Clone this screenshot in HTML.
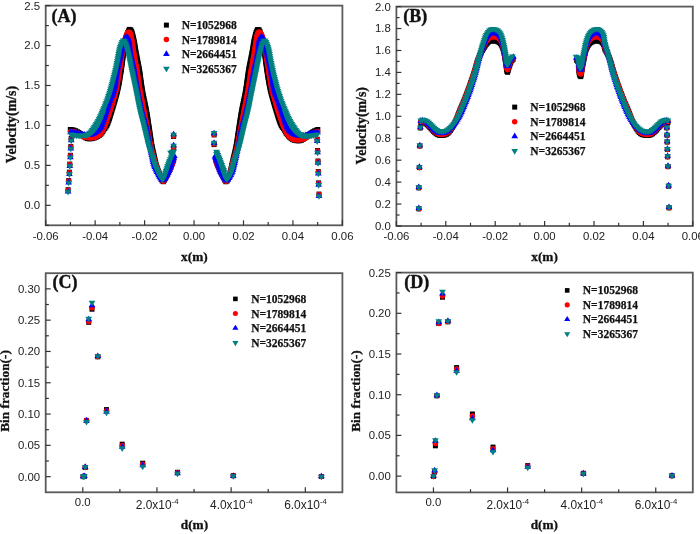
<!DOCTYPE html>
<html><head><meta charset="utf-8"><style>
html,body{margin:0;padding:0;background:#fff;}
body{width:700px;height:534px;overflow:hidden;}
svg{display:block;}
svg{will-change:transform;}
.tk{font-family:"Liberation Sans",sans-serif;font-size:11.4px;fill:#222;}
.lg{font-family:"Liberation Serif",serif;font-size:11.5px;font-weight:bold;fill:#111;stroke:#111;stroke-width:0.25px;}
.pt{font-family:"Liberation Serif",serif;font-size:18px;font-weight:bold;fill:#111;stroke:#111;stroke-width:0.4px;}
.al{font-family:"Liberation Serif",serif;font-size:13.3px;font-weight:bold;fill:#111;stroke:#111;stroke-width:0.3px;}
</style></head><body>
<svg width="700" height="534" viewBox="0 0 700 534">
<rect x="45.7" y="5.6" width="296.7" height="219.7" fill="none" stroke="#5a5a5a" stroke-width="1.8"/>
<line x1="45.7" y1="205.33" x2="50.7" y2="205.33" stroke="#333" stroke-width="1.2"/>
<line x1="45.7" y1="165.38" x2="50.7" y2="165.38" stroke="#333" stroke-width="1.2"/>
<line x1="45.7" y1="125.44" x2="50.7" y2="125.44" stroke="#333" stroke-width="1.2"/>
<line x1="45.7" y1="85.49" x2="50.7" y2="85.49" stroke="#333" stroke-width="1.2"/>
<line x1="45.7" y1="45.55" x2="50.7" y2="45.55" stroke="#333" stroke-width="1.2"/>
<line x1="45.7" y1="5.6" x2="50.7" y2="5.6" stroke="#333" stroke-width="1.2"/>
<line x1="45.7" y1="225.3" x2="48.9" y2="225.3" stroke="#333" stroke-width="1.2"/>
<line x1="45.7" y1="185.35" x2="48.9" y2="185.35" stroke="#333" stroke-width="1.2"/>
<line x1="45.7" y1="145.41" x2="48.9" y2="145.41" stroke="#333" stroke-width="1.2"/>
<line x1="45.7" y1="105.46" x2="48.9" y2="105.46" stroke="#333" stroke-width="1.2"/>
<line x1="45.7" y1="65.52" x2="48.9" y2="65.52" stroke="#333" stroke-width="1.2"/>
<line x1="45.7" y1="25.57" x2="48.9" y2="25.57" stroke="#333" stroke-width="1.2"/>
<text x="40.1" y="209.23" text-anchor="end" class="tk">0.0</text>
<text x="40.1" y="169.28" text-anchor="end" class="tk">0.5</text>
<text x="40.1" y="129.34" text-anchor="end" class="tk">1.0</text>
<text x="40.1" y="89.39" text-anchor="end" class="tk">1.5</text>
<text x="40.1" y="49.45" text-anchor="end" class="tk">2.0</text>
<text x="40.1" y="9.5" text-anchor="end" class="tk">2.5</text>
<line x1="45.7" y1="225.3" x2="45.7" y2="220.3" stroke="#333" stroke-width="1.2"/>
<line x1="95.15" y1="225.3" x2="95.15" y2="220.3" stroke="#333" stroke-width="1.2"/>
<line x1="144.6" y1="225.3" x2="144.6" y2="220.3" stroke="#333" stroke-width="1.2"/>
<line x1="194.05" y1="225.3" x2="194.05" y2="220.3" stroke="#333" stroke-width="1.2"/>
<line x1="243.5" y1="225.3" x2="243.5" y2="220.3" stroke="#333" stroke-width="1.2"/>
<line x1="292.95" y1="225.3" x2="292.95" y2="220.3" stroke="#333" stroke-width="1.2"/>
<line x1="342.4" y1="225.3" x2="342.4" y2="220.3" stroke="#333" stroke-width="1.2"/>
<line x1="70.42" y1="225.3" x2="70.42" y2="222.1" stroke="#333" stroke-width="1.2"/>
<line x1="119.88" y1="225.3" x2="119.88" y2="222.1" stroke="#333" stroke-width="1.2"/>
<line x1="169.32" y1="225.3" x2="169.32" y2="222.1" stroke="#333" stroke-width="1.2"/>
<line x1="218.77" y1="225.3" x2="218.77" y2="222.1" stroke="#333" stroke-width="1.2"/>
<line x1="268.22" y1="225.3" x2="268.22" y2="222.1" stroke="#333" stroke-width="1.2"/>
<line x1="317.68" y1="225.3" x2="317.68" y2="222.1" stroke="#333" stroke-width="1.2"/>
<text x="45.7" y="239.6" text-anchor="middle" class="tk">-0.06</text>
<text x="95.15" y="239.6" text-anchor="middle" class="tk">-0.04</text>
<text x="144.6" y="239.6" text-anchor="middle" class="tk">-0.02</text>
<text x="194.05" y="239.6" text-anchor="middle" class="tk">0.00</text>
<text x="243.5" y="239.6" text-anchor="middle" class="tk">0.02</text>
<text x="292.95" y="239.6" text-anchor="middle" class="tk">0.04</text>
<text x="342.4" y="239.6" text-anchor="middle" class="tk">0.06</text>
<rect x="396.4" y="6.6" width="296.4" height="219.4" fill="none" stroke="#5a5a5a" stroke-width="1.8"/>
<line x1="396.4" y1="226" x2="401.4" y2="226" stroke="#333" stroke-width="1.2"/>
<line x1="396.4" y1="204.06" x2="401.4" y2="204.06" stroke="#333" stroke-width="1.2"/>
<line x1="396.4" y1="182.12" x2="401.4" y2="182.12" stroke="#333" stroke-width="1.2"/>
<line x1="396.4" y1="160.18" x2="401.4" y2="160.18" stroke="#333" stroke-width="1.2"/>
<line x1="396.4" y1="138.24" x2="401.4" y2="138.24" stroke="#333" stroke-width="1.2"/>
<line x1="396.4" y1="116.3" x2="401.4" y2="116.3" stroke="#333" stroke-width="1.2"/>
<line x1="396.4" y1="94.36" x2="401.4" y2="94.36" stroke="#333" stroke-width="1.2"/>
<line x1="396.4" y1="72.42" x2="401.4" y2="72.42" stroke="#333" stroke-width="1.2"/>
<line x1="396.4" y1="50.48" x2="401.4" y2="50.48" stroke="#333" stroke-width="1.2"/>
<line x1="396.4" y1="28.54" x2="401.4" y2="28.54" stroke="#333" stroke-width="1.2"/>
<line x1="396.4" y1="6.6" x2="401.4" y2="6.6" stroke="#333" stroke-width="1.2"/>
<line x1="396.4" y1="215.03" x2="399.6" y2="215.03" stroke="#333" stroke-width="1.2"/>
<line x1="396.4" y1="193.09" x2="399.6" y2="193.09" stroke="#333" stroke-width="1.2"/>
<line x1="396.4" y1="171.15" x2="399.6" y2="171.15" stroke="#333" stroke-width="1.2"/>
<line x1="396.4" y1="149.21" x2="399.6" y2="149.21" stroke="#333" stroke-width="1.2"/>
<line x1="396.4" y1="127.27" x2="399.6" y2="127.27" stroke="#333" stroke-width="1.2"/>
<line x1="396.4" y1="105.33" x2="399.6" y2="105.33" stroke="#333" stroke-width="1.2"/>
<line x1="396.4" y1="83.39" x2="399.6" y2="83.39" stroke="#333" stroke-width="1.2"/>
<line x1="396.4" y1="61.45" x2="399.6" y2="61.45" stroke="#333" stroke-width="1.2"/>
<line x1="396.4" y1="39.51" x2="399.6" y2="39.51" stroke="#333" stroke-width="1.2"/>
<line x1="396.4" y1="17.57" x2="399.6" y2="17.57" stroke="#333" stroke-width="1.2"/>
<text x="390.8" y="229.9" text-anchor="end" class="tk">0.0</text>
<text x="390.8" y="207.96" text-anchor="end" class="tk">0.2</text>
<text x="390.8" y="186.02" text-anchor="end" class="tk">0.4</text>
<text x="390.8" y="164.08" text-anchor="end" class="tk">0.6</text>
<text x="390.8" y="142.14" text-anchor="end" class="tk">0.8</text>
<text x="390.8" y="120.2" text-anchor="end" class="tk">1.0</text>
<text x="390.8" y="98.26" text-anchor="end" class="tk">1.2</text>
<text x="390.8" y="76.32" text-anchor="end" class="tk">1.4</text>
<text x="390.8" y="54.38" text-anchor="end" class="tk">1.6</text>
<text x="390.8" y="32.44" text-anchor="end" class="tk">1.8</text>
<text x="390.8" y="10.5" text-anchor="end" class="tk">2.0</text>
<line x1="396.4" y1="226" x2="396.4" y2="221" stroke="#333" stroke-width="1.2"/>
<line x1="445.8" y1="226" x2="445.8" y2="221" stroke="#333" stroke-width="1.2"/>
<line x1="495.2" y1="226" x2="495.2" y2="221" stroke="#333" stroke-width="1.2"/>
<line x1="544.6" y1="226" x2="544.6" y2="221" stroke="#333" stroke-width="1.2"/>
<line x1="594" y1="226" x2="594" y2="221" stroke="#333" stroke-width="1.2"/>
<line x1="643.4" y1="226" x2="643.4" y2="221" stroke="#333" stroke-width="1.2"/>
<line x1="692.8" y1="226" x2="692.8" y2="221" stroke="#333" stroke-width="1.2"/>
<line x1="421.1" y1="226" x2="421.1" y2="222.8" stroke="#333" stroke-width="1.2"/>
<line x1="470.5" y1="226" x2="470.5" y2="222.8" stroke="#333" stroke-width="1.2"/>
<line x1="519.9" y1="226" x2="519.9" y2="222.8" stroke="#333" stroke-width="1.2"/>
<line x1="569.3" y1="226" x2="569.3" y2="222.8" stroke="#333" stroke-width="1.2"/>
<line x1="618.7" y1="226" x2="618.7" y2="222.8" stroke="#333" stroke-width="1.2"/>
<line x1="668.1" y1="226" x2="668.1" y2="222.8" stroke="#333" stroke-width="1.2"/>
<text x="396.4" y="240.3" text-anchor="middle" class="tk">-0.06</text>
<text x="445.8" y="240.3" text-anchor="middle" class="tk">-0.04</text>
<text x="495.2" y="240.3" text-anchor="middle" class="tk">-0.02</text>
<text x="544.6" y="240.3" text-anchor="middle" class="tk">0.00</text>
<text x="594" y="240.3" text-anchor="middle" class="tk">0.02</text>
<text x="643.4" y="240.3" text-anchor="middle" class="tk">0.04</text>
<text x="692.8" y="240.3" text-anchor="middle" class="tk">0.06</text>
<rect x="45.7" y="273.2" width="296.7" height="219.1" fill="none" stroke="#5a5a5a" stroke-width="1.8"/>
<line x1="45.7" y1="476.65" x2="50.7" y2="476.65" stroke="#333" stroke-width="1.2"/>
<line x1="45.7" y1="445.35" x2="50.7" y2="445.35" stroke="#333" stroke-width="1.2"/>
<line x1="45.7" y1="414.05" x2="50.7" y2="414.05" stroke="#333" stroke-width="1.2"/>
<line x1="45.7" y1="382.75" x2="50.7" y2="382.75" stroke="#333" stroke-width="1.2"/>
<line x1="45.7" y1="351.45" x2="50.7" y2="351.45" stroke="#333" stroke-width="1.2"/>
<line x1="45.7" y1="320.15" x2="50.7" y2="320.15" stroke="#333" stroke-width="1.2"/>
<line x1="45.7" y1="288.85" x2="50.7" y2="288.85" stroke="#333" stroke-width="1.2"/>
<line x1="45.7" y1="461" x2="48.9" y2="461" stroke="#333" stroke-width="1.2"/>
<line x1="45.7" y1="429.7" x2="48.9" y2="429.7" stroke="#333" stroke-width="1.2"/>
<line x1="45.7" y1="398.4" x2="48.9" y2="398.4" stroke="#333" stroke-width="1.2"/>
<line x1="45.7" y1="367.1" x2="48.9" y2="367.1" stroke="#333" stroke-width="1.2"/>
<line x1="45.7" y1="335.8" x2="48.9" y2="335.8" stroke="#333" stroke-width="1.2"/>
<line x1="45.7" y1="304.5" x2="48.9" y2="304.5" stroke="#333" stroke-width="1.2"/>
<text x="40.1" y="480.55" text-anchor="end" class="tk">0.00</text>
<text x="40.1" y="449.25" text-anchor="end" class="tk">0.05</text>
<text x="40.1" y="417.95" text-anchor="end" class="tk">0.10</text>
<text x="40.1" y="386.65" text-anchor="end" class="tk">0.15</text>
<text x="40.1" y="355.35" text-anchor="end" class="tk">0.20</text>
<text x="40.1" y="324.05" text-anchor="end" class="tk">0.25</text>
<text x="40.1" y="292.75" text-anchor="end" class="tk">0.30</text>
<line x1="82.79" y1="492.3" x2="82.79" y2="487.3" stroke="#333" stroke-width="1.2"/>
<line x1="156.96" y1="492.3" x2="156.96" y2="487.3" stroke="#333" stroke-width="1.2"/>
<line x1="231.14" y1="492.3" x2="231.14" y2="487.3" stroke="#333" stroke-width="1.2"/>
<line x1="305.31" y1="492.3" x2="305.31" y2="487.3" stroke="#333" stroke-width="1.2"/>
<line x1="119.88" y1="492.3" x2="119.88" y2="489.1" stroke="#333" stroke-width="1.2"/>
<line x1="194.05" y1="492.3" x2="194.05" y2="489.1" stroke="#333" stroke-width="1.2"/>
<line x1="268.22" y1="492.3" x2="268.22" y2="489.1" stroke="#333" stroke-width="1.2"/>
<text x="82.79" y="506.3" text-anchor="middle" class="tk">0.0</text>
<text x="157.16" y="508.8" text-anchor="middle" class="tk" style="font-size:11.9px">2.0x10<tspan dy="-5.2" font-size="7.8">-4</tspan></text>
<text x="231.34" y="508.8" text-anchor="middle" class="tk" style="font-size:11.9px">4.0x10<tspan dy="-5.2" font-size="7.8">-4</tspan></text>
<text x="305.51" y="508.8" text-anchor="middle" class="tk" style="font-size:11.9px">6.0x10<tspan dy="-5.2" font-size="7.8">-4</tspan></text>
<rect x="396.4" y="272.6" width="296.4" height="219.8" fill="none" stroke="#5a5a5a" stroke-width="1.8"/>
<line x1="396.4" y1="476.12" x2="401.4" y2="476.12" stroke="#333" stroke-width="1.2"/>
<line x1="396.4" y1="435.41" x2="401.4" y2="435.41" stroke="#333" stroke-width="1.2"/>
<line x1="396.4" y1="394.71" x2="401.4" y2="394.71" stroke="#333" stroke-width="1.2"/>
<line x1="396.4" y1="354.01" x2="401.4" y2="354.01" stroke="#333" stroke-width="1.2"/>
<line x1="396.4" y1="313.3" x2="401.4" y2="313.3" stroke="#333" stroke-width="1.2"/>
<line x1="396.4" y1="272.6" x2="401.4" y2="272.6" stroke="#333" stroke-width="1.2"/>
<line x1="396.4" y1="455.77" x2="399.6" y2="455.77" stroke="#333" stroke-width="1.2"/>
<line x1="396.4" y1="415.06" x2="399.6" y2="415.06" stroke="#333" stroke-width="1.2"/>
<line x1="396.4" y1="374.36" x2="399.6" y2="374.36" stroke="#333" stroke-width="1.2"/>
<line x1="396.4" y1="333.66" x2="399.6" y2="333.66" stroke="#333" stroke-width="1.2"/>
<line x1="396.4" y1="292.95" x2="399.6" y2="292.95" stroke="#333" stroke-width="1.2"/>
<text x="390.8" y="480.02" text-anchor="end" class="tk">0.00</text>
<text x="390.8" y="439.31" text-anchor="end" class="tk">0.05</text>
<text x="390.8" y="398.61" text-anchor="end" class="tk">0.10</text>
<text x="390.8" y="357.91" text-anchor="end" class="tk">0.15</text>
<text x="390.8" y="317.2" text-anchor="end" class="tk">0.20</text>
<text x="390.8" y="276.5" text-anchor="end" class="tk">0.25</text>
<line x1="433.45" y1="492.4" x2="433.45" y2="487.4" stroke="#333" stroke-width="1.2"/>
<line x1="507.55" y1="492.4" x2="507.55" y2="487.4" stroke="#333" stroke-width="1.2"/>
<line x1="581.65" y1="492.4" x2="581.65" y2="487.4" stroke="#333" stroke-width="1.2"/>
<line x1="655.75" y1="492.4" x2="655.75" y2="487.4" stroke="#333" stroke-width="1.2"/>
<line x1="470.5" y1="492.4" x2="470.5" y2="489.2" stroke="#333" stroke-width="1.2"/>
<line x1="544.6" y1="492.4" x2="544.6" y2="489.2" stroke="#333" stroke-width="1.2"/>
<line x1="618.7" y1="492.4" x2="618.7" y2="489.2" stroke="#333" stroke-width="1.2"/>
<text x="433.45" y="506.4" text-anchor="middle" class="tk">0.0</text>
<text x="507.75" y="508.9" text-anchor="middle" class="tk" style="font-size:11.9px">2.0x10<tspan dy="-5.2" font-size="7.8">-4</tspan></text>
<text x="581.85" y="508.9" text-anchor="middle" class="tk" style="font-size:11.9px">4.0x10<tspan dy="-5.2" font-size="7.8">-4</tspan></text>
<text x="655.95" y="508.9" text-anchor="middle" class="tk" style="font-size:11.9px">6.0x10<tspan dy="-5.2" font-size="7.8">-4</tspan></text>
<rect x="65.6" y="187.2" width="5" height="5" fill="#000"/>
<rect x="66.2" y="178.1" width="5" height="5" fill="#000"/>
<rect x="66.9" y="169.7" width="5" height="5" fill="#000"/>
<rect x="67.3" y="161.6" width="5" height="5" fill="#000"/>
<rect x="67.9" y="152.8" width="5" height="5" fill="#000"/>
<rect x="68.3" y="144.1" width="5" height="5" fill="#000"/>
<rect x="68.7" y="136" width="5" height="5" fill="#000"/>
<rect x="171.1" y="145.5" width="5" height="5" fill="#000"/>
<rect x="171.1" y="134" width="5" height="5" fill="#000"/>
<rect x="67.8" y="127" width="5" height="5" fill="#000"/>
<rect x="69.58" y="127.25" width="5" height="5" fill="#000"/>
<rect x="71.35" y="127.61" width="5" height="5" fill="#000"/>
<rect x="73.03" y="128.24" width="5" height="5" fill="#000"/>
<rect x="74.63" y="129.07" width="5" height="5" fill="#000"/>
<rect x="76.17" y="129.98" width="5" height="5" fill="#000"/>
<rect x="77.69" y="130.96" width="5" height="5" fill="#000"/>
<rect x="79.16" y="131.99" width="5" height="5" fill="#000"/>
<rect x="80.53" y="133.16" width="5" height="5" fill="#000"/>
<rect x="81.88" y="134.36" width="5" height="5" fill="#000"/>
<rect x="83.33" y="135.4" width="5" height="5" fill="#000"/>
<rect x="85" y="136.08" width="5" height="5" fill="#000"/>
<rect x="86.77" y="136.33" width="5" height="5" fill="#000"/>
<rect x="88.57" y="136.24" width="5" height="5" fill="#000"/>
<rect x="90.34" y="135.9" width="5" height="5" fill="#000"/>
<rect x="92.06" y="135.38" width="5" height="5" fill="#000"/>
<rect x="93.72" y="134.7" width="5" height="5" fill="#000"/>
<rect x="95.31" y="133.86" width="5" height="5" fill="#000"/>
<rect x="96.82" y="132.88" width="5" height="5" fill="#000"/>
<rect x="98.23" y="131.75" width="5" height="5" fill="#000"/>
<rect x="99.42" y="130.41" width="5" height="5" fill="#000"/>
<rect x="100.37" y="128.88" width="5" height="5" fill="#000"/>
<rect x="101.28" y="127.33" width="5" height="5" fill="#000"/>
<rect x="102.37" y="125.9" width="5" height="5" fill="#000"/>
<rect x="103.49" y="124.49" width="5" height="5" fill="#000"/>
<rect x="104.38" y="122.93" width="5" height="5" fill="#000"/>
<rect x="105.11" y="121.29" width="5" height="5" fill="#000"/>
<rect x="105.75" y="119.61" width="5" height="5" fill="#000"/>
<rect x="106.36" y="117.91" width="5" height="5" fill="#000"/>
<rect x="106.93" y="116.2" width="5" height="5" fill="#000"/>
<rect x="107.48" y="114.49" width="5" height="5" fill="#000"/>
<rect x="108.01" y="112.77" width="5" height="5" fill="#000"/>
<rect x="108.53" y="111.05" width="5" height="5" fill="#000"/>
<rect x="109.05" y="109.32" width="5" height="5" fill="#000"/>
<rect x="109.57" y="107.6" width="5" height="5" fill="#000"/>
<rect x="110.1" y="105.88" width="5" height="5" fill="#000"/>
<rect x="110.63" y="104.16" width="5" height="5" fill="#000"/>
<rect x="111.15" y="102.43" width="5" height="5" fill="#000"/>
<rect x="111.66" y="100.71" width="5" height="5" fill="#000"/>
<rect x="112.16" y="98.98" width="5" height="5" fill="#000"/>
<rect x="112.66" y="97.25" width="5" height="5" fill="#000"/>
<rect x="113.15" y="95.52" width="5" height="5" fill="#000"/>
<rect x="113.63" y="93.79" width="5" height="5" fill="#000"/>
<rect x="114.1" y="92.05" width="5" height="5" fill="#000"/>
<rect x="114.56" y="90.31" width="5" height="5" fill="#000"/>
<rect x="114.99" y="88.56" width="5" height="5" fill="#000"/>
<rect x="115.38" y="86.8" width="5" height="5" fill="#000"/>
<rect x="115.76" y="85.04" width="5" height="5" fill="#000"/>
<rect x="116.11" y="83.28" width="5" height="5" fill="#000"/>
<rect x="116.45" y="81.51" width="5" height="5" fill="#000"/>
<rect x="116.78" y="79.74" width="5" height="5" fill="#000"/>
<rect x="117.09" y="77.97" width="5" height="5" fill="#000"/>
<rect x="117.4" y="76.19" width="5" height="5" fill="#000"/>
<rect x="117.69" y="74.42" width="5" height="5" fill="#000"/>
<rect x="117.97" y="72.64" width="5" height="5" fill="#000"/>
<rect x="118.24" y="70.86" width="5" height="5" fill="#000"/>
<rect x="118.51" y="69.08" width="5" height="5" fill="#000"/>
<rect x="118.78" y="67.3" width="5" height="5" fill="#000"/>
<rect x="119.03" y="65.52" width="5" height="5" fill="#000"/>
<rect x="119.28" y="63.74" width="5" height="5" fill="#000"/>
<rect x="119.53" y="61.95" width="5" height="5" fill="#000"/>
<rect x="119.77" y="60.17" width="5" height="5" fill="#000"/>
<rect x="120.02" y="58.39" width="5" height="5" fill="#000"/>
<rect x="120.25" y="56.6" width="5" height="5" fill="#000"/>
<rect x="120.48" y="54.82" width="5" height="5" fill="#000"/>
<rect x="120.71" y="53.03" width="5" height="5" fill="#000"/>
<rect x="120.94" y="51.25" width="5" height="5" fill="#000"/>
<rect x="121.19" y="49.46" width="5" height="5" fill="#000"/>
<rect x="121.47" y="47.68" width="5" height="5" fill="#000"/>
<rect x="121.78" y="45.91" width="5" height="5" fill="#000"/>
<rect x="122.11" y="44.14" width="5" height="5" fill="#000"/>
<rect x="122.46" y="42.38" width="5" height="5" fill="#000"/>
<rect x="122.83" y="40.61" width="5" height="5" fill="#000"/>
<rect x="123.21" y="38.85" width="5" height="5" fill="#000"/>
<rect x="123.59" y="37.09" width="5" height="5" fill="#000"/>
<rect x="123.97" y="35.34" width="5" height="5" fill="#000"/>
<rect x="124.36" y="33.58" width="5" height="5" fill="#000"/>
<rect x="124.78" y="31.83" width="5" height="5" fill="#000"/>
<rect x="125.27" y="30.1" width="5" height="5" fill="#000"/>
<rect x="125.89" y="28.41" width="5" height="5" fill="#000"/>
<rect x="126.83" y="26.88" width="5" height="5" fill="#000"/>
<rect x="128.32" y="27.32" width="5" height="5" fill="#000"/>
<rect x="129.17" y="28.9" width="5" height="5" fill="#000"/>
<rect x="129.72" y="30.61" width="5" height="5" fill="#000"/>
<rect x="130.17" y="32.35" width="5" height="5" fill="#000"/>
<rect x="130.6" y="34.1" width="5" height="5" fill="#000"/>
<rect x="131.03" y="35.85" width="5" height="5" fill="#000"/>
<rect x="131.42" y="37.61" width="5" height="5" fill="#000"/>
<rect x="131.79" y="39.37" width="5" height="5" fill="#000"/>
<rect x="132.11" y="41.14" width="5" height="5" fill="#000"/>
<rect x="132.39" y="42.92" width="5" height="5" fill="#000"/>
<rect x="132.65" y="44.7" width="5" height="5" fill="#000"/>
<rect x="132.93" y="46.48" width="5" height="5" fill="#000"/>
<rect x="133.23" y="48.25" width="5" height="5" fill="#000"/>
<rect x="133.56" y="50.02" width="5" height="5" fill="#000"/>
<rect x="133.9" y="51.79" width="5" height="5" fill="#000"/>
<rect x="134.24" y="53.56" width="5" height="5" fill="#000"/>
<rect x="134.58" y="55.33" width="5" height="5" fill="#000"/>
<rect x="134.92" y="57.09" width="5" height="5" fill="#000"/>
<rect x="135.27" y="58.86" width="5" height="5" fill="#000"/>
<rect x="135.63" y="60.62" width="5" height="5" fill="#000"/>
<rect x="135.99" y="62.39" width="5" height="5" fill="#000"/>
<rect x="136.34" y="64.15" width="5" height="5" fill="#000"/>
<rect x="136.66" y="65.92" width="5" height="5" fill="#000"/>
<rect x="136.97" y="67.7" width="5" height="5" fill="#000"/>
<rect x="137.25" y="69.47" width="5" height="5" fill="#000"/>
<rect x="137.51" y="71.25" width="5" height="5" fill="#000"/>
<rect x="137.77" y="73.04" width="5" height="5" fill="#000"/>
<rect x="138.01" y="74.82" width="5" height="5" fill="#000"/>
<rect x="138.25" y="76.6" width="5" height="5" fill="#000"/>
<rect x="138.49" y="78.39" width="5" height="5" fill="#000"/>
<rect x="138.74" y="80.17" width="5" height="5" fill="#000"/>
<rect x="138.99" y="81.95" width="5" height="5" fill="#000"/>
<rect x="139.25" y="83.74" width="5" height="5" fill="#000"/>
<rect x="139.52" y="85.51" width="5" height="5" fill="#000"/>
<rect x="139.8" y="87.29" width="5" height="5" fill="#000"/>
<rect x="140.1" y="89.07" width="5" height="5" fill="#000"/>
<rect x="140.42" y="90.84" width="5" height="5" fill="#000"/>
<rect x="140.76" y="92.61" width="5" height="5" fill="#000"/>
<rect x="141.11" y="94.37" width="5" height="5" fill="#000"/>
<rect x="141.47" y="96.13" width="5" height="5" fill="#000"/>
<rect x="141.84" y="97.9" width="5" height="5" fill="#000"/>
<rect x="142.21" y="99.66" width="5" height="5" fill="#000"/>
<rect x="142.58" y="101.42" width="5" height="5" fill="#000"/>
<rect x="142.95" y="103.18" width="5" height="5" fill="#000"/>
<rect x="143.31" y="104.95" width="5" height="5" fill="#000"/>
<rect x="143.66" y="106.71" width="5" height="5" fill="#000"/>
<rect x="144" y="108.48" width="5" height="5" fill="#000"/>
<rect x="144.31" y="110.25" width="5" height="5" fill="#000"/>
<rect x="144.62" y="112.02" width="5" height="5" fill="#000"/>
<rect x="144.91" y="113.8" width="5" height="5" fill="#000"/>
<rect x="145.19" y="115.58" width="5" height="5" fill="#000"/>
<rect x="145.47" y="117.36" width="5" height="5" fill="#000"/>
<rect x="145.73" y="119.14" width="5" height="5" fill="#000"/>
<rect x="146" y="120.92" width="5" height="5" fill="#000"/>
<rect x="146.28" y="122.7" width="5" height="5" fill="#000"/>
<rect x="146.55" y="124.48" width="5" height="5" fill="#000"/>
<rect x="146.82" y="126.26" width="5" height="5" fill="#000"/>
<rect x="147.08" y="128.04" width="5" height="5" fill="#000"/>
<rect x="147.35" y="129.82" width="5" height="5" fill="#000"/>
<rect x="147.61" y="131.6" width="5" height="5" fill="#000"/>
<rect x="147.87" y="133.38" width="5" height="5" fill="#000"/>
<rect x="148.13" y="135.16" width="5" height="5" fill="#000"/>
<rect x="148.4" y="136.94" width="5" height="5" fill="#000"/>
<rect x="148.68" y="138.72" width="5" height="5" fill="#000"/>
<rect x="148.96" y="140.49" width="5" height="5" fill="#000"/>
<rect x="149.26" y="142.27" width="5" height="5" fill="#000"/>
<rect x="149.58" y="144.04" width="5" height="5" fill="#000"/>
<rect x="149.93" y="145.81" width="5" height="5" fill="#000"/>
<rect x="150.31" y="147.57" width="5" height="5" fill="#000"/>
<rect x="150.71" y="149.32" width="5" height="5" fill="#000"/>
<rect x="151.13" y="151.07" width="5" height="5" fill="#000"/>
<rect x="151.54" y="152.82" width="5" height="5" fill="#000"/>
<rect x="151.94" y="154.58" width="5" height="5" fill="#000"/>
<rect x="152.32" y="156.34" width="5" height="5" fill="#000"/>
<rect x="152.69" y="158.1" width="5" height="5" fill="#000"/>
<rect x="153.1" y="159.85" width="5" height="5" fill="#000"/>
<rect x="153.54" y="161.6" width="5" height="5" fill="#000"/>
<rect x="154.05" y="163.32" width="5" height="5" fill="#000"/>
<rect x="154.61" y="165.04" width="5" height="5" fill="#000"/>
<rect x="155.2" y="166.73" width="5" height="5" fill="#000"/>
<rect x="155.82" y="168.42" width="5" height="5" fill="#000"/>
<rect x="156.46" y="170.11" width="5" height="5" fill="#000"/>
<rect x="157.11" y="171.79" width="5" height="5" fill="#000"/>
<rect x="157.72" y="173.48" width="5" height="5" fill="#000"/>
<rect x="158.31" y="175.18" width="5" height="5" fill="#000"/>
<rect x="158.94" y="176.87" width="5" height="5" fill="#000"/>
<rect x="159.68" y="178.51" width="5" height="5" fill="#000"/>
<rect x="161.01" y="179.2" width="5" height="5" fill="#000"/>
<rect x="161.95" y="177.68" width="5" height="5" fill="#000"/>
<rect x="162.71" y="176.04" width="5" height="5" fill="#000"/>
<rect x="163.57" y="174.46" width="5" height="5" fill="#000"/>
<rect x="164.39" y="172.86" width="5" height="5" fill="#000"/>
<rect x="165.17" y="171.24" width="5" height="5" fill="#000"/>
<rect x="165.95" y="169.61" width="5" height="5" fill="#000"/>
<rect x="166.73" y="167.99" width="5" height="5" fill="#000"/>
<rect x="167.51" y="166.37" width="5" height="5" fill="#000"/>
<rect x="168.26" y="164.73" width="5" height="5" fill="#000"/>
<rect x="168.97" y="163.08" width="5" height="5" fill="#000"/>
<rect x="169.59" y="161.39" width="5" height="5" fill="#000"/>
<rect x="170.16" y="159.68" width="5" height="5" fill="#000"/>
<rect x="170.7" y="157.97" width="5" height="5" fill="#000"/>
<rect x="314.7" y="136.7" width="5" height="5" fill="#000"/>
<rect x="315.1" y="148" width="5" height="5" fill="#000"/>
<rect x="315.5" y="158.5" width="5" height="5" fill="#000"/>
<rect x="315.8" y="169.1" width="5" height="5" fill="#000"/>
<rect x="316.1" y="180.4" width="5" height="5" fill="#000"/>
<rect x="316.5" y="191.6" width="5" height="5" fill="#000"/>
<rect x="211.6" y="132.4" width="5" height="5" fill="#000"/>
<rect x="211.6" y="142.1" width="5" height="5" fill="#000"/>
<rect x="315.3" y="127" width="5" height="5" fill="#000"/>
<rect x="313.63" y="127.67" width="5" height="5" fill="#000"/>
<rect x="311.98" y="128.4" width="5" height="5" fill="#000"/>
<rect x="310.41" y="129.26" width="5" height="5" fill="#000"/>
<rect x="308.91" y="130.27" width="5" height="5" fill="#000"/>
<rect x="307.46" y="131.33" width="5" height="5" fill="#000"/>
<rect x="306.02" y="132.41" width="5" height="5" fill="#000"/>
<rect x="304.59" y="133.51" width="5" height="5" fill="#000"/>
<rect x="303.21" y="134.66" width="5" height="5" fill="#000"/>
<rect x="301.86" y="135.85" width="5" height="5" fill="#000"/>
<rect x="300.46" y="136.97" width="5" height="5" fill="#000"/>
<rect x="298.88" y="137.82" width="5" height="5" fill="#000"/>
<rect x="297.14" y="138.27" width="5" height="5" fill="#000"/>
<rect x="295.34" y="138.31" width="5" height="5" fill="#000"/>
<rect x="293.55" y="138.13" width="5" height="5" fill="#000"/>
<rect x="291.79" y="137.74" width="5" height="5" fill="#000"/>
<rect x="290.12" y="137.09" width="5" height="5" fill="#000"/>
<rect x="288.61" y="136.11" width="5" height="5" fill="#000"/>
<rect x="287.26" y="134.92" width="5" height="5" fill="#000"/>
<rect x="286.01" y="133.63" width="5" height="5" fill="#000"/>
<rect x="284.83" y="132.27" width="5" height="5" fill="#000"/>
<rect x="283.76" y="130.82" width="5" height="5" fill="#000"/>
<rect x="282.87" y="129.26" width="5" height="5" fill="#000"/>
<rect x="282.01" y="127.68" width="5" height="5" fill="#000"/>
<rect x="281.01" y="126.19" width="5" height="5" fill="#000"/>
<rect x="279.85" y="124.81" width="5" height="5" fill="#000"/>
<rect x="278.89" y="123.29" width="5" height="5" fill="#000"/>
<rect x="278.14" y="121.65" width="5" height="5" fill="#000"/>
<rect x="277.48" y="119.98" width="5" height="5" fill="#000"/>
<rect x="276.87" y="118.29" width="5" height="5" fill="#000"/>
<rect x="276.29" y="116.58" width="5" height="5" fill="#000"/>
<rect x="275.74" y="114.87" width="5" height="5" fill="#000"/>
<rect x="275.21" y="113.15" width="5" height="5" fill="#000"/>
<rect x="274.69" y="111.43" width="5" height="5" fill="#000"/>
<rect x="274.17" y="109.7" width="5" height="5" fill="#000"/>
<rect x="273.64" y="107.98" width="5" height="5" fill="#000"/>
<rect x="273.12" y="106.26" width="5" height="5" fill="#000"/>
<rect x="272.59" y="104.54" width="5" height="5" fill="#000"/>
<rect x="272.07" y="102.82" width="5" height="5" fill="#000"/>
<rect x="271.55" y="101.09" width="5" height="5" fill="#000"/>
<rect x="271.05" y="99.36" width="5" height="5" fill="#000"/>
<rect x="270.55" y="97.63" width="5" height="5" fill="#000"/>
<rect x="270.06" y="95.9" width="5" height="5" fill="#000"/>
<rect x="269.57" y="94.17" width="5" height="5" fill="#000"/>
<rect x="269.1" y="92.43" width="5" height="5" fill="#000"/>
<rect x="268.64" y="90.69" width="5" height="5" fill="#000"/>
<rect x="268.21" y="88.94" width="5" height="5" fill="#000"/>
<rect x="267.8" y="87.19" width="5" height="5" fill="#000"/>
<rect x="267.42" y="85.43" width="5" height="5" fill="#000"/>
<rect x="267.06" y="83.67" width="5" height="5" fill="#000"/>
<rect x="266.72" y="81.9" width="5" height="5" fill="#000"/>
<rect x="266.4" y="80.13" width="5" height="5" fill="#000"/>
<rect x="266.07" y="78.36" width="5" height="5" fill="#000"/>
<rect x="265.77" y="76.59" width="5" height="5" fill="#000"/>
<rect x="265.47" y="74.81" width="5" height="5" fill="#000"/>
<rect x="265.19" y="73.03" width="5" height="5" fill="#000"/>
<rect x="264.92" y="71.25" width="5" height="5" fill="#000"/>
<rect x="264.65" y="69.47" width="5" height="5" fill="#000"/>
<rect x="264.38" y="67.69" width="5" height="5" fill="#000"/>
<rect x="264.12" y="65.91" width="5" height="5" fill="#000"/>
<rect x="263.87" y="64.13" width="5" height="5" fill="#000"/>
<rect x="263.63" y="62.35" width="5" height="5" fill="#000"/>
<rect x="263.38" y="60.56" width="5" height="5" fill="#000"/>
<rect x="263.14" y="58.78" width="5" height="5" fill="#000"/>
<rect x="262.9" y="57" width="5" height="5" fill="#000"/>
<rect x="262.67" y="55.21" width="5" height="5" fill="#000"/>
<rect x="262.44" y="53.42" width="5" height="5" fill="#000"/>
<rect x="262.21" y="51.64" width="5" height="5" fill="#000"/>
<rect x="261.96" y="49.86" width="5" height="5" fill="#000"/>
<rect x="261.69" y="48.08" width="5" height="5" fill="#000"/>
<rect x="261.39" y="46.3" width="5" height="5" fill="#000"/>
<rect x="261.07" y="44.53" width="5" height="5" fill="#000"/>
<rect x="260.72" y="42.77" width="5" height="5" fill="#000"/>
<rect x="260.35" y="41" width="5" height="5" fill="#000"/>
<rect x="259.98" y="39.24" width="5" height="5" fill="#000"/>
<rect x="259.6" y="37.48" width="5" height="5" fill="#000"/>
<rect x="259.22" y="35.72" width="5" height="5" fill="#000"/>
<rect x="258.83" y="33.97" width="5" height="5" fill="#000"/>
<rect x="258.42" y="32.21" width="5" height="5" fill="#000"/>
<rect x="257.95" y="30.48" width="5" height="5" fill="#000"/>
<rect x="257.36" y="28.78" width="5" height="5" fill="#000"/>
<rect x="256.54" y="27.18" width="5" height="5" fill="#000"/>
<rect x="255.04" y="27.02" width="5" height="5" fill="#000"/>
<rect x="254.09" y="28.53" width="5" height="5" fill="#000"/>
<rect x="253.49" y="30.23" width="5" height="5" fill="#000"/>
<rect x="253.02" y="31.97" width="5" height="5" fill="#000"/>
<rect x="252.59" y="33.72" width="5" height="5" fill="#000"/>
<rect x="252.16" y="35.46" width="5" height="5" fill="#000"/>
<rect x="251.76" y="37.22" width="5" height="5" fill="#000"/>
<rect x="251.39" y="38.98" width="5" height="5" fill="#000"/>
<rect x="251.06" y="40.75" width="5" height="5" fill="#000"/>
<rect x="250.77" y="42.53" width="5" height="5" fill="#000"/>
<rect x="250.51" y="44.31" width="5" height="5" fill="#000"/>
<rect x="250.24" y="46.09" width="5" height="5" fill="#000"/>
<rect x="249.94" y="47.86" width="5" height="5" fill="#000"/>
<rect x="249.61" y="49.63" width="5" height="5" fill="#000"/>
<rect x="249.28" y="51.4" width="5" height="5" fill="#000"/>
<rect x="248.94" y="53.17" width="5" height="5" fill="#000"/>
<rect x="248.59" y="54.93" width="5" height="5" fill="#000"/>
<rect x="248.25" y="56.7" width="5" height="5" fill="#000"/>
<rect x="247.91" y="58.47" width="5" height="5" fill="#000"/>
<rect x="247.55" y="60.23" width="5" height="5" fill="#000"/>
<rect x="247.19" y="62" width="5" height="5" fill="#000"/>
<rect x="246.84" y="63.76" width="5" height="5" fill="#000"/>
<rect x="246.51" y="65.53" width="5" height="5" fill="#000"/>
<rect x="246.2" y="67.3" width="5" height="5" fill="#000"/>
<rect x="245.91" y="69.08" width="5" height="5" fill="#000"/>
<rect x="245.64" y="70.86" width="5" height="5" fill="#000"/>
<rect x="245.39" y="72.64" width="5" height="5" fill="#000"/>
<rect x="245.14" y="74.43" width="5" height="5" fill="#000"/>
<rect x="244.9" y="76.21" width="5" height="5" fill="#000"/>
<rect x="244.66" y="77.99" width="5" height="5" fill="#000"/>
<rect x="244.42" y="79.78" width="5" height="5" fill="#000"/>
<rect x="244.17" y="81.56" width="5" height="5" fill="#000"/>
<rect x="243.91" y="83.34" width="5" height="5" fill="#000"/>
<rect x="243.64" y="85.12" width="5" height="5" fill="#000"/>
<rect x="243.37" y="86.9" width="5" height="5" fill="#000"/>
<rect x="243.07" y="88.68" width="5" height="5" fill="#000"/>
<rect x="242.75" y="90.45" width="5" height="5" fill="#000"/>
<rect x="242.41" y="92.22" width="5" height="5" fill="#000"/>
<rect x="242.07" y="93.98" width="5" height="5" fill="#000"/>
<rect x="241.71" y="95.74" width="5" height="5" fill="#000"/>
<rect x="241.34" y="97.51" width="5" height="5" fill="#000"/>
<rect x="240.97" y="99.27" width="5" height="5" fill="#000"/>
<rect x="240.6" y="101.03" width="5" height="5" fill="#000"/>
<rect x="240.23" y="102.79" width="5" height="5" fill="#000"/>
<rect x="239.87" y="104.56" width="5" height="5" fill="#000"/>
<rect x="239.52" y="106.32" width="5" height="5" fill="#000"/>
<rect x="239.18" y="108.09" width="5" height="5" fill="#000"/>
<rect x="238.86" y="109.86" width="5" height="5" fill="#000"/>
<rect x="238.55" y="111.63" width="5" height="5" fill="#000"/>
<rect x="238.25" y="113.41" width="5" height="5" fill="#000"/>
<rect x="237.97" y="115.19" width="5" height="5" fill="#000"/>
<rect x="237.69" y="116.96" width="5" height="5" fill="#000"/>
<rect x="237.42" y="118.74" width="5" height="5" fill="#000"/>
<rect x="237.16" y="120.52" width="5" height="5" fill="#000"/>
<rect x="236.88" y="122.3" width="5" height="5" fill="#000"/>
<rect x="236.61" y="124.08" width="5" height="5" fill="#000"/>
<rect x="236.34" y="125.86" width="5" height="5" fill="#000"/>
<rect x="236.07" y="127.64" width="5" height="5" fill="#000"/>
<rect x="235.81" y="129.42" width="5" height="5" fill="#000"/>
<rect x="235.55" y="131.2" width="5" height="5" fill="#000"/>
<rect x="235.29" y="132.98" width="5" height="5" fill="#000"/>
<rect x="235.02" y="134.77" width="5" height="5" fill="#000"/>
<rect x="234.76" y="136.55" width="5" height="5" fill="#000"/>
<rect x="234.48" y="138.32" width="5" height="5" fill="#000"/>
<rect x="234.2" y="140.1" width="5" height="5" fill="#000"/>
<rect x="233.91" y="141.88" width="5" height="5" fill="#000"/>
<rect x="233.59" y="143.65" width="5" height="5" fill="#000"/>
<rect x="233.25" y="145.42" width="5" height="5" fill="#000"/>
<rect x="232.88" y="147.18" width="5" height="5" fill="#000"/>
<rect x="232.48" y="148.93" width="5" height="5" fill="#000"/>
<rect x="232.06" y="150.68" width="5" height="5" fill="#000"/>
<rect x="231.64" y="152.44" width="5" height="5" fill="#000"/>
<rect x="231.24" y="154.19" width="5" height="5" fill="#000"/>
<rect x="230.84" y="155.94" width="5" height="5" fill="#000"/>
<rect x="230.43" y="157.7" width="5" height="5" fill="#000"/>
<rect x="230.01" y="159.45" width="5" height="5" fill="#000"/>
<rect x="229.6" y="161.2" width="5" height="5" fill="#000"/>
<rect x="229.2" y="162.96" width="5" height="5" fill="#000"/>
<rect x="228.84" y="164.72" width="5" height="5" fill="#000"/>
<rect x="228.49" y="166.48" width="5" height="5" fill="#000"/>
<rect x="228.13" y="168.25" width="5" height="5" fill="#000"/>
<rect x="227.72" y="170" width="5" height="5" fill="#000"/>
<rect x="227.23" y="171.73" width="5" height="5" fill="#000"/>
<rect x="226.67" y="173.44" width="5" height="5" fill="#000"/>
<rect x="226.09" y="175.15" width="5" height="5" fill="#000"/>
<rect x="225.44" y="176.83" width="5" height="5" fill="#000"/>
<rect x="224.67" y="178.45" width="5" height="5" fill="#000"/>
<rect x="223.34" y="179.25" width="5" height="5" fill="#000"/>
<rect x="222.38" y="177.74" width="5" height="5" fill="#000"/>
<rect x="221.62" y="176.11" width="5" height="5" fill="#000"/>
<rect x="220.76" y="174.53" width="5" height="5" fill="#000"/>
<rect x="219.95" y="172.93" width="5" height="5" fill="#000"/>
<rect x="219.16" y="171.31" width="5" height="5" fill="#000"/>
<rect x="218.39" y="169.68" width="5" height="5" fill="#000"/>
<rect x="217.6" y="168.06" width="5" height="5" fill="#000"/>
<rect x="216.83" y="166.44" width="5" height="5" fill="#000"/>
<rect x="216.07" y="164.8" width="5" height="5" fill="#000"/>
<rect x="215.36" y="163.15" width="5" height="5" fill="#000"/>
<rect x="214.73" y="161.46" width="5" height="5" fill="#000"/>
<rect x="214.16" y="159.75" width="5" height="5" fill="#000"/>
<rect x="213.63" y="158.04" width="5" height="5" fill="#000"/>
<circle cx="68.1" cy="190.2" r="2.75" fill="#f00"/>
<circle cx="68.7" cy="181.1" r="2.75" fill="#f00"/>
<circle cx="69.4" cy="172.7" r="2.75" fill="#f00"/>
<circle cx="69.8" cy="164.6" r="2.75" fill="#f00"/>
<circle cx="70.4" cy="155.8" r="2.75" fill="#f00"/>
<circle cx="70.8" cy="147.1" r="2.75" fill="#f00"/>
<circle cx="71.2" cy="139" r="2.75" fill="#f00"/>
<circle cx="173.6" cy="147.2" r="2.75" fill="#f00"/>
<circle cx="173.6" cy="136" r="2.75" fill="#f00"/>
<circle cx="70.5" cy="131.4" r="2.75" fill="#f00"/>
<circle cx="72.29" cy="131.54" r="2.75" fill="#f00"/>
<circle cx="74.08" cy="131.76" r="2.75" fill="#f00"/>
<circle cx="75.81" cy="132.23" r="2.75" fill="#f00"/>
<circle cx="77.42" cy="133.05" r="2.75" fill="#f00"/>
<circle cx="78.92" cy="134.04" r="2.75" fill="#f00"/>
<circle cx="80.4" cy="135.05" r="2.75" fill="#f00"/>
<circle cx="81.94" cy="136" r="2.75" fill="#f00"/>
<circle cx="83.58" cy="136.73" r="2.75" fill="#f00"/>
<circle cx="85.3" cy="137.25" r="2.75" fill="#f00"/>
<circle cx="87.06" cy="137.6" r="2.75" fill="#f00"/>
<circle cx="88.85" cy="137.82" r="2.75" fill="#f00"/>
<circle cx="90.65" cy="137.9" r="2.75" fill="#f00"/>
<circle cx="92.44" cy="137.79" r="2.75" fill="#f00"/>
<circle cx="94.21" cy="137.43" r="2.75" fill="#f00"/>
<circle cx="95.91" cy="136.85" r="2.75" fill="#f00"/>
<circle cx="97.54" cy="136.09" r="2.75" fill="#f00"/>
<circle cx="99.06" cy="135.13" r="2.75" fill="#f00"/>
<circle cx="100.39" cy="133.92" r="2.75" fill="#f00"/>
<circle cx="101.5" cy="132.51" r="2.75" fill="#f00"/>
<circle cx="102.43" cy="130.97" r="2.75" fill="#f00"/>
<circle cx="103.26" cy="129.37" r="2.75" fill="#f00"/>
<circle cx="104.03" cy="127.74" r="2.75" fill="#f00"/>
<circle cx="104.76" cy="126.1" r="2.75" fill="#f00"/>
<circle cx="105.43" cy="124.43" r="2.75" fill="#f00"/>
<circle cx="106.01" cy="122.72" r="2.75" fill="#f00"/>
<circle cx="106.55" cy="121" r="2.75" fill="#f00"/>
<circle cx="107.1" cy="119.29" r="2.75" fill="#f00"/>
<circle cx="107.7" cy="117.59" r="2.75" fill="#f00"/>
<circle cx="108.31" cy="115.9" r="2.75" fill="#f00"/>
<circle cx="108.91" cy="114.21" r="2.75" fill="#f00"/>
<circle cx="109.5" cy="112.5" r="2.75" fill="#f00"/>
<circle cx="110.07" cy="110.8" r="2.75" fill="#f00"/>
<circle cx="110.6" cy="109.08" r="2.75" fill="#f00"/>
<circle cx="111.13" cy="107.36" r="2.75" fill="#f00"/>
<circle cx="111.64" cy="105.63" r="2.75" fill="#f00"/>
<circle cx="112.15" cy="103.9" r="2.75" fill="#f00"/>
<circle cx="112.65" cy="102.18" r="2.75" fill="#f00"/>
<circle cx="113.16" cy="100.45" r="2.75" fill="#f00"/>
<circle cx="113.69" cy="98.73" r="2.75" fill="#f00"/>
<circle cx="114.22" cy="97.01" r="2.75" fill="#f00"/>
<circle cx="114.74" cy="95.28" r="2.75" fill="#f00"/>
<circle cx="115.24" cy="93.55" r="2.75" fill="#f00"/>
<circle cx="115.7" cy="91.82" r="2.75" fill="#f00"/>
<circle cx="116.11" cy="90.06" r="2.75" fill="#f00"/>
<circle cx="116.47" cy="88.3" r="2.75" fill="#f00"/>
<circle cx="116.78" cy="86.53" r="2.75" fill="#f00"/>
<circle cx="117.08" cy="84.75" r="2.75" fill="#f00"/>
<circle cx="117.37" cy="82.97" r="2.75" fill="#f00"/>
<circle cx="117.67" cy="81.2" r="2.75" fill="#f00"/>
<circle cx="117.97" cy="79.43" r="2.75" fill="#f00"/>
<circle cx="118.28" cy="77.65" r="2.75" fill="#f00"/>
<circle cx="118.58" cy="75.88" r="2.75" fill="#f00"/>
<circle cx="118.88" cy="74.1" r="2.75" fill="#f00"/>
<circle cx="119.18" cy="72.33" r="2.75" fill="#f00"/>
<circle cx="119.47" cy="70.55" r="2.75" fill="#f00"/>
<circle cx="119.76" cy="68.78" r="2.75" fill="#f00"/>
<circle cx="120.05" cy="67" r="2.75" fill="#f00"/>
<circle cx="120.33" cy="65.22" r="2.75" fill="#f00"/>
<circle cx="120.62" cy="63.44" r="2.75" fill="#f00"/>
<circle cx="120.9" cy="61.66" r="2.75" fill="#f00"/>
<circle cx="121.17" cy="59.89" r="2.75" fill="#f00"/>
<circle cx="121.44" cy="58.11" r="2.75" fill="#f00"/>
<circle cx="121.71" cy="56.33" r="2.75" fill="#f00"/>
<circle cx="121.97" cy="54.55" r="2.75" fill="#f00"/>
<circle cx="122.25" cy="52.77" r="2.75" fill="#f00"/>
<circle cx="122.53" cy="50.99" r="2.75" fill="#f00"/>
<circle cx="122.84" cy="49.22" r="2.75" fill="#f00"/>
<circle cx="123.16" cy="47.44" r="2.75" fill="#f00"/>
<circle cx="123.49" cy="45.68" r="2.75" fill="#f00"/>
<circle cx="123.84" cy="43.91" r="2.75" fill="#f00"/>
<circle cx="124.23" cy="42.15" r="2.75" fill="#f00"/>
<circle cx="124.65" cy="40.4" r="2.75" fill="#f00"/>
<circle cx="125.13" cy="38.67" r="2.75" fill="#f00"/>
<circle cx="125.68" cy="36.95" r="2.75" fill="#f00"/>
<circle cx="126.3" cy="35.27" r="2.75" fill="#f00"/>
<circle cx="127.05" cy="33.63" r="2.75" fill="#f00"/>
<circle cx="128.05" cy="32.14" r="2.75" fill="#f00"/>
<circle cx="129.6" cy="32.15" r="2.75" fill="#f00"/>
<circle cx="130.51" cy="33.69" r="2.75" fill="#f00"/>
<circle cx="131.01" cy="35.42" r="2.75" fill="#f00"/>
<circle cx="131.35" cy="37.19" r="2.75" fill="#f00"/>
<circle cx="131.66" cy="38.96" r="2.75" fill="#f00"/>
<circle cx="131.94" cy="40.74" r="2.75" fill="#f00"/>
<circle cx="132.2" cy="42.52" r="2.75" fill="#f00"/>
<circle cx="132.46" cy="44.3" r="2.75" fill="#f00"/>
<circle cx="132.71" cy="46.08" r="2.75" fill="#f00"/>
<circle cx="132.97" cy="47.86" r="2.75" fill="#f00"/>
<circle cx="133.24" cy="49.64" r="2.75" fill="#f00"/>
<circle cx="133.53" cy="51.42" r="2.75" fill="#f00"/>
<circle cx="133.82" cy="53.2" r="2.75" fill="#f00"/>
<circle cx="134.12" cy="54.97" r="2.75" fill="#f00"/>
<circle cx="134.42" cy="56.75" r="2.75" fill="#f00"/>
<circle cx="134.73" cy="58.52" r="2.75" fill="#f00"/>
<circle cx="135.05" cy="60.29" r="2.75" fill="#f00"/>
<circle cx="135.39" cy="62.06" r="2.75" fill="#f00"/>
<circle cx="135.75" cy="63.82" r="2.75" fill="#f00"/>
<circle cx="136.11" cy="65.59" r="2.75" fill="#f00"/>
<circle cx="136.46" cy="67.35" r="2.75" fill="#f00"/>
<circle cx="136.78" cy="69.12" r="2.75" fill="#f00"/>
<circle cx="137.08" cy="70.9" r="2.75" fill="#f00"/>
<circle cx="137.37" cy="72.67" r="2.75" fill="#f00"/>
<circle cx="137.63" cy="74.45" r="2.75" fill="#f00"/>
<circle cx="137.89" cy="76.24" r="2.75" fill="#f00"/>
<circle cx="138.14" cy="78.02" r="2.75" fill="#f00"/>
<circle cx="138.4" cy="79.8" r="2.75" fill="#f00"/>
<circle cx="138.65" cy="81.58" r="2.75" fill="#f00"/>
<circle cx="138.91" cy="83.36" r="2.75" fill="#f00"/>
<circle cx="139.17" cy="85.14" r="2.75" fill="#f00"/>
<circle cx="139.44" cy="86.92" r="2.75" fill="#f00"/>
<circle cx="139.72" cy="88.7" r="2.75" fill="#f00"/>
<circle cx="140.01" cy="90.48" r="2.75" fill="#f00"/>
<circle cx="140.32" cy="92.25" r="2.75" fill="#f00"/>
<circle cx="140.64" cy="94.02" r="2.75" fill="#f00"/>
<circle cx="140.97" cy="95.79" r="2.75" fill="#f00"/>
<circle cx="141.31" cy="97.56" r="2.75" fill="#f00"/>
<circle cx="141.66" cy="99.33" r="2.75" fill="#f00"/>
<circle cx="142.01" cy="101.09" r="2.75" fill="#f00"/>
<circle cx="142.37" cy="102.86" r="2.75" fill="#f00"/>
<circle cx="142.72" cy="104.62" r="2.75" fill="#f00"/>
<circle cx="143.08" cy="106.38" r="2.75" fill="#f00"/>
<circle cx="143.44" cy="108.15" r="2.75" fill="#f00"/>
<circle cx="143.79" cy="109.91" r="2.75" fill="#f00"/>
<circle cx="144.13" cy="111.68" r="2.75" fill="#f00"/>
<circle cx="144.48" cy="113.45" r="2.75" fill="#f00"/>
<circle cx="144.82" cy="115.22" r="2.75" fill="#f00"/>
<circle cx="145.16" cy="116.98" r="2.75" fill="#f00"/>
<circle cx="145.5" cy="118.75" r="2.75" fill="#f00"/>
<circle cx="145.85" cy="120.52" r="2.75" fill="#f00"/>
<circle cx="146.19" cy="122.28" r="2.75" fill="#f00"/>
<circle cx="146.53" cy="124.05" r="2.75" fill="#f00"/>
<circle cx="146.87" cy="125.82" r="2.75" fill="#f00"/>
<circle cx="147.2" cy="127.59" r="2.75" fill="#f00"/>
<circle cx="147.53" cy="129.36" r="2.75" fill="#f00"/>
<circle cx="147.86" cy="131.13" r="2.75" fill="#f00"/>
<circle cx="148.19" cy="132.9" r="2.75" fill="#f00"/>
<circle cx="148.51" cy="134.67" r="2.75" fill="#f00"/>
<circle cx="148.84" cy="136.44" r="2.75" fill="#f00"/>
<circle cx="149.17" cy="138.21" r="2.75" fill="#f00"/>
<circle cx="149.51" cy="139.98" r="2.75" fill="#f00"/>
<circle cx="149.85" cy="141.74" r="2.75" fill="#f00"/>
<circle cx="150.19" cy="143.51" r="2.75" fill="#f00"/>
<circle cx="150.56" cy="145.27" r="2.75" fill="#f00"/>
<circle cx="150.94" cy="147.03" r="2.75" fill="#f00"/>
<circle cx="151.34" cy="148.79" r="2.75" fill="#f00"/>
<circle cx="151.77" cy="150.53" r="2.75" fill="#f00"/>
<circle cx="152.21" cy="152.28" r="2.75" fill="#f00"/>
<circle cx="152.67" cy="154.02" r="2.75" fill="#f00"/>
<circle cx="153.14" cy="155.76" r="2.75" fill="#f00"/>
<circle cx="153.6" cy="157.5" r="2.75" fill="#f00"/>
<circle cx="154.07" cy="159.24" r="2.75" fill="#f00"/>
<circle cx="154.55" cy="160.97" r="2.75" fill="#f00"/>
<circle cx="155.06" cy="162.7" r="2.75" fill="#f00"/>
<circle cx="155.6" cy="164.41" r="2.75" fill="#f00"/>
<circle cx="156.19" cy="166.11" r="2.75" fill="#f00"/>
<circle cx="156.8" cy="167.81" r="2.75" fill="#f00"/>
<circle cx="157.44" cy="169.49" r="2.75" fill="#f00"/>
<circle cx="158.11" cy="171.16" r="2.75" fill="#f00"/>
<circle cx="158.8" cy="172.82" r="2.75" fill="#f00"/>
<circle cx="159.5" cy="174.48" r="2.75" fill="#f00"/>
<circle cx="160.18" cy="176.15" r="2.75" fill="#f00"/>
<circle cx="160.85" cy="177.82" r="2.75" fill="#f00"/>
<circle cx="161.58" cy="179.46" r="2.75" fill="#f00"/>
<circle cx="162.48" cy="181.02" r="2.75" fill="#f00"/>
<circle cx="163.93" cy="181.11" r="2.75" fill="#f00"/>
<circle cx="164.81" cy="179.54" r="2.75" fill="#f00"/>
<circle cx="165.55" cy="177.9" r="2.75" fill="#f00"/>
<circle cx="166.38" cy="176.31" r="2.75" fill="#f00"/>
<circle cx="167.2" cy="174.7" r="2.75" fill="#f00"/>
<circle cx="167.99" cy="173.08" r="2.75" fill="#f00"/>
<circle cx="168.77" cy="171.46" r="2.75" fill="#f00"/>
<circle cx="169.59" cy="169.86" r="2.75" fill="#f00"/>
<circle cx="170.42" cy="168.27" r="2.75" fill="#f00"/>
<circle cx="171.24" cy="166.66" r="2.75" fill="#f00"/>
<circle cx="171.99" cy="165.03" r="2.75" fill="#f00"/>
<circle cx="172.62" cy="163.34" r="2.75" fill="#f00"/>
<circle cx="173.19" cy="161.63" r="2.75" fill="#f00"/>
<circle cx="173.72" cy="159.91" r="2.75" fill="#f00"/>
<circle cx="317.2" cy="139.7" r="2.75" fill="#f00"/>
<circle cx="317.6" cy="151" r="2.75" fill="#f00"/>
<circle cx="318" cy="161.5" r="2.75" fill="#f00"/>
<circle cx="318.3" cy="172.1" r="2.75" fill="#f00"/>
<circle cx="318.6" cy="183.4" r="2.75" fill="#f00"/>
<circle cx="319" cy="194.6" r="2.75" fill="#f00"/>
<circle cx="214.1" cy="134.4" r="2.75" fill="#f00"/>
<circle cx="214.1" cy="144.1" r="2.75" fill="#f00"/>
<circle cx="317.6" cy="131.4" r="2.75" fill="#f00"/>
<circle cx="315.91" cy="132.03" r="2.75" fill="#f00"/>
<circle cx="314.24" cy="132.69" r="2.75" fill="#f00"/>
<circle cx="312.61" cy="133.45" r="2.75" fill="#f00"/>
<circle cx="311.07" cy="134.39" r="2.75" fill="#f00"/>
<circle cx="309.63" cy="135.46" r="2.75" fill="#f00"/>
<circle cx="308.2" cy="136.55" r="2.75" fill="#f00"/>
<circle cx="306.73" cy="137.59" r="2.75" fill="#f00"/>
<circle cx="305.16" cy="138.47" r="2.75" fill="#f00"/>
<circle cx="303.48" cy="139.1" r="2.75" fill="#f00"/>
<circle cx="301.73" cy="139.52" r="2.75" fill="#f00"/>
<circle cx="299.95" cy="139.77" r="2.75" fill="#f00"/>
<circle cx="298.15" cy="139.89" r="2.75" fill="#f00"/>
<circle cx="296.35" cy="139.87" r="2.75" fill="#f00"/>
<circle cx="294.56" cy="139.68" r="2.75" fill="#f00"/>
<circle cx="292.83" cy="139.2" r="2.75" fill="#f00"/>
<circle cx="291.24" cy="138.37" r="2.75" fill="#f00"/>
<circle cx="289.86" cy="137.22" r="2.75" fill="#f00"/>
<circle cx="288.66" cy="135.88" r="2.75" fill="#f00"/>
<circle cx="287.59" cy="134.43" r="2.75" fill="#f00"/>
<circle cx="286.61" cy="132.92" r="2.75" fill="#f00"/>
<circle cx="285.75" cy="131.34" r="2.75" fill="#f00"/>
<circle cx="284.95" cy="129.73" r="2.75" fill="#f00"/>
<circle cx="284.2" cy="128.09" r="2.75" fill="#f00"/>
<circle cx="283.49" cy="126.44" r="2.75" fill="#f00"/>
<circle cx="282.81" cy="124.77" r="2.75" fill="#f00"/>
<circle cx="282.22" cy="123.07" r="2.75" fill="#f00"/>
<circle cx="281.67" cy="121.36" r="2.75" fill="#f00"/>
<circle cx="281.12" cy="119.64" r="2.75" fill="#f00"/>
<circle cx="280.53" cy="117.94" r="2.75" fill="#f00"/>
<circle cx="279.92" cy="116.25" r="2.75" fill="#f00"/>
<circle cx="279.31" cy="114.55" r="2.75" fill="#f00"/>
<circle cx="278.72" cy="112.85" r="2.75" fill="#f00"/>
<circle cx="278.15" cy="111.15" r="2.75" fill="#f00"/>
<circle cx="277.61" cy="109.43" r="2.75" fill="#f00"/>
<circle cx="277.08" cy="107.71" r="2.75" fill="#f00"/>
<circle cx="276.56" cy="105.98" r="2.75" fill="#f00"/>
<circle cx="276.06" cy="104.26" r="2.75" fill="#f00"/>
<circle cx="275.55" cy="102.53" r="2.75" fill="#f00"/>
<circle cx="275.04" cy="100.8" r="2.75" fill="#f00"/>
<circle cx="274.52" cy="99.08" r="2.75" fill="#f00"/>
<circle cx="273.99" cy="97.36" r="2.75" fill="#f00"/>
<circle cx="273.47" cy="95.64" r="2.75" fill="#f00"/>
<circle cx="272.96" cy="93.91" r="2.75" fill="#f00"/>
<circle cx="272.49" cy="92.17" r="2.75" fill="#f00"/>
<circle cx="272.07" cy="90.42" r="2.75" fill="#f00"/>
<circle cx="271.7" cy="88.66" r="2.75" fill="#f00"/>
<circle cx="271.38" cy="86.89" r="2.75" fill="#f00"/>
<circle cx="271.08" cy="85.12" r="2.75" fill="#f00"/>
<circle cx="270.79" cy="83.34" r="2.75" fill="#f00"/>
<circle cx="270.5" cy="81.56" r="2.75" fill="#f00"/>
<circle cx="270.19" cy="79.79" r="2.75" fill="#f00"/>
<circle cx="269.88" cy="78.02" r="2.75" fill="#f00"/>
<circle cx="269.58" cy="76.24" r="2.75" fill="#f00"/>
<circle cx="269.28" cy="74.47" r="2.75" fill="#f00"/>
<circle cx="268.98" cy="72.69" r="2.75" fill="#f00"/>
<circle cx="268.69" cy="70.92" r="2.75" fill="#f00"/>
<circle cx="268.4" cy="69.14" r="2.75" fill="#f00"/>
<circle cx="268.11" cy="67.36" r="2.75" fill="#f00"/>
<circle cx="267.82" cy="65.59" r="2.75" fill="#f00"/>
<circle cx="267.54" cy="63.81" r="2.75" fill="#f00"/>
<circle cx="267.26" cy="62.03" r="2.75" fill="#f00"/>
<circle cx="266.98" cy="60.25" r="2.75" fill="#f00"/>
<circle cx="266.71" cy="58.47" r="2.75" fill="#f00"/>
<circle cx="266.45" cy="56.69" r="2.75" fill="#f00"/>
<circle cx="266.18" cy="54.91" r="2.75" fill="#f00"/>
<circle cx="265.91" cy="53.13" r="2.75" fill="#f00"/>
<circle cx="265.63" cy="51.35" r="2.75" fill="#f00"/>
<circle cx="265.33" cy="49.58" r="2.75" fill="#f00"/>
<circle cx="265.01" cy="47.81" r="2.75" fill="#f00"/>
<circle cx="264.68" cy="46.04" r="2.75" fill="#f00"/>
<circle cx="264.33" cy="44.27" r="2.75" fill="#f00"/>
<circle cx="263.96" cy="42.51" r="2.75" fill="#f00"/>
<circle cx="263.54" cy="40.76" r="2.75" fill="#f00"/>
<circle cx="263.07" cy="39.02" r="2.75" fill="#f00"/>
<circle cx="262.54" cy="37.3" r="2.75" fill="#f00"/>
<circle cx="261.93" cy="35.61" r="2.75" fill="#f00"/>
<circle cx="261.21" cy="33.96" r="2.75" fill="#f00"/>
<circle cx="260.3" cy="32.42" r="2.75" fill="#f00"/>
<circle cx="258.78" cy="31.92" r="2.75" fill="#f00"/>
<circle cx="257.73" cy="33.35" r="2.75" fill="#f00"/>
<circle cx="257.17" cy="35.06" r="2.75" fill="#f00"/>
<circle cx="256.81" cy="36.82" r="2.75" fill="#f00"/>
<circle cx="256.5" cy="38.6" r="2.75" fill="#f00"/>
<circle cx="256.22" cy="40.37" r="2.75" fill="#f00"/>
<circle cx="255.95" cy="42.15" r="2.75" fill="#f00"/>
<circle cx="255.69" cy="43.93" r="2.75" fill="#f00"/>
<circle cx="255.44" cy="45.72" r="2.75" fill="#f00"/>
<circle cx="255.18" cy="47.5" r="2.75" fill="#f00"/>
<circle cx="254.91" cy="49.28" r="2.75" fill="#f00"/>
<circle cx="254.63" cy="51.06" r="2.75" fill="#f00"/>
<circle cx="254.34" cy="52.83" r="2.75" fill="#f00"/>
<circle cx="254.05" cy="54.61" r="2.75" fill="#f00"/>
<circle cx="253.74" cy="56.38" r="2.75" fill="#f00"/>
<circle cx="253.43" cy="58.16" r="2.75" fill="#f00"/>
<circle cx="253.11" cy="59.93" r="2.75" fill="#f00"/>
<circle cx="252.78" cy="61.7" r="2.75" fill="#f00"/>
<circle cx="252.42" cy="63.46" r="2.75" fill="#f00"/>
<circle cx="252.06" cy="65.22" r="2.75" fill="#f00"/>
<circle cx="251.71" cy="66.99" r="2.75" fill="#f00"/>
<circle cx="251.39" cy="68.76" r="2.75" fill="#f00"/>
<circle cx="251.08" cy="70.53" r="2.75" fill="#f00"/>
<circle cx="250.79" cy="72.31" r="2.75" fill="#f00"/>
<circle cx="250.52" cy="74.09" r="2.75" fill="#f00"/>
<circle cx="250.26" cy="75.87" r="2.75" fill="#f00"/>
<circle cx="250.01" cy="77.65" r="2.75" fill="#f00"/>
<circle cx="249.75" cy="79.43" r="2.75" fill="#f00"/>
<circle cx="249.5" cy="81.22" r="2.75" fill="#f00"/>
<circle cx="249.25" cy="83" r="2.75" fill="#f00"/>
<circle cx="248.99" cy="84.78" r="2.75" fill="#f00"/>
<circle cx="248.72" cy="86.56" r="2.75" fill="#f00"/>
<circle cx="248.44" cy="88.34" r="2.75" fill="#f00"/>
<circle cx="248.15" cy="90.11" r="2.75" fill="#f00"/>
<circle cx="247.84" cy="91.89" r="2.75" fill="#f00"/>
<circle cx="247.52" cy="93.66" r="2.75" fill="#f00"/>
<circle cx="247.19" cy="95.43" r="2.75" fill="#f00"/>
<circle cx="246.86" cy="97.2" r="2.75" fill="#f00"/>
<circle cx="246.51" cy="98.96" r="2.75" fill="#f00"/>
<circle cx="246.16" cy="100.73" r="2.75" fill="#f00"/>
<circle cx="245.81" cy="102.49" r="2.75" fill="#f00"/>
<circle cx="245.45" cy="104.26" r="2.75" fill="#f00"/>
<circle cx="245.09" cy="106.02" r="2.75" fill="#f00"/>
<circle cx="244.74" cy="107.79" r="2.75" fill="#f00"/>
<circle cx="244.38" cy="109.55" r="2.75" fill="#f00"/>
<circle cx="244.04" cy="111.32" r="2.75" fill="#f00"/>
<circle cx="243.69" cy="113.09" r="2.75" fill="#f00"/>
<circle cx="243.35" cy="114.85" r="2.75" fill="#f00"/>
<circle cx="243.01" cy="116.62" r="2.75" fill="#f00"/>
<circle cx="242.67" cy="118.39" r="2.75" fill="#f00"/>
<circle cx="242.32" cy="120.15" r="2.75" fill="#f00"/>
<circle cx="241.98" cy="121.92" r="2.75" fill="#f00"/>
<circle cx="241.64" cy="123.69" r="2.75" fill="#f00"/>
<circle cx="241.3" cy="125.46" r="2.75" fill="#f00"/>
<circle cx="240.97" cy="127.22" r="2.75" fill="#f00"/>
<circle cx="240.64" cy="128.99" r="2.75" fill="#f00"/>
<circle cx="240.31" cy="130.76" r="2.75" fill="#f00"/>
<circle cx="239.98" cy="132.53" r="2.75" fill="#f00"/>
<circle cx="239.65" cy="134.3" r="2.75" fill="#f00"/>
<circle cx="239.33" cy="136.07" r="2.75" fill="#f00"/>
<circle cx="239" cy="137.84" r="2.75" fill="#f00"/>
<circle cx="238.66" cy="139.61" r="2.75" fill="#f00"/>
<circle cx="238.33" cy="141.38" r="2.75" fill="#f00"/>
<circle cx="237.98" cy="143.15" r="2.75" fill="#f00"/>
<circle cx="237.62" cy="144.91" r="2.75" fill="#f00"/>
<circle cx="237.24" cy="146.67" r="2.75" fill="#f00"/>
<circle cx="236.84" cy="148.43" r="2.75" fill="#f00"/>
<circle cx="236.42" cy="150.18" r="2.75" fill="#f00"/>
<circle cx="235.98" cy="151.92" r="2.75" fill="#f00"/>
<circle cx="235.52" cy="153.66" r="2.75" fill="#f00"/>
<circle cx="235.06" cy="155.4" r="2.75" fill="#f00"/>
<circle cx="234.59" cy="157.14" r="2.75" fill="#f00"/>
<circle cx="234.1" cy="158.87" r="2.75" fill="#f00"/>
<circle cx="233.58" cy="160.6" r="2.75" fill="#f00"/>
<circle cx="233.07" cy="162.32" r="2.75" fill="#f00"/>
<circle cx="232.56" cy="164.05" r="2.75" fill="#f00"/>
<circle cx="232.1" cy="165.79" r="2.75" fill="#f00"/>
<circle cx="231.68" cy="167.54" r="2.75" fill="#f00"/>
<circle cx="231.29" cy="169.29" r="2.75" fill="#f00"/>
<circle cx="230.87" cy="171.05" r="2.75" fill="#f00"/>
<circle cx="230.4" cy="172.78" r="2.75" fill="#f00"/>
<circle cx="229.82" cy="174.49" r="2.75" fill="#f00"/>
<circle cx="229.19" cy="176.17" r="2.75" fill="#f00"/>
<circle cx="228.52" cy="177.84" r="2.75" fill="#f00"/>
<circle cx="227.77" cy="179.48" r="2.75" fill="#f00"/>
<circle cx="226.84" cy="181.01" r="2.75" fill="#f00"/>
<circle cx="225.38" cy="181.12" r="2.75" fill="#f00"/>
<circle cx="224.5" cy="179.55" r="2.75" fill="#f00"/>
<circle cx="223.76" cy="177.91" r="2.75" fill="#f00"/>
<circle cx="222.92" cy="176.32" r="2.75" fill="#f00"/>
<circle cx="222.1" cy="174.72" r="2.75" fill="#f00"/>
<circle cx="221.32" cy="173.1" r="2.75" fill="#f00"/>
<circle cx="220.54" cy="171.48" r="2.75" fill="#f00"/>
<circle cx="219.72" cy="169.87" r="2.75" fill="#f00"/>
<circle cx="218.88" cy="168.28" r="2.75" fill="#f00"/>
<circle cx="218.07" cy="166.68" r="2.75" fill="#f00"/>
<circle cx="217.32" cy="165.04" r="2.75" fill="#f00"/>
<circle cx="216.68" cy="163.35" r="2.75" fill="#f00"/>
<circle cx="216.12" cy="161.65" r="2.75" fill="#f00"/>
<circle cx="215.59" cy="159.92" r="2.75" fill="#f00"/>
<path d="M64.75 193.57L71.45 193.57L68.1 187.97Z" fill="#00f"/>
<path d="M65.35 184.47L72.05 184.47L68.7 178.87Z" fill="#00f"/>
<path d="M66.05 176.07L72.75 176.07L69.4 170.47Z" fill="#00f"/>
<path d="M66.45 167.97L73.15 167.97L69.8 162.37Z" fill="#00f"/>
<path d="M67.05 159.17L73.75 159.17L70.4 153.57Z" fill="#00f"/>
<path d="M67.45 150.47L74.15 150.47L70.8 144.87Z" fill="#00f"/>
<path d="M67.85 142.37L74.55 142.37L71.2 136.77Z" fill="#00f"/>
<path d="M170.25 147.37L176.95 147.37L173.6 141.77Z" fill="#00f"/>
<path d="M170.25 136.37L176.95 136.37L173.6 130.77Z" fill="#00f"/>
<path d="M67.15 134.17L73.85 134.17L70.5 128.57Z" fill="#00f"/>
<path d="M68.94 134.32L75.64 134.32L72.29 128.72Z" fill="#00f"/>
<path d="M70.74 134.48L77.44 134.48L74.09 128.88Z" fill="#00f"/>
<path d="M72.53 134.67L79.23 134.67L75.88 129.07Z" fill="#00f"/>
<path d="M74.3 134.96L81 134.96L77.65 129.36Z" fill="#00f"/>
<path d="M76.03 135.44L82.73 135.44L79.38 129.84Z" fill="#00f"/>
<path d="M77.74 136.01L84.44 136.01L81.09 130.41Z" fill="#00f"/>
<path d="M79.49 136.43L86.19 136.43L82.84 130.83Z" fill="#00f"/>
<path d="M81.27 136.69L87.97 136.69L84.62 131.09Z" fill="#00f"/>
<path d="M83.07 136.83L89.77 136.83L86.42 131.23Z" fill="#00f"/>
<path d="M84.87 136.86L91.57 136.86L88.22 131.26Z" fill="#00f"/>
<path d="M86.66 136.76L93.36 136.76L90.01 131.16Z" fill="#00f"/>
<path d="M88.43 136.43L95.13 136.43L91.78 130.83Z" fill="#00f"/>
<path d="M90.12 135.8L96.82 135.8L93.47 130.2Z" fill="#00f"/>
<path d="M91.71 134.96L98.41 134.96L95.06 129.36Z" fill="#00f"/>
<path d="M93.21 133.98L99.91 133.98L96.56 128.38Z" fill="#00f"/>
<path d="M94.63 132.87L101.33 132.87L97.98 127.27Z" fill="#00f"/>
<path d="M95.92 131.62L102.62 131.62L99.27 126.02Z" fill="#00f"/>
<path d="M97.05 130.21L103.75 130.21L100.4 124.61Z" fill="#00f"/>
<path d="M97.91 128.64L104.61 128.64L101.26 123.04Z" fill="#00f"/>
<path d="M98.6 126.98L105.3 126.98L101.95 121.38Z" fill="#00f"/>
<path d="M99.21 125.28L105.91 125.28L102.56 119.68Z" fill="#00f"/>
<path d="M99.77 123.57L106.47 123.57L103.12 117.97Z" fill="#00f"/>
<path d="M100.32 121.86L107.02 121.86L103.67 116.26Z" fill="#00f"/>
<path d="M100.89 120.15L107.59 120.15L104.24 114.55Z" fill="#00f"/>
<path d="M101.44 118.44L108.14 118.44L104.79 112.84Z" fill="#00f"/>
<path d="M101.99 116.72L108.69 116.72L105.34 111.12Z" fill="#00f"/>
<path d="M102.55 115.01L109.25 115.01L105.9 109.41Z" fill="#00f"/>
<path d="M103.11 113.3L109.81 113.3L106.46 107.7Z" fill="#00f"/>
<path d="M103.67 111.59L110.37 111.59L107.02 105.99Z" fill="#00f"/>
<path d="M104.24 109.88L110.94 109.88L107.59 104.28Z" fill="#00f"/>
<path d="M104.81 108.18L111.51 108.18L108.16 102.58Z" fill="#00f"/>
<path d="M105.39 106.47L112.09 106.47L108.74 100.87Z" fill="#00f"/>
<path d="M105.98 104.77L112.68 104.77L109.33 99.17Z" fill="#00f"/>
<path d="M106.58 103.07L113.28 103.07L109.93 97.47Z" fill="#00f"/>
<path d="M107.21 101.39L113.91 101.39L110.56 95.79Z" fill="#00f"/>
<path d="M107.88 99.72L114.58 99.72L111.23 94.12Z" fill="#00f"/>
<path d="M108.57 98.05L115.27 98.05L111.92 92.45Z" fill="#00f"/>
<path d="M109.24 96.38L115.94 96.38L112.59 90.78Z" fill="#00f"/>
<path d="M109.86 94.7L116.56 94.7L113.21 89.1Z" fill="#00f"/>
<path d="M110.41 92.98L117.11 92.98L113.76 87.38Z" fill="#00f"/>
<path d="M110.87 91.24L117.57 91.24L114.22 85.64Z" fill="#00f"/>
<path d="M111.25 89.48L117.95 89.48L114.6 83.88Z" fill="#00f"/>
<path d="M111.58 87.71L118.28 87.71L114.93 82.11Z" fill="#00f"/>
<path d="M111.87 85.93L118.57 85.93L115.22 80.33Z" fill="#00f"/>
<path d="M112.14 84.16L118.84 84.16L115.49 78.56Z" fill="#00f"/>
<path d="M112.43 82.38L119.13 82.38L115.78 76.78Z" fill="#00f"/>
<path d="M112.69 80.6L119.39 80.6L116.04 75Z" fill="#00f"/>
<path d="M112.92 78.81L119.62 78.81L116.27 73.21Z" fill="#00f"/>
<path d="M113.14 77.03L119.84 77.03L116.49 71.43Z" fill="#00f"/>
<path d="M113.38 75.24L120.08 75.24L116.73 69.64Z" fill="#00f"/>
<path d="M113.65 73.46L120.35 73.46L117 67.86Z" fill="#00f"/>
<path d="M113.96 71.69L120.66 71.69L117.31 66.09Z" fill="#00f"/>
<path d="M114.3 69.92L121 69.92L117.65 64.32Z" fill="#00f"/>
<path d="M114.66 68.16L121.36 68.16L118.01 62.56Z" fill="#00f"/>
<path d="M115.04 66.4L121.74 66.4L118.39 60.8Z" fill="#00f"/>
<path d="M115.44 64.64L122.14 64.64L118.79 59.04Z" fill="#00f"/>
<path d="M115.84 62.89L122.54 62.89L119.19 57.29Z" fill="#00f"/>
<path d="M116.27 61.14L122.97 61.14L119.62 55.54Z" fill="#00f"/>
<path d="M116.71 59.4L123.41 59.4L120.06 53.8Z" fill="#00f"/>
<path d="M117.16 57.65L123.86 57.65L120.51 52.05Z" fill="#00f"/>
<path d="M117.62 55.91L124.32 55.91L120.97 50.31Z" fill="#00f"/>
<path d="M118.07 54.17L124.77 54.17L121.42 48.57Z" fill="#00f"/>
<path d="M118.51 52.42L125.21 52.42L121.86 46.82Z" fill="#00f"/>
<path d="M118.93 50.67L125.63 50.67L122.28 45.07Z" fill="#00f"/>
<path d="M119.31 48.91L126.01 48.91L122.66 43.31Z" fill="#00f"/>
<path d="M119.68 47.15L126.38 47.15L123.03 41.55Z" fill="#00f"/>
<path d="M120.06 45.39L126.76 45.39L123.41 39.79Z" fill="#00f"/>
<path d="M120.49 43.65L127.19 43.65L123.84 38.05Z" fill="#00f"/>
<path d="M121.01 41.92L127.71 41.92L124.36 36.32Z" fill="#00f"/>
<path d="M121.63 40.23L128.33 40.23L124.98 34.63Z" fill="#00f"/>
<path d="M122.53 38.69L129.23 38.69L125.88 33.09Z" fill="#00f"/>
<path d="M124.04 39.02L130.74 39.02L127.39 33.42Z" fill="#00f"/>
<path d="M124.99 40.54L131.69 40.54L128.34 34.94Z" fill="#00f"/>
<path d="M125.54 42.25L132.24 42.25L128.89 36.65Z" fill="#00f"/>
<path d="M125.87 44.02L132.57 44.02L129.22 38.42Z" fill="#00f"/>
<path d="M126.08 45.81L132.78 45.81L129.43 40.21Z" fill="#00f"/>
<path d="M126.21 47.6L132.91 47.6L129.56 42Z" fill="#00f"/>
<path d="M126.36 49.4L133.06 49.4L129.71 43.8Z" fill="#00f"/>
<path d="M126.56 51.19L133.26 51.19L129.91 45.59Z" fill="#00f"/>
<path d="M126.82 52.97L133.52 52.97L130.17 47.37Z" fill="#00f"/>
<path d="M127.13 54.74L133.83 54.74L130.48 49.14Z" fill="#00f"/>
<path d="M127.47 56.51L134.17 56.51L130.82 50.91Z" fill="#00f"/>
<path d="M127.82 58.27L134.52 58.27L131.17 52.67Z" fill="#00f"/>
<path d="M128.17 60.04L134.87 60.04L131.52 54.44Z" fill="#00f"/>
<path d="M128.54 61.8L135.24 61.8L131.89 56.2Z" fill="#00f"/>
<path d="M128.92 63.56L135.62 63.56L132.27 57.96Z" fill="#00f"/>
<path d="M129.32 65.31L136.02 65.31L132.67 59.71Z" fill="#00f"/>
<path d="M129.73 67.07L136.43 67.07L133.08 61.47Z" fill="#00f"/>
<path d="M130.13 68.82L136.83 68.82L133.48 63.22Z" fill="#00f"/>
<path d="M130.5 70.58L137.2 70.58L133.85 64.98Z" fill="#00f"/>
<path d="M130.85 72.35L137.55 72.35L134.2 66.75Z" fill="#00f"/>
<path d="M131.18 74.12L137.88 74.12L134.53 68.52Z" fill="#00f"/>
<path d="M131.48 75.89L138.18 75.89L134.83 70.29Z" fill="#00f"/>
<path d="M131.78 77.67L138.48 77.67L135.13 72.07Z" fill="#00f"/>
<path d="M132.07 79.44L138.77 79.44L135.42 73.84Z" fill="#00f"/>
<path d="M132.36 81.22L139.06 81.22L135.71 75.62Z" fill="#00f"/>
<path d="M132.65 83L139.35 83L136 77.4Z" fill="#00f"/>
<path d="M132.94 84.77L139.64 84.77L136.29 79.17Z" fill="#00f"/>
<path d="M133.23 86.55L139.93 86.55L136.58 80.95Z" fill="#00f"/>
<path d="M133.54 88.32L140.24 88.32L136.89 82.72Z" fill="#00f"/>
<path d="M133.84 90.1L140.54 90.1L137.19 84.5Z" fill="#00f"/>
<path d="M134.17 91.87L140.87 91.87L137.52 86.27Z" fill="#00f"/>
<path d="M134.5 93.64L141.2 93.64L137.85 88.04Z" fill="#00f"/>
<path d="M134.84 95.41L141.54 95.41L138.19 89.81Z" fill="#00f"/>
<path d="M135.19 97.17L141.89 97.17L138.54 91.57Z" fill="#00f"/>
<path d="M135.54 98.94L142.24 98.94L138.89 93.34Z" fill="#00f"/>
<path d="M135.89 100.7L142.59 100.7L139.24 95.1Z" fill="#00f"/>
<path d="M136.26 102.46L142.96 102.46L139.61 96.86Z" fill="#00f"/>
<path d="M136.63 104.23L143.33 104.23L139.98 98.63Z" fill="#00f"/>
<path d="M137 105.99L143.7 105.99L140.35 100.39Z" fill="#00f"/>
<path d="M137.38 107.74L144.08 107.74L140.73 102.14Z" fill="#00f"/>
<path d="M137.78 109.5L144.48 109.5L141.13 103.9Z" fill="#00f"/>
<path d="M138.17 111.26L144.87 111.26L141.52 105.66Z" fill="#00f"/>
<path d="M138.59 113.01L145.29 113.01L141.94 107.41Z" fill="#00f"/>
<path d="M139.02 114.76L145.72 114.76L142.37 109.16Z" fill="#00f"/>
<path d="M139.49 116.49L146.19 116.49L142.84 110.89Z" fill="#00f"/>
<path d="M139.98 118.22L146.68 118.22L143.33 112.62Z" fill="#00f"/>
<path d="M140.49 119.95L147.19 119.95L143.84 114.35Z" fill="#00f"/>
<path d="M141.01 121.68L147.71 121.68L144.36 116.08Z" fill="#00f"/>
<path d="M141.51 123.41L148.21 123.41L144.86 117.81Z" fill="#00f"/>
<path d="M141.98 125.14L148.68 125.14L145.33 119.54Z" fill="#00f"/>
<path d="M142.42 126.89L149.12 126.89L145.77 121.29Z" fill="#00f"/>
<path d="M142.82 128.64L149.52 128.64L146.17 123.04Z" fill="#00f"/>
<path d="M143.19 130.4L149.89 130.4L146.54 124.8Z" fill="#00f"/>
<path d="M143.54 132.17L150.24 132.17L146.89 126.57Z" fill="#00f"/>
<path d="M143.88 133.94L150.58 133.94L147.23 128.34Z" fill="#00f"/>
<path d="M144.21 135.71L150.91 135.71L147.56 130.11Z" fill="#00f"/>
<path d="M144.53 137.48L151.23 137.48L147.88 131.88Z" fill="#00f"/>
<path d="M144.85 139.25L151.55 139.25L148.2 133.65Z" fill="#00f"/>
<path d="M145.17 141.02L151.87 141.02L148.52 135.42Z" fill="#00f"/>
<path d="M145.48 142.79L152.18 142.79L148.83 137.19Z" fill="#00f"/>
<path d="M145.81 144.56L152.51 144.56L149.16 138.96Z" fill="#00f"/>
<path d="M146.15 146.33L152.85 146.33L149.5 140.73Z" fill="#00f"/>
<path d="M146.5 148.1L153.2 148.1L149.85 142.5Z" fill="#00f"/>
<path d="M146.87 149.86L153.57 149.86L150.22 144.26Z" fill="#00f"/>
<path d="M147.25 151.62L153.95 151.62L150.6 146.02Z" fill="#00f"/>
<path d="M147.64 153.38L154.34 153.38L150.99 147.78Z" fill="#00f"/>
<path d="M148.03 155.13L154.73 155.13L151.38 149.53Z" fill="#00f"/>
<path d="M148.43 156.89L155.13 156.89L151.78 151.29Z" fill="#00f"/>
<path d="M148.82 158.65L155.52 158.65L152.17 153.05Z" fill="#00f"/>
<path d="M149.17 160.41L155.87 160.41L152.52 154.81Z" fill="#00f"/>
<path d="M149.51 162.18L156.21 162.18L152.86 156.58Z" fill="#00f"/>
<path d="M149.87 163.94L156.57 163.94L153.22 158.34Z" fill="#00f"/>
<path d="M150.3 165.69L157 165.69L153.65 160.09Z" fill="#00f"/>
<path d="M150.83 167.41L157.53 167.41L154.18 161.81Z" fill="#00f"/>
<path d="M151.44 169.1L158.14 169.1L154.79 163.5Z" fill="#00f"/>
<path d="M152.13 170.77L158.83 170.77L155.48 165.17Z" fill="#00f"/>
<path d="M152.88 172.4L159.58 172.4L156.23 166.8Z" fill="#00f"/>
<path d="M153.69 174.01L160.39 174.01L157.04 168.41Z" fill="#00f"/>
<path d="M154.54 175.59L161.24 175.59L157.89 169.99Z" fill="#00f"/>
<path d="M155.39 177.18L162.09 177.18L158.74 171.58Z" fill="#00f"/>
<path d="M156.25 178.76L162.95 178.76L159.6 173.16Z" fill="#00f"/>
<path d="M157.18 180.3L163.88 180.3L160.53 174.7Z" fill="#00f"/>
<path d="M158.28 181.73L164.98 181.73L161.63 176.13Z" fill="#00f"/>
<path d="M159.84 182.32L166.54 182.32L163.19 176.72Z" fill="#00f"/>
<path d="M161.15 181.13L167.85 181.13L164.5 175.53Z" fill="#00f"/>
<path d="M162.11 179.61L168.81 179.61L165.46 174.01Z" fill="#00f"/>
<path d="M163.03 178.06L169.73 178.06L166.38 172.46Z" fill="#00f"/>
<path d="M163.96 176.52L170.66 176.52L167.31 170.92Z" fill="#00f"/>
<path d="M164.79 174.92L171.49 174.92L168.14 169.32Z" fill="#00f"/>
<path d="M165.55 173.29L172.25 173.29L168.9 167.69Z" fill="#00f"/>
<path d="M166.24 171.63L172.94 171.63L169.59 166.03Z" fill="#00f"/>
<path d="M166.8 169.92L173.5 169.92L170.15 164.32Z" fill="#00f"/>
<path d="M167.25 168.18L173.95 168.18L170.6 162.58Z" fill="#00f"/>
<path d="M167.8 166.46L174.5 166.46L171.15 160.86Z" fill="#00f"/>
<path d="M168.45 164.79L175.15 164.79L171.8 159.19Z" fill="#00f"/>
<path d="M169.14 163.12L175.84 163.12L172.49 157.52Z" fill="#00f"/>
<path d="M169.81 161.45L176.51 161.45L173.16 155.85Z" fill="#00f"/>
<path d="M170.45 159.77L177.15 159.77L173.8 154.17Z" fill="#00f"/>
<path d="M171.07 158.08L177.77 158.08L174.42 152.48Z" fill="#00f"/>
<path d="M313.85 143.07L320.55 143.07L317.2 137.47Z" fill="#00f"/>
<path d="M314.25 154.37L320.95 154.37L317.6 148.77Z" fill="#00f"/>
<path d="M314.65 164.87L321.35 164.87L318 159.27Z" fill="#00f"/>
<path d="M314.95 175.47L321.65 175.47L318.3 169.87Z" fill="#00f"/>
<path d="M315.25 186.77L321.95 186.77L318.6 181.17Z" fill="#00f"/>
<path d="M315.65 197.97L322.35 197.97L319 192.37Z" fill="#00f"/>
<path d="M210.75 135.27L217.45 135.27L214.1 129.67Z" fill="#00f"/>
<path d="M210.75 144.97L217.45 144.97L214.1 139.37Z" fill="#00f"/>
<path d="M314.25 134.17L320.95 134.17L317.6 128.57Z" fill="#00f"/>
<path d="M312.49 134.52L319.19 134.52L315.84 128.92Z" fill="#00f"/>
<path d="M310.72 134.88L317.42 134.88L314.07 129.28Z" fill="#00f"/>
<path d="M308.96 135.25L315.66 135.25L312.31 129.65Z" fill="#00f"/>
<path d="M307.21 135.67L313.91 135.67L310.56 130.07Z" fill="#00f"/>
<path d="M305.49 136.2L312.19 136.2L308.84 130.6Z" fill="#00f"/>
<path d="M303.78 136.77L310.48 136.77L307.13 131.17Z" fill="#00f"/>
<path d="M302.04 137.21L308.74 137.21L305.39 131.61Z" fill="#00f"/>
<path d="M300.26 137.48L306.96 137.48L303.61 131.88Z" fill="#00f"/>
<path d="M298.47 137.63L305.17 137.63L301.82 132.03Z" fill="#00f"/>
<path d="M296.67 137.66L303.37 137.66L300.02 132.06Z" fill="#00f"/>
<path d="M294.87 137.58L301.57 137.58L298.22 131.98Z" fill="#00f"/>
<path d="M293.1 137.26L299.8 137.26L296.45 131.66Z" fill="#00f"/>
<path d="M291.4 136.67L298.1 136.67L294.75 131.07Z" fill="#00f"/>
<path d="M289.8 135.85L296.5 135.85L293.15 130.25Z" fill="#00f"/>
<path d="M288.31 134.84L295.01 134.84L291.66 129.24Z" fill="#00f"/>
<path d="M286.93 133.68L293.63 133.68L290.28 128.08Z" fill="#00f"/>
<path d="M285.68 132.39L292.38 132.39L289.03 126.79Z" fill="#00f"/>
<path d="M284.6 130.95L291.3 130.95L287.95 125.35Z" fill="#00f"/>
<path d="M283.75 129.37L290.45 129.37L287.1 123.77Z" fill="#00f"/>
<path d="M283.06 127.71L289.76 127.71L286.41 122.11Z" fill="#00f"/>
<path d="M282.44 126.02L289.14 126.02L285.79 120.42Z" fill="#00f"/>
<path d="M281.87 124.31L288.57 124.31L285.22 118.71Z" fill="#00f"/>
<path d="M281.31 122.6L288.01 122.6L284.66 117Z" fill="#00f"/>
<path d="M280.76 120.89L287.46 120.89L284.11 115.29Z" fill="#00f"/>
<path d="M280.2 119.17L286.9 119.17L283.55 113.57Z" fill="#00f"/>
<path d="M279.64 117.46L286.34 117.46L282.99 111.86Z" fill="#00f"/>
<path d="M279.09 115.75L285.79 115.75L282.44 110.15Z" fill="#00f"/>
<path d="M278.54 114.04L285.24 114.04L281.89 108.44Z" fill="#00f"/>
<path d="M277.97 112.33L284.67 112.33L281.32 106.73Z" fill="#00f"/>
<path d="M277.4 110.62L284.1 110.62L280.75 105.02Z" fill="#00f"/>
<path d="M276.83 108.91L283.53 108.91L280.18 103.31Z" fill="#00f"/>
<path d="M276.26 107.21L282.96 107.21L279.61 101.61Z" fill="#00f"/>
<path d="M275.68 105.5L282.38 105.5L279.03 99.9Z" fill="#00f"/>
<path d="M275.08 103.8L281.78 103.8L278.43 98.2Z" fill="#00f"/>
<path d="M274.47 102.11L281.17 102.11L277.82 96.51Z" fill="#00f"/>
<path d="M273.81 100.44L280.51 100.44L277.16 94.84Z" fill="#00f"/>
<path d="M273.13 98.77L279.83 98.77L276.48 93.17Z" fill="#00f"/>
<path d="M272.45 97.1L279.15 97.1L275.8 91.5Z" fill="#00f"/>
<path d="M271.8 95.42L278.5 95.42L275.15 89.82Z" fill="#00f"/>
<path d="M271.21 93.72L277.91 93.72L274.56 88.12Z" fill="#00f"/>
<path d="M270.72 91.99L277.42 91.99L274.07 86.39Z" fill="#00f"/>
<path d="M270.31 90.24L277.01 90.24L273.66 84.64Z" fill="#00f"/>
<path d="M269.96 88.48L276.66 88.48L273.31 82.88Z" fill="#00f"/>
<path d="M269.66 86.7L276.36 86.7L273.01 81.1Z" fill="#00f"/>
<path d="M269.38 84.92L276.08 84.92L272.73 79.32Z" fill="#00f"/>
<path d="M269.09 83.15L275.79 83.15L272.44 77.55Z" fill="#00f"/>
<path d="M268.82 81.37L275.52 81.37L272.17 75.77Z" fill="#00f"/>
<path d="M268.58 79.58L275.28 79.58L271.93 73.98Z" fill="#00f"/>
<path d="M268.35 77.8L275.05 77.8L271.7 72.2Z" fill="#00f"/>
<path d="M268.12 76.01L274.82 76.01L271.47 70.41Z" fill="#00f"/>
<path d="M267.87 74.23L274.57 74.23L271.22 68.63Z" fill="#00f"/>
<path d="M267.58 72.45L274.28 72.45L270.93 66.85Z" fill="#00f"/>
<path d="M267.25 70.68L273.95 70.68L270.6 65.08Z" fill="#00f"/>
<path d="M266.89 68.92L273.59 68.92L270.24 63.32Z" fill="#00f"/>
<path d="M266.52 67.16L273.22 67.16L269.87 61.56Z" fill="#00f"/>
<path d="M266.13 65.4L272.83 65.4L269.48 59.8Z" fill="#00f"/>
<path d="M265.73 63.65L272.43 63.65L269.08 58.05Z" fill="#00f"/>
<path d="M265.32 61.89L272.02 61.89L268.67 56.29Z" fill="#00f"/>
<path d="M264.88 60.15L271.58 60.15L268.23 54.55Z" fill="#00f"/>
<path d="M264.43 58.4L271.13 58.4L267.78 52.8Z" fill="#00f"/>
<path d="M263.98 56.66L270.68 56.66L267.33 51.06Z" fill="#00f"/>
<path d="M263.52 54.92L270.22 54.92L266.87 49.32Z" fill="#00f"/>
<path d="M263.08 53.18L269.78 53.18L266.43 47.58Z" fill="#00f"/>
<path d="M262.65 51.43L269.35 51.43L266 45.83Z" fill="#00f"/>
<path d="M262.25 49.67L268.95 49.67L265.6 44.07Z" fill="#00f"/>
<path d="M261.88 47.91L268.58 47.91L265.23 42.31Z" fill="#00f"/>
<path d="M261.51 46.15L268.21 46.15L264.86 40.55Z" fill="#00f"/>
<path d="M261.11 44.4L267.81 44.4L264.46 38.8Z" fill="#00f"/>
<path d="M260.63 42.66L267.33 42.66L263.98 37.06Z" fill="#00f"/>
<path d="M260.05 40.96L266.75 40.96L263.4 35.36Z" fill="#00f"/>
<path d="M259.32 39.31L266.02 39.31L262.67 33.71Z" fill="#00f"/>
<path d="M257.95 38.52L264.65 38.52L261.3 32.92Z" fill="#00f"/>
<path d="M256.76 39.85L263.46 39.85L260.11 34.25Z" fill="#00f"/>
<path d="M256.06 41.5L262.76 41.5L259.41 35.9Z" fill="#00f"/>
<path d="M255.66 43.25L262.36 43.25L259.01 37.65Z" fill="#00f"/>
<path d="M255.4 45.04L262.1 45.04L258.75 39.44Z" fill="#00f"/>
<path d="M255.24 46.83L261.94 46.83L258.59 41.23Z" fill="#00f"/>
<path d="M255.11 48.62L261.81 48.62L258.46 43.02Z" fill="#00f"/>
<path d="M254.94 50.41L261.64 50.41L258.29 44.81Z" fill="#00f"/>
<path d="M254.7 52.2L261.4 52.2L258.05 46.6Z" fill="#00f"/>
<path d="M254.4 53.97L261.1 53.97L257.75 48.37Z" fill="#00f"/>
<path d="M254.08 55.75L260.78 55.75L257.43 50.15Z" fill="#00f"/>
<path d="M253.74 57.51L260.44 57.51L257.09 51.91Z" fill="#00f"/>
<path d="M253.38 59.28L260.08 59.28L256.73 53.68Z" fill="#00f"/>
<path d="M253.02 61.04L259.72 61.04L256.37 55.44Z" fill="#00f"/>
<path d="M252.65 62.8L259.35 62.8L256 57.2Z" fill="#00f"/>
<path d="M252.26 64.56L258.96 64.56L255.61 58.96Z" fill="#00f"/>
<path d="M251.85 66.31L258.55 66.31L255.2 60.71Z" fill="#00f"/>
<path d="M251.44 68.06L258.14 68.06L254.79 62.46Z" fill="#00f"/>
<path d="M251.06 69.82L257.76 69.82L254.41 64.22Z" fill="#00f"/>
<path d="M250.7 71.59L257.4 71.59L254.05 65.99Z" fill="#00f"/>
<path d="M250.36 73.36L257.06 73.36L253.71 67.76Z" fill="#00f"/>
<path d="M250.05 75.13L256.75 75.13L253.4 69.53Z" fill="#00f"/>
<path d="M249.75 76.9L256.45 76.9L253.1 71.3Z" fill="#00f"/>
<path d="M249.45 78.68L256.15 78.68L252.8 73.08Z" fill="#00f"/>
<path d="M249.16 80.45L255.86 80.45L252.51 74.85Z" fill="#00f"/>
<path d="M248.87 82.23L255.57 82.23L252.22 76.63Z" fill="#00f"/>
<path d="M248.59 84.01L255.29 84.01L251.94 78.41Z" fill="#00f"/>
<path d="M248.29 85.78L254.99 85.78L251.64 80.18Z" fill="#00f"/>
<path d="M247.99 87.56L254.69 87.56L251.34 81.96Z" fill="#00f"/>
<path d="M247.69 89.33L254.39 89.33L251.04 83.73Z" fill="#00f"/>
<path d="M247.38 91.11L254.08 91.11L250.73 85.51Z" fill="#00f"/>
<path d="M247.05 92.88L253.75 92.88L250.4 87.28Z" fill="#00f"/>
<path d="M246.71 94.64L253.41 94.64L250.06 89.04Z" fill="#00f"/>
<path d="M246.36 96.41L253.06 96.41L249.71 90.81Z" fill="#00f"/>
<path d="M246.01 98.18L252.71 98.18L249.36 92.58Z" fill="#00f"/>
<path d="M245.66 99.94L252.36 99.94L249.01 94.34Z" fill="#00f"/>
<path d="M245.3 101.7L252 101.7L248.65 96.1Z" fill="#00f"/>
<path d="M244.93 103.47L251.63 103.47L248.28 97.87Z" fill="#00f"/>
<path d="M244.56 105.23L251.26 105.23L247.91 99.63Z" fill="#00f"/>
<path d="M244.18 106.99L250.88 106.99L247.53 101.39Z" fill="#00f"/>
<path d="M243.79 108.74L250.49 108.74L247.14 103.14Z" fill="#00f"/>
<path d="M243.4 110.5L250.1 110.5L246.75 104.9Z" fill="#00f"/>
<path d="M242.99 112.25L249.69 112.25L246.34 106.65Z" fill="#00f"/>
<path d="M242.57 114L249.27 114L245.92 108.4Z" fill="#00f"/>
<path d="M242.12 115.75L248.82 115.75L245.47 110.15Z" fill="#00f"/>
<path d="M241.63 117.48L248.33 117.48L244.98 111.88Z" fill="#00f"/>
<path d="M241.13 119.21L247.83 119.21L244.48 113.61Z" fill="#00f"/>
<path d="M240.61 120.93L247.31 120.93L243.96 115.33Z" fill="#00f"/>
<path d="M240.11 122.66L246.81 122.66L243.46 117.06Z" fill="#00f"/>
<path d="M239.62 124.39L246.32 124.39L242.97 118.79Z" fill="#00f"/>
<path d="M239.16 126.13L245.86 126.13L242.51 120.53Z" fill="#00f"/>
<path d="M238.75 127.88L245.45 127.88L242.1 122.28Z" fill="#00f"/>
<path d="M238.36 129.64L245.06 129.64L241.71 124.04Z" fill="#00f"/>
<path d="M238.01 131.41L244.71 131.41L241.36 125.81Z" fill="#00f"/>
<path d="M237.66 133.17L244.36 133.17L241.01 127.57Z" fill="#00f"/>
<path d="M237.33 134.94L244.03 134.94L240.68 129.34Z" fill="#00f"/>
<path d="M237.01 136.71L243.71 136.71L240.36 131.11Z" fill="#00f"/>
<path d="M236.69 138.49L243.39 138.49L240.04 132.89Z" fill="#00f"/>
<path d="M236.37 140.26L243.07 140.26L239.72 134.66Z" fill="#00f"/>
<path d="M236.05 142.03L242.75 142.03L239.4 136.43Z" fill="#00f"/>
<path d="M235.73 143.8L242.43 143.8L239.08 138.2Z" fill="#00f"/>
<path d="M235.4 145.57L242.1 145.57L238.75 139.97Z" fill="#00f"/>
<path d="M235.05 147.34L241.75 147.34L238.4 141.74Z" fill="#00f"/>
<path d="M234.69 149.1L241.39 149.1L238.04 143.5Z" fill="#00f"/>
<path d="M234.32 150.86L241.02 150.86L237.67 145.26Z" fill="#00f"/>
<path d="M233.93 152.62L240.63 152.62L237.28 147.02Z" fill="#00f"/>
<path d="M233.54 154.37L240.24 154.37L236.89 148.77Z" fill="#00f"/>
<path d="M233.14 156.13L239.84 156.13L236.49 150.53Z" fill="#00f"/>
<path d="M232.75 157.89L239.45 157.89L236.1 152.29Z" fill="#00f"/>
<path d="M232.36 159.65L239.06 159.65L235.71 154.05Z" fill="#00f"/>
<path d="M231.99 161.41L238.69 161.41L235.34 155.81Z" fill="#00f"/>
<path d="M231.61 163.17L238.31 163.17L234.96 157.57Z" fill="#00f"/>
<path d="M231.22 164.92L237.92 164.92L234.57 159.32Z" fill="#00f"/>
<path d="M230.8 166.67L237.5 166.67L234.15 161.07Z" fill="#00f"/>
<path d="M230.38 168.42L237.08 168.42L233.73 162.82Z" fill="#00f"/>
<path d="M229.98 170.18L236.68 170.18L233.33 164.58Z" fill="#00f"/>
<path d="M229.53 171.92L236.23 171.92L232.88 166.32Z" fill="#00f"/>
<path d="M228.97 173.63L235.67 173.63L232.32 168.03Z" fill="#00f"/>
<path d="M228.25 175.28L234.95 175.28L231.6 169.68Z" fill="#00f"/>
<path d="M227.45 176.89L234.15 176.89L230.8 171.29Z" fill="#00f"/>
<path d="M226.6 178.48L233.3 178.48L229.95 172.88Z" fill="#00f"/>
<path d="M225.66 180.01L232.36 180.01L229.01 174.41Z" fill="#00f"/>
<path d="M224.59 181.46L231.29 181.46L227.94 175.86Z" fill="#00f"/>
<path d="M223.12 182.4L229.82 182.4L226.47 176.8Z" fill="#00f"/>
<path d="M221.68 181.43L228.38 181.43L225.03 175.83Z" fill="#00f"/>
<path d="M220.68 179.94L227.38 179.94L224.03 174.34Z" fill="#00f"/>
<path d="M219.77 178.38L226.47 178.38L223.12 172.78Z" fill="#00f"/>
<path d="M218.82 176.85L225.52 176.85L222.17 171.25Z" fill="#00f"/>
<path d="M217.98 175.26L224.68 175.26L221.33 169.66Z" fill="#00f"/>
<path d="M217.21 173.64L223.91 173.64L220.56 168.04Z" fill="#00f"/>
<path d="M216.5 171.98L223.2 171.98L219.85 166.38Z" fill="#00f"/>
<path d="M215.9 170.29L222.6 170.29L219.25 164.69Z" fill="#00f"/>
<path d="M215.44 168.55L222.14 168.55L218.79 162.95Z" fill="#00f"/>
<path d="M214.93 166.82L221.63 166.82L218.28 161.22Z" fill="#00f"/>
<path d="M214.29 165.14L220.99 165.14L217.64 159.54Z" fill="#00f"/>
<path d="M213.6 163.47L220.3 163.47L216.95 157.87Z" fill="#00f"/>
<path d="M212.93 161.81L219.63 161.81L216.28 156.21Z" fill="#00f"/>
<path d="M212.29 160.12L218.99 160.12L215.64 154.52Z" fill="#00f"/>
<path d="M211.66 158.44L218.36 158.44L215.01 152.84Z" fill="#00f"/>
<path d="M64.75 189.83L71.45 189.83L68.1 195.43Z" fill="#008080"/>
<path d="M65.35 180.73L72.05 180.73L68.7 186.33Z" fill="#008080"/>
<path d="M66.05 172.33L72.75 172.33L69.4 177.93Z" fill="#008080"/>
<path d="M66.45 164.23L73.15 164.23L69.8 169.83Z" fill="#008080"/>
<path d="M67.05 155.43L73.75 155.43L70.4 161.03Z" fill="#008080"/>
<path d="M67.45 146.73L74.15 146.73L70.8 152.33Z" fill="#008080"/>
<path d="M67.85 138.63L74.55 138.63L71.2 144.23Z" fill="#008080"/>
<path d="M170.25 143.63L176.95 143.63L173.6 149.23Z" fill="#008080"/>
<path d="M170.25 132.63L176.95 132.63L173.6 138.23Z" fill="#008080"/>
<path d="M67.65 132.53L74.35 132.53L71 138.13Z" fill="#008080"/>
<path d="M69.41 132.89L76.11 132.89L72.76 138.49Z" fill="#008080"/>
<path d="M71.18 133.24L77.88 133.24L74.53 138.84Z" fill="#008080"/>
<path d="M72.95 133.54L79.65 133.54L76.3 139.14Z" fill="#008080"/>
<path d="M74.74 133.74L81.44 133.74L78.09 139.34Z" fill="#008080"/>
<path d="M76.54 133.81L83.24 133.81L79.89 139.41Z" fill="#008080"/>
<path d="M78.34 133.8L85.04 133.8L81.69 139.4Z" fill="#008080"/>
<path d="M80.14 133.67L86.84 133.67L83.49 139.27Z" fill="#008080"/>
<path d="M81.91 133.37L88.61 133.37L85.26 138.97Z" fill="#008080"/>
<path d="M83.62 132.83L90.32 132.83L86.97 138.43Z" fill="#008080"/>
<path d="M85.18 131.93L91.88 131.93L88.53 137.53Z" fill="#008080"/>
<path d="M86.54 130.76L93.24 130.76L89.89 136.36Z" fill="#008080"/>
<path d="M87.76 129.43L94.46 129.43L91.11 135.03Z" fill="#008080"/>
<path d="M88.88 128.03L95.58 128.03L92.23 133.63Z" fill="#008080"/>
<path d="M89.94 126.57L96.64 126.57L93.29 132.17Z" fill="#008080"/>
<path d="M90.97 125.1L97.67 125.1L94.32 130.7Z" fill="#008080"/>
<path d="M91.97 123.6L98.67 123.6L95.32 129.2Z" fill="#008080"/>
<path d="M92.93 122.08L99.63 122.08L96.28 127.68Z" fill="#008080"/>
<path d="M93.85 120.53L100.55 120.53L97.2 126.13Z" fill="#008080"/>
<path d="M94.73 118.96L101.43 118.96L98.08 124.56Z" fill="#008080"/>
<path d="M95.58 117.37L102.28 117.37L98.93 122.97Z" fill="#008080"/>
<path d="M96.39 115.76L103.09 115.76L99.74 121.36Z" fill="#008080"/>
<path d="M97.15 114.14L103.85 114.14L100.5 119.74Z" fill="#008080"/>
<path d="M97.89 112.49L104.59 112.49L101.24 118.09Z" fill="#008080"/>
<path d="M98.61 110.84L105.31 110.84L101.96 116.44Z" fill="#008080"/>
<path d="M99.32 109.19L106.02 109.19L102.67 114.79Z" fill="#008080"/>
<path d="M100.04 107.54L106.74 107.54L103.39 113.14Z" fill="#008080"/>
<path d="M100.74 105.88L107.44 105.88L104.09 111.48Z" fill="#008080"/>
<path d="M101.44 104.22L108.14 104.22L104.79 109.82Z" fill="#008080"/>
<path d="M102.12 102.56L108.82 102.56L105.47 108.16Z" fill="#008080"/>
<path d="M102.78 100.88L109.48 100.88L106.13 106.48Z" fill="#008080"/>
<path d="M103.42 99.2L110.12 99.2L106.77 104.8Z" fill="#008080"/>
<path d="M104.04 97.51L110.74 97.51L107.39 103.11Z" fill="#008080"/>
<path d="M104.63 95.81L111.33 95.81L107.98 101.41Z" fill="#008080"/>
<path d="M105.2 94.1L111.9 94.1L108.55 99.7Z" fill="#008080"/>
<path d="M105.75 92.39L112.45 92.39L109.1 97.99Z" fill="#008080"/>
<path d="M106.28 90.67L112.98 90.67L109.63 96.27Z" fill="#008080"/>
<path d="M106.81 88.95L113.51 88.95L110.16 94.55Z" fill="#008080"/>
<path d="M107.31 87.22L114.01 87.22L110.66 92.82Z" fill="#008080"/>
<path d="M107.79 85.48L114.49 85.48L111.14 91.08Z" fill="#008080"/>
<path d="M108.25 83.74L114.95 83.74L111.6 89.34Z" fill="#008080"/>
<path d="M108.71 82L115.41 82L112.06 87.6Z" fill="#008080"/>
<path d="M109.16 80.26L115.86 80.26L112.51 85.86Z" fill="#008080"/>
<path d="M109.61 78.52L116.31 78.52L112.96 84.12Z" fill="#008080"/>
<path d="M110.06 76.78L116.76 76.78L113.41 82.38Z" fill="#008080"/>
<path d="M110.52 75.03L117.22 75.03L113.87 80.63Z" fill="#008080"/>
<path d="M110.96 73.29L117.66 73.29L114.31 78.89Z" fill="#008080"/>
<path d="M111.39 71.54L118.09 71.54L114.74 77.14Z" fill="#008080"/>
<path d="M111.8 69.79L118.5 69.79L115.15 75.39Z" fill="#008080"/>
<path d="M112.19 68.03L118.89 68.03L115.54 73.63Z" fill="#008080"/>
<path d="M112.56 66.27L119.26 66.27L115.91 71.87Z" fill="#008080"/>
<path d="M112.92 64.5L119.62 64.5L116.27 70.1Z" fill="#008080"/>
<path d="M113.26 62.74L119.96 62.74L116.61 68.34Z" fill="#008080"/>
<path d="M113.6 60.97L120.3 60.97L116.95 66.57Z" fill="#008080"/>
<path d="M113.94 59.2L120.64 59.2L117.29 64.8Z" fill="#008080"/>
<path d="M114.28 57.43L120.98 57.43L117.63 63.03Z" fill="#008080"/>
<path d="M114.6 55.66L121.3 55.66L117.95 61.26Z" fill="#008080"/>
<path d="M114.92 53.89L121.62 53.89L118.27 59.49Z" fill="#008080"/>
<path d="M115.24 52.12L121.94 52.12L118.59 57.72Z" fill="#008080"/>
<path d="M115.57 50.35L122.27 50.35L118.92 55.95Z" fill="#008080"/>
<path d="M115.95 48.59L122.65 48.59L119.3 54.19Z" fill="#008080"/>
<path d="M116.37 46.84L123.07 46.84L119.72 52.44Z" fill="#008080"/>
<path d="M116.86 45.11L123.56 45.11L120.21 50.71Z" fill="#008080"/>
<path d="M117.41 43.4L124.11 43.4L120.76 49Z" fill="#008080"/>
<path d="M118.04 41.71L124.74 41.71L121.39 47.31Z" fill="#008080"/>
<path d="M118.76 40.06L125.46 40.06L122.11 45.66Z" fill="#008080"/>
<path d="M119.76 38.58L126.46 38.58L123.11 44.18Z" fill="#008080"/>
<path d="M121.14 39.32L127.84 39.32L124.49 44.92Z" fill="#008080"/>
<path d="M121.94 40.93L128.64 40.93L125.29 46.53Z" fill="#008080"/>
<path d="M122.59 42.61L129.29 42.61L125.94 48.21Z" fill="#008080"/>
<path d="M123.13 44.33L129.83 44.33L126.48 49.93Z" fill="#008080"/>
<path d="M123.61 46.06L130.31 46.06L126.96 51.66Z" fill="#008080"/>
<path d="M124.07 47.8L130.77 47.8L127.42 53.4Z" fill="#008080"/>
<path d="M124.5 49.55L131.2 49.55L127.85 55.15Z" fill="#008080"/>
<path d="M124.91 51.3L131.61 51.3L128.26 56.9Z" fill="#008080"/>
<path d="M125.32 53.06L132.02 53.06L128.67 58.66Z" fill="#008080"/>
<path d="M125.71 54.81L132.41 54.81L129.06 60.41Z" fill="#008080"/>
<path d="M126.1 56.57L132.8 56.57L129.45 62.17Z" fill="#008080"/>
<path d="M126.48 58.33L133.18 58.33L129.83 63.93Z" fill="#008080"/>
<path d="M126.85 60.09L133.55 60.09L130.2 65.69Z" fill="#008080"/>
<path d="M127.21 61.85L133.91 61.85L130.56 67.45Z" fill="#008080"/>
<path d="M127.55 63.62L134.25 63.62L130.9 69.22Z" fill="#008080"/>
<path d="M127.9 65.39L134.6 65.39L131.25 70.99Z" fill="#008080"/>
<path d="M128.25 67.15L134.95 67.15L131.6 72.75Z" fill="#008080"/>
<path d="M128.61 68.92L135.31 68.92L131.96 74.52Z" fill="#008080"/>
<path d="M128.97 70.68L135.67 70.68L132.32 76.28Z" fill="#008080"/>
<path d="M129.34 72.44L136.04 72.44L132.69 78.04Z" fill="#008080"/>
<path d="M129.71 74.2L136.41 74.2L133.06 79.8Z" fill="#008080"/>
<path d="M130.09 75.96L136.79 75.96L133.44 81.56Z" fill="#008080"/>
<path d="M130.46 77.72L137.16 77.72L133.81 83.32Z" fill="#008080"/>
<path d="M130.83 79.48L137.53 79.48L134.18 85.08Z" fill="#008080"/>
<path d="M131.2 81.25L137.9 81.25L134.55 86.85Z" fill="#008080"/>
<path d="M131.58 83.01L138.28 83.01L134.93 88.61Z" fill="#008080"/>
<path d="M131.94 84.77L138.64 84.77L135.29 90.37Z" fill="#008080"/>
<path d="M132.31 86.53L139.01 86.53L135.66 92.13Z" fill="#008080"/>
<path d="M132.68 88.29L139.38 88.29L136.03 93.89Z" fill="#008080"/>
<path d="M133.04 90.06L139.74 90.06L136.39 95.66Z" fill="#008080"/>
<path d="M133.39 91.82L140.09 91.82L136.74 97.42Z" fill="#008080"/>
<path d="M133.74 93.59L140.44 93.59L137.09 99.19Z" fill="#008080"/>
<path d="M134.08 95.35L140.78 95.35L137.43 100.95Z" fill="#008080"/>
<path d="M134.43 97.12L141.13 97.12L137.78 102.72Z" fill="#008080"/>
<path d="M134.77 98.89L141.47 98.89L138.12 104.49Z" fill="#008080"/>
<path d="M135.11 100.66L141.81 100.66L138.46 106.26Z" fill="#008080"/>
<path d="M135.46 102.42L142.16 102.42L138.81 108.02Z" fill="#008080"/>
<path d="M135.81 104.19L142.51 104.19L139.16 109.79Z" fill="#008080"/>
<path d="M136.17 105.95L142.87 105.95L139.52 111.55Z" fill="#008080"/>
<path d="M136.54 107.71L143.24 107.71L139.89 113.31Z" fill="#008080"/>
<path d="M136.93 109.47L143.63 109.47L140.28 115.07Z" fill="#008080"/>
<path d="M137.33 111.22L144.03 111.22L140.68 116.82Z" fill="#008080"/>
<path d="M137.76 112.97L144.46 112.97L141.11 118.57Z" fill="#008080"/>
<path d="M138.2 114.72L144.9 114.72L141.55 120.32Z" fill="#008080"/>
<path d="M138.65 116.46L145.35 116.46L142 122.06Z" fill="#008080"/>
<path d="M139.11 118.2L145.81 118.2L142.46 123.8Z" fill="#008080"/>
<path d="M139.57 119.94L146.27 119.94L142.92 125.54Z" fill="#008080"/>
<path d="M140.03 121.68L146.73 121.68L143.38 127.28Z" fill="#008080"/>
<path d="M140.47 123.43L147.17 123.43L143.82 129.03Z" fill="#008080"/>
<path d="M140.9 125.17L147.6 125.17L144.25 130.77Z" fill="#008080"/>
<path d="M141.32 126.92L148.02 126.92L144.67 132.52Z" fill="#008080"/>
<path d="M141.74 128.68L148.44 128.68L145.09 134.28Z" fill="#008080"/>
<path d="M142.15 130.43L148.85 130.43L145.5 136.03Z" fill="#008080"/>
<path d="M142.56 132.18L149.26 132.18L145.91 137.78Z" fill="#008080"/>
<path d="M142.97 133.93L149.67 133.93L146.32 139.53Z" fill="#008080"/>
<path d="M143.39 135.68L150.09 135.68L146.74 141.28Z" fill="#008080"/>
<path d="M143.81 137.43L150.51 137.43L147.16 143.03Z" fill="#008080"/>
<path d="M144.23 139.18L150.93 139.18L147.58 144.78Z" fill="#008080"/>
<path d="M144.67 140.93L151.37 140.93L148.02 146.53Z" fill="#008080"/>
<path d="M145.13 142.67L151.83 142.67L148.48 148.27Z" fill="#008080"/>
<path d="M145.61 144.41L152.31 144.41L148.96 150.01Z" fill="#008080"/>
<path d="M146.13 146.13L152.83 146.13L149.48 151.73Z" fill="#008080"/>
<path d="M146.68 147.84L153.38 147.84L150.03 153.44Z" fill="#008080"/>
<path d="M147.26 149.54L153.96 149.54L150.61 155.14Z" fill="#008080"/>
<path d="M147.86 151.24L154.56 151.24L151.21 156.84Z" fill="#008080"/>
<path d="M148.46 152.94L155.16 152.94L151.81 158.54Z" fill="#008080"/>
<path d="M149.01 154.65L155.71 154.65L152.36 160.25Z" fill="#008080"/>
<path d="M149.54 156.37L156.24 156.37L152.89 161.97Z" fill="#008080"/>
<path d="M150.05 158.1L156.75 158.1L153.4 163.7Z" fill="#008080"/>
<path d="M150.56 159.83L157.26 159.83L153.91 165.43Z" fill="#008080"/>
<path d="M151.1 161.54L157.8 161.54L154.45 167.14Z" fill="#008080"/>
<path d="M151.69 163.24L158.39 163.24L155.04 168.84Z" fill="#008080"/>
<path d="M152.35 164.92L159.05 164.92L155.7 170.52Z" fill="#008080"/>
<path d="M153.06 166.57L159.76 166.57L156.41 172.17Z" fill="#008080"/>
<path d="M153.8 168.21L160.5 168.21L157.15 173.81Z" fill="#008080"/>
<path d="M154.57 169.84L161.27 169.84L157.92 175.44Z" fill="#008080"/>
<path d="M155.35 171.46L162.05 171.46L158.7 177.06Z" fill="#008080"/>
<path d="M156.15 173.07L162.85 173.07L159.5 178.67Z" fill="#008080"/>
<path d="M157.02 174.65L163.72 174.65L160.37 180.25Z" fill="#008080"/>
<path d="M158.02 176.15L164.72 176.15L161.37 181.75Z" fill="#008080"/>
<path d="M159.31 177.29L166.01 177.29L162.66 182.89Z" fill="#008080"/>
<path d="M160.35 175.91L167.05 175.91L163.7 181.51Z" fill="#008080"/>
<path d="M160.95 174.22L167.65 174.22L164.3 179.82Z" fill="#008080"/>
<path d="M161.52 172.51L168.22 172.51L164.87 178.11Z" fill="#008080"/>
<path d="M162.11 170.81L168.81 170.81L165.46 176.41Z" fill="#008080"/>
<path d="M162.66 169.09L169.36 169.09L166.01 174.69Z" fill="#008080"/>
<path d="M163.21 167.38L169.91 167.38L166.56 172.98Z" fill="#008080"/>
<path d="M163.77 165.67L170.47 165.67L167.12 171.27Z" fill="#008080"/>
<path d="M164.36 163.97L171.06 163.97L167.71 169.57Z" fill="#008080"/>
<path d="M164.96 162.27L171.66 162.27L168.31 167.87Z" fill="#008080"/>
<path d="M165.59 160.58L172.29 160.58L168.94 166.18Z" fill="#008080"/>
<path d="M166.24 158.91L172.94 158.91L169.59 164.51Z" fill="#008080"/>
<path d="M166.94 157.25L173.64 157.25L170.29 162.85Z" fill="#008080"/>
<path d="M167.69 155.61L174.39 155.61L171.04 161.21Z" fill="#008080"/>
<path d="M168.46 153.99L175.16 153.99L171.81 159.59Z" fill="#008080"/>
<path d="M169.29 152.39L175.99 152.39L172.64 157.99Z" fill="#008080"/>
<path d="M167.15 150.63L173.85 150.63L170.5 156.23Z" fill="#008080"/>
<path d="M168.64 149.64L175.34 149.64L171.99 155.24Z" fill="#008080"/>
<path d="M170.43 149.62L177.13 149.62L173.78 155.22Z" fill="#008080"/>
<path d="M82.65 133.63L89.35 133.63L86 139.23Z" fill="#008080"/>
<path d="M84.29 132.9L90.99 132.9L87.64 138.5Z" fill="#008080"/>
<path d="M85.9 132.09L92.6 132.09L89.25 137.69Z" fill="#008080"/>
<path d="M87.4 131.09L94.1 131.09L90.75 136.69Z" fill="#008080"/>
<path d="M88.79 129.95L95.49 129.95L92.14 135.55Z" fill="#008080"/>
<path d="M90.1 128.72L96.8 128.72L93.45 134.32Z" fill="#008080"/>
<path d="M91.31 127.38L98.01 127.38L94.66 132.98Z" fill="#008080"/>
<path d="M92.42 125.97L99.12 125.97L95.77 131.57Z" fill="#008080"/>
<path d="M93.43 124.48L100.13 124.48L96.78 130.08Z" fill="#008080"/>
<path d="M94.35 122.93L101.05 122.93L97.7 128.53Z" fill="#008080"/>
<path d="M95.18 121.34L101.88 121.34L98.53 126.94Z" fill="#008080"/>
<path d="M95.95 119.71L102.65 119.71L99.3 125.31Z" fill="#008080"/>
<path d="M96.67 118.06L103.37 118.06L100.02 123.66Z" fill="#008080"/>
<path d="M97.35 116.39L104.05 116.39L100.7 121.99Z" fill="#008080"/>
<path d="M97.99 114.71L104.69 114.71L101.34 120.31Z" fill="#008080"/>
<path d="M98.62 113.02L105.32 113.02L101.97 118.62Z" fill="#008080"/>
<path d="M99.23 111.33L105.93 111.33L102.58 116.93Z" fill="#008080"/>
<path d="M99.85 109.64L106.55 109.64L103.2 115.24Z" fill="#008080"/>
<path d="M313.85 139.33L320.55 139.33L317.2 144.93Z" fill="#008080"/>
<path d="M314.25 150.63L320.95 150.63L317.6 156.23Z" fill="#008080"/>
<path d="M314.65 161.13L321.35 161.13L318 166.73Z" fill="#008080"/>
<path d="M314.95 171.73L321.65 171.73L318.3 177.33Z" fill="#008080"/>
<path d="M315.25 183.03L321.95 183.03L318.6 188.63Z" fill="#008080"/>
<path d="M315.65 194.23L322.35 194.23L319 199.83Z" fill="#008080"/>
<path d="M210.75 131.03L217.45 131.03L214.1 136.63Z" fill="#008080"/>
<path d="M210.75 140.73L217.45 140.73L214.1 146.33Z" fill="#008080"/>
<path d="M313.75 132.53L320.45 132.53L317.1 138.13Z" fill="#008080"/>
<path d="M311.99 132.89L318.69 132.89L315.34 138.49Z" fill="#008080"/>
<path d="M310.22 133.24L316.92 133.24L313.57 138.84Z" fill="#008080"/>
<path d="M308.45 133.54L315.15 133.54L311.8 139.14Z" fill="#008080"/>
<path d="M306.66 133.74L313.36 133.74L310.01 139.34Z" fill="#008080"/>
<path d="M304.86 133.81L311.56 133.81L308.21 139.41Z" fill="#008080"/>
<path d="M303.06 133.8L309.76 133.8L306.41 139.4Z" fill="#008080"/>
<path d="M301.26 133.67L307.96 133.67L304.61 139.27Z" fill="#008080"/>
<path d="M299.49 133.37L306.19 133.37L302.84 138.97Z" fill="#008080"/>
<path d="M297.78 132.83L304.48 132.83L301.13 138.43Z" fill="#008080"/>
<path d="M296.22 131.93L302.92 131.93L299.57 137.53Z" fill="#008080"/>
<path d="M294.86 130.76L301.56 130.76L298.21 136.36Z" fill="#008080"/>
<path d="M293.64 129.43L300.34 129.43L296.99 135.03Z" fill="#008080"/>
<path d="M292.52 128.03L299.22 128.03L295.87 133.63Z" fill="#008080"/>
<path d="M291.46 126.57L298.16 126.57L294.81 132.17Z" fill="#008080"/>
<path d="M290.43 125.1L297.13 125.1L293.78 130.7Z" fill="#008080"/>
<path d="M289.43 123.6L296.13 123.6L292.78 129.2Z" fill="#008080"/>
<path d="M288.47 122.08L295.17 122.08L291.82 127.68Z" fill="#008080"/>
<path d="M287.55 120.53L294.25 120.53L290.9 126.13Z" fill="#008080"/>
<path d="M286.67 118.96L293.37 118.96L290.02 124.56Z" fill="#008080"/>
<path d="M285.82 117.37L292.52 117.37L289.17 122.97Z" fill="#008080"/>
<path d="M285.01 115.76L291.71 115.76L288.36 121.36Z" fill="#008080"/>
<path d="M284.25 114.14L290.95 114.14L287.6 119.74Z" fill="#008080"/>
<path d="M283.51 112.49L290.21 112.49L286.86 118.09Z" fill="#008080"/>
<path d="M282.79 110.84L289.49 110.84L286.14 116.44Z" fill="#008080"/>
<path d="M282.08 109.19L288.78 109.19L285.43 114.79Z" fill="#008080"/>
<path d="M281.36 107.54L288.06 107.54L284.71 113.14Z" fill="#008080"/>
<path d="M280.66 105.88L287.36 105.88L284.01 111.48Z" fill="#008080"/>
<path d="M279.96 104.22L286.66 104.22L283.31 109.82Z" fill="#008080"/>
<path d="M279.28 102.56L285.98 102.56L282.63 108.16Z" fill="#008080"/>
<path d="M278.62 100.88L285.32 100.88L281.97 106.48Z" fill="#008080"/>
<path d="M277.98 99.2L284.68 99.2L281.33 104.8Z" fill="#008080"/>
<path d="M277.36 97.51L284.06 97.51L280.71 103.11Z" fill="#008080"/>
<path d="M276.77 95.81L283.47 95.81L280.12 101.41Z" fill="#008080"/>
<path d="M276.2 94.1L282.9 94.1L279.55 99.7Z" fill="#008080"/>
<path d="M275.65 92.39L282.35 92.39L279 97.99Z" fill="#008080"/>
<path d="M275.12 90.67L281.82 90.67L278.47 96.27Z" fill="#008080"/>
<path d="M274.59 88.95L281.29 88.95L277.94 94.55Z" fill="#008080"/>
<path d="M274.09 87.22L280.79 87.22L277.44 92.82Z" fill="#008080"/>
<path d="M273.61 85.48L280.31 85.48L276.96 91.08Z" fill="#008080"/>
<path d="M273.15 83.74L279.85 83.74L276.5 89.34Z" fill="#008080"/>
<path d="M272.69 82L279.39 82L276.04 87.6Z" fill="#008080"/>
<path d="M272.24 80.26L278.94 80.26L275.59 85.86Z" fill="#008080"/>
<path d="M271.79 78.52L278.49 78.52L275.14 84.12Z" fill="#008080"/>
<path d="M271.34 76.78L278.04 76.78L274.69 82.38Z" fill="#008080"/>
<path d="M270.88 75.03L277.58 75.03L274.23 80.63Z" fill="#008080"/>
<path d="M270.44 73.29L277.14 73.29L273.79 78.89Z" fill="#008080"/>
<path d="M270.01 71.54L276.71 71.54L273.36 77.14Z" fill="#008080"/>
<path d="M269.6 69.79L276.3 69.79L272.95 75.39Z" fill="#008080"/>
<path d="M269.21 68.03L275.91 68.03L272.56 73.63Z" fill="#008080"/>
<path d="M268.84 66.27L275.54 66.27L272.19 71.87Z" fill="#008080"/>
<path d="M268.48 64.5L275.18 64.5L271.83 70.1Z" fill="#008080"/>
<path d="M268.14 62.74L274.84 62.74L271.49 68.34Z" fill="#008080"/>
<path d="M267.8 60.97L274.5 60.97L271.15 66.57Z" fill="#008080"/>
<path d="M267.46 59.2L274.16 59.2L270.81 64.8Z" fill="#008080"/>
<path d="M267.12 57.43L273.82 57.43L270.47 63.03Z" fill="#008080"/>
<path d="M266.8 55.66L273.5 55.66L270.15 61.26Z" fill="#008080"/>
<path d="M266.48 53.89L273.18 53.89L269.83 59.49Z" fill="#008080"/>
<path d="M266.16 52.12L272.86 52.12L269.51 57.72Z" fill="#008080"/>
<path d="M265.83 50.35L272.53 50.35L269.18 55.95Z" fill="#008080"/>
<path d="M265.45 48.59L272.15 48.59L268.8 54.19Z" fill="#008080"/>
<path d="M265.03 46.84L271.73 46.84L268.38 52.44Z" fill="#008080"/>
<path d="M264.54 45.11L271.24 45.11L267.89 50.71Z" fill="#008080"/>
<path d="M263.99 43.4L270.69 43.4L267.34 49Z" fill="#008080"/>
<path d="M263.36 41.71L270.06 41.71L266.71 47.31Z" fill="#008080"/>
<path d="M262.64 40.06L269.34 40.06L265.99 45.66Z" fill="#008080"/>
<path d="M261.64 38.58L268.34 38.58L264.99 44.18Z" fill="#008080"/>
<path d="M260.26 39.32L266.96 39.32L263.61 44.92Z" fill="#008080"/>
<path d="M259.46 40.93L266.16 40.93L262.81 46.53Z" fill="#008080"/>
<path d="M258.81 42.61L265.51 42.61L262.16 48.21Z" fill="#008080"/>
<path d="M258.27 44.33L264.97 44.33L261.62 49.93Z" fill="#008080"/>
<path d="M257.79 46.06L264.49 46.06L261.14 51.66Z" fill="#008080"/>
<path d="M257.33 47.8L264.03 47.8L260.68 53.4Z" fill="#008080"/>
<path d="M256.9 49.55L263.6 49.55L260.25 55.15Z" fill="#008080"/>
<path d="M256.49 51.3L263.19 51.3L259.84 56.9Z" fill="#008080"/>
<path d="M256.08 53.06L262.78 53.06L259.43 58.66Z" fill="#008080"/>
<path d="M255.69 54.81L262.39 54.81L259.04 60.41Z" fill="#008080"/>
<path d="M255.3 56.57L262 56.57L258.65 62.17Z" fill="#008080"/>
<path d="M254.92 58.33L261.62 58.33L258.27 63.93Z" fill="#008080"/>
<path d="M254.55 60.09L261.25 60.09L257.9 65.69Z" fill="#008080"/>
<path d="M254.19 61.85L260.89 61.85L257.54 67.45Z" fill="#008080"/>
<path d="M253.85 63.62L260.55 63.62L257.2 69.22Z" fill="#008080"/>
<path d="M253.5 65.39L260.2 65.39L256.85 70.99Z" fill="#008080"/>
<path d="M253.15 67.15L259.85 67.15L256.5 72.75Z" fill="#008080"/>
<path d="M252.79 68.92L259.49 68.92L256.14 74.52Z" fill="#008080"/>
<path d="M252.43 70.68L259.13 70.68L255.78 76.28Z" fill="#008080"/>
<path d="M252.06 72.44L258.76 72.44L255.41 78.04Z" fill="#008080"/>
<path d="M251.69 74.2L258.39 74.2L255.04 79.8Z" fill="#008080"/>
<path d="M251.31 75.96L258.01 75.96L254.66 81.56Z" fill="#008080"/>
<path d="M250.94 77.72L257.64 77.72L254.29 83.32Z" fill="#008080"/>
<path d="M250.57 79.48L257.27 79.48L253.92 85.08Z" fill="#008080"/>
<path d="M250.2 81.25L256.9 81.25L253.55 86.85Z" fill="#008080"/>
<path d="M249.82 83.01L256.52 83.01L253.17 88.61Z" fill="#008080"/>
<path d="M249.46 84.77L256.16 84.77L252.81 90.37Z" fill="#008080"/>
<path d="M249.09 86.53L255.79 86.53L252.44 92.13Z" fill="#008080"/>
<path d="M248.72 88.29L255.42 88.29L252.07 93.89Z" fill="#008080"/>
<path d="M248.36 90.06L255.06 90.06L251.71 95.66Z" fill="#008080"/>
<path d="M248.01 91.82L254.71 91.82L251.36 97.42Z" fill="#008080"/>
<path d="M247.66 93.59L254.36 93.59L251.01 99.19Z" fill="#008080"/>
<path d="M247.32 95.35L254.02 95.35L250.67 100.95Z" fill="#008080"/>
<path d="M246.97 97.12L253.67 97.12L250.32 102.72Z" fill="#008080"/>
<path d="M246.63 98.89L253.33 98.89L249.98 104.49Z" fill="#008080"/>
<path d="M246.29 100.66L252.99 100.66L249.64 106.26Z" fill="#008080"/>
<path d="M245.94 102.42L252.64 102.42L249.29 108.02Z" fill="#008080"/>
<path d="M245.59 104.19L252.29 104.19L248.94 109.79Z" fill="#008080"/>
<path d="M245.23 105.95L251.93 105.95L248.58 111.55Z" fill="#008080"/>
<path d="M244.86 107.71L251.56 107.71L248.21 113.31Z" fill="#008080"/>
<path d="M244.47 109.47L251.17 109.47L247.82 115.07Z" fill="#008080"/>
<path d="M244.07 111.22L250.77 111.22L247.42 116.82Z" fill="#008080"/>
<path d="M243.64 112.97L250.34 112.97L246.99 118.57Z" fill="#008080"/>
<path d="M243.2 114.72L249.9 114.72L246.55 120.32Z" fill="#008080"/>
<path d="M242.75 116.46L249.45 116.46L246.1 122.06Z" fill="#008080"/>
<path d="M242.29 118.2L248.99 118.2L245.64 123.8Z" fill="#008080"/>
<path d="M241.83 119.94L248.53 119.94L245.18 125.54Z" fill="#008080"/>
<path d="M241.37 121.68L248.07 121.68L244.72 127.28Z" fill="#008080"/>
<path d="M240.93 123.43L247.63 123.43L244.28 129.03Z" fill="#008080"/>
<path d="M240.5 125.17L247.2 125.17L243.85 130.77Z" fill="#008080"/>
<path d="M240.08 126.92L246.78 126.92L243.43 132.52Z" fill="#008080"/>
<path d="M239.66 128.68L246.36 128.68L243.01 134.28Z" fill="#008080"/>
<path d="M239.25 130.43L245.95 130.43L242.6 136.03Z" fill="#008080"/>
<path d="M238.84 132.18L245.54 132.18L242.19 137.78Z" fill="#008080"/>
<path d="M238.43 133.93L245.13 133.93L241.78 139.53Z" fill="#008080"/>
<path d="M238.01 135.68L244.71 135.68L241.36 141.28Z" fill="#008080"/>
<path d="M237.59 137.43L244.29 137.43L240.94 143.03Z" fill="#008080"/>
<path d="M237.17 139.18L243.87 139.18L240.52 144.78Z" fill="#008080"/>
<path d="M236.73 140.93L243.43 140.93L240.08 146.53Z" fill="#008080"/>
<path d="M236.27 142.67L242.97 142.67L239.62 148.27Z" fill="#008080"/>
<path d="M235.79 144.41L242.49 144.41L239.14 150.01Z" fill="#008080"/>
<path d="M235.27 146.13L241.97 146.13L238.62 151.73Z" fill="#008080"/>
<path d="M234.72 147.84L241.42 147.84L238.07 153.44Z" fill="#008080"/>
<path d="M234.14 149.54L240.84 149.54L237.49 155.14Z" fill="#008080"/>
<path d="M233.54 151.24L240.24 151.24L236.89 156.84Z" fill="#008080"/>
<path d="M232.94 152.94L239.64 152.94L236.29 158.54Z" fill="#008080"/>
<path d="M232.38 154.65L239.08 154.65L235.73 160.25Z" fill="#008080"/>
<path d="M231.84 156.37L238.54 156.37L235.19 161.97Z" fill="#008080"/>
<path d="M231.3 158.08L238 158.08L234.65 163.68Z" fill="#008080"/>
<path d="M230.76 159.8L237.46 159.8L234.11 165.4Z" fill="#008080"/>
<path d="M230.23 161.52L236.93 161.52L233.58 167.12Z" fill="#008080"/>
<path d="M229.72 163.25L236.42 163.25L233.07 168.85Z" fill="#008080"/>
<path d="M229.24 164.98L235.94 164.98L232.59 170.58Z" fill="#008080"/>
<path d="M228.8 166.73L235.5 166.73L232.15 172.33Z" fill="#008080"/>
<path d="M228.34 168.47L235.04 168.47L231.69 174.07Z" fill="#008080"/>
<path d="M227.81 170.19L234.51 170.19L231.16 175.79Z" fill="#008080"/>
<path d="M227.13 171.86L233.83 171.86L230.48 177.46Z" fill="#008080"/>
<path d="M226.32 173.46L233.02 173.46L229.67 179.06Z" fill="#008080"/>
<path d="M225.39 175L232.09 175L228.74 180.6Z" fill="#008080"/>
<path d="M224.35 176.47L231.05 176.47L227.7 182.07Z" fill="#008080"/>
<path d="M222.94 177.12L229.64 177.12L226.29 182.72Z" fill="#008080"/>
<path d="M222.11 175.54L228.81 175.54L225.46 181.14Z" fill="#008080"/>
<path d="M221.52 173.84L228.22 173.84L224.87 179.44Z" fill="#008080"/>
<path d="M220.95 172.13L227.65 172.13L224.3 177.73Z" fill="#008080"/>
<path d="M220.37 170.43L227.07 170.43L223.72 176.03Z" fill="#008080"/>
<path d="M219.82 168.71L226.52 168.71L223.17 174.31Z" fill="#008080"/>
<path d="M219.27 167L225.97 167L222.62 172.6Z" fill="#008080"/>
<path d="M218.7 165.29L225.4 165.29L222.05 170.89Z" fill="#008080"/>
<path d="M218.11 163.59L224.81 163.59L221.46 169.19Z" fill="#008080"/>
<path d="M217.5 161.9L224.2 161.9L220.85 167.5Z" fill="#008080"/>
<path d="M216.87 160.21L223.57 160.21L220.22 165.81Z" fill="#008080"/>
<path d="M216.21 158.54L222.91 158.54L219.56 164.14Z" fill="#008080"/>
<path d="M215.5 156.89L222.2 156.89L218.85 162.49Z" fill="#008080"/>
<path d="M214.74 155.25L221.44 155.25L218.09 160.85Z" fill="#008080"/>
<path d="M213.96 153.63L220.66 153.63L217.31 159.23Z" fill="#008080"/>
<path d="M213.13 152.04L219.83 152.04L216.48 157.64Z" fill="#008080"/>
<path d="M213.15 149.63L219.85 149.63L216.5 155.23Z" fill="#008080"/>
<path d="M213.8 151.31L220.5 151.31L217.15 156.91Z" fill="#008080"/>
<path d="M214.45 152.99L221.15 152.99L217.8 158.59Z" fill="#008080"/>
<path d="M215.09 154.67L221.79 154.67L218.44 160.27Z" fill="#008080"/>
<path d="M215.73 156.35L222.43 156.35L219.08 161.95Z" fill="#008080"/>
<path d="M216.36 158.04L223.06 158.04L219.71 163.64Z" fill="#008080"/>
<path d="M216.99 159.73L223.69 159.73L220.34 165.33Z" fill="#008080"/>
<path d="M217.62 161.42L224.32 161.42L220.97 167.02Z" fill="#008080"/>
<path d="M218.25 163.1L224.95 163.1L221.6 168.7Z" fill="#008080"/>
<path d="M218.91 164.78L225.61 164.78L222.26 170.38Z" fill="#008080"/>
<path d="M219.59 166.44L226.29 166.44L222.94 172.04Z" fill="#008080"/>
<path d="M220.29 168.1L226.99 168.1L223.64 173.7Z" fill="#008080"/>
<path d="M220.99 169.76L227.69 169.76L224.34 175.36Z" fill="#008080"/>
<path d="M298.75 133.63L305.45 133.63L302.1 139.23Z" fill="#008080"/>
<path d="M297.11 132.9L303.81 132.9L300.46 138.5Z" fill="#008080"/>
<path d="M295.5 132.09L302.2 132.09L298.85 137.69Z" fill="#008080"/>
<path d="M294 131.09L300.7 131.09L297.35 136.69Z" fill="#008080"/>
<path d="M292.61 129.95L299.31 129.95L295.96 135.55Z" fill="#008080"/>
<path d="M291.3 128.72L298 128.72L294.65 134.32Z" fill="#008080"/>
<path d="M290.09 127.38L296.79 127.38L293.44 132.98Z" fill="#008080"/>
<path d="M288.98 125.97L295.68 125.97L292.33 131.57Z" fill="#008080"/>
<path d="M287.97 124.48L294.67 124.48L291.32 130.08Z" fill="#008080"/>
<path d="M287.05 122.93L293.75 122.93L290.4 128.53Z" fill="#008080"/>
<path d="M286.22 121.34L292.92 121.34L289.57 126.94Z" fill="#008080"/>
<path d="M285.45 119.71L292.15 119.71L288.8 125.31Z" fill="#008080"/>
<path d="M284.73 118.06L291.43 118.06L288.08 123.66Z" fill="#008080"/>
<path d="M284.05 116.39L290.75 116.39L287.4 121.99Z" fill="#008080"/>
<path d="M283.41 114.71L290.11 114.71L286.76 120.31Z" fill="#008080"/>
<path d="M282.78 113.02L289.48 113.02L286.13 118.62Z" fill="#008080"/>
<path d="M282.17 111.33L288.87 111.33L285.52 116.93Z" fill="#008080"/>
<path d="M281.55 109.64L288.25 109.64L284.9 115.24Z" fill="#008080"/>
<rect x="418.3" y="120.3" width="5" height="5" fill="#000"/>
<rect x="420.05" y="120" width="5" height="5" fill="#000"/>
<rect x="421.75" y="120.58" width="5" height="5" fill="#000"/>
<rect x="423.36" y="121.4" width="5" height="5" fill="#000"/>
<rect x="424.86" y="122.39" width="5" height="5" fill="#000"/>
<rect x="426.18" y="123.61" width="5" height="5" fill="#000"/>
<rect x="427.38" y="124.94" width="5" height="5" fill="#000"/>
<rect x="428.57" y="126.3" width="5" height="5" fill="#000"/>
<rect x="429.8" y="127.61" width="5" height="5" fill="#000"/>
<rect x="431.06" y="128.9" width="5" height="5" fill="#000"/>
<rect x="432.33" y="130.17" width="5" height="5" fill="#000"/>
<rect x="433.72" y="131.31" width="5" height="5" fill="#000"/>
<rect x="435.28" y="132.22" width="5" height="5" fill="#000"/>
<rect x="436.97" y="132.82" width="5" height="5" fill="#000"/>
<rect x="438.75" y="133" width="5" height="5" fill="#000"/>
<rect x="440.55" y="132.86" width="5" height="5" fill="#000"/>
<rect x="442.3" y="132.46" width="5" height="5" fill="#000"/>
<rect x="443.96" y="131.77" width="5" height="5" fill="#000"/>
<rect x="445.43" y="130.74" width="5" height="5" fill="#000"/>
<rect x="446.68" y="129.45" width="5" height="5" fill="#000"/>
<rect x="447.78" y="128.02" width="5" height="5" fill="#000"/>
<rect x="448.81" y="126.55" width="5" height="5" fill="#000"/>
<rect x="449.78" y="125.03" width="5" height="5" fill="#000"/>
<rect x="450.68" y="123.47" width="5" height="5" fill="#000"/>
<rect x="451.53" y="121.88" width="5" height="5" fill="#000"/>
<rect x="452.33" y="120.27" width="5" height="5" fill="#000"/>
<rect x="453.09" y="118.64" width="5" height="5" fill="#000"/>
<rect x="453.77" y="116.97" width="5" height="5" fill="#000"/>
<rect x="454.42" y="115.29" width="5" height="5" fill="#000"/>
<rect x="455.04" y="113.61" width="5" height="5" fill="#000"/>
<rect x="455.67" y="111.92" width="5" height="5" fill="#000"/>
<rect x="456.31" y="110.24" width="5" height="5" fill="#000"/>
<rect x="456.98" y="108.57" width="5" height="5" fill="#000"/>
<rect x="457.68" y="106.91" width="5" height="5" fill="#000"/>
<rect x="458.39" y="105.25" width="5" height="5" fill="#000"/>
<rect x="459.11" y="103.6" width="5" height="5" fill="#000"/>
<rect x="459.82" y="101.95" width="5" height="5" fill="#000"/>
<rect x="460.53" y="100.3" width="5" height="5" fill="#000"/>
<rect x="461.23" y="98.64" width="5" height="5" fill="#000"/>
<rect x="461.9" y="96.97" width="5" height="5" fill="#000"/>
<rect x="462.57" y="95.3" width="5" height="5" fill="#000"/>
<rect x="463.24" y="93.62" width="5" height="5" fill="#000"/>
<rect x="463.89" y="91.95" width="5" height="5" fill="#000"/>
<rect x="464.53" y="90.27" width="5" height="5" fill="#000"/>
<rect x="465.17" y="88.58" width="5" height="5" fill="#000"/>
<rect x="465.79" y="86.89" width="5" height="5" fill="#000"/>
<rect x="466.41" y="85.2" width="5" height="5" fill="#000"/>
<rect x="467.02" y="83.51" width="5" height="5" fill="#000"/>
<rect x="467.62" y="81.81" width="5" height="5" fill="#000"/>
<rect x="468.21" y="80.11" width="5" height="5" fill="#000"/>
<rect x="468.79" y="78.41" width="5" height="5" fill="#000"/>
<rect x="469.37" y="76.71" width="5" height="5" fill="#000"/>
<rect x="469.95" y="75" width="5" height="5" fill="#000"/>
<rect x="470.51" y="73.29" width="5" height="5" fill="#000"/>
<rect x="471.07" y="71.58" width="5" height="5" fill="#000"/>
<rect x="471.62" y="69.86" width="5" height="5" fill="#000"/>
<rect x="472.15" y="68.15" width="5" height="5" fill="#000"/>
<rect x="472.67" y="66.42" width="5" height="5" fill="#000"/>
<rect x="473.15" y="64.69" width="5" height="5" fill="#000"/>
<rect x="473.63" y="62.95" width="5" height="5" fill="#000"/>
<rect x="474.11" y="61.22" width="5" height="5" fill="#000"/>
<rect x="474.64" y="59.5" width="5" height="5" fill="#000"/>
<rect x="475.23" y="57.8" width="5" height="5" fill="#000"/>
<rect x="475.88" y="56.12" width="5" height="5" fill="#000"/>
<rect x="476.59" y="54.46" width="5" height="5" fill="#000"/>
<rect x="477.34" y="52.83" width="5" height="5" fill="#000"/>
<rect x="478.14" y="51.21" width="5" height="5" fill="#000"/>
<rect x="478.99" y="49.63" width="5" height="5" fill="#000"/>
<rect x="479.88" y="48.06" width="5" height="5" fill="#000"/>
<rect x="480.79" y="46.51" width="5" height="5" fill="#000"/>
<rect x="481.71" y="44.97" width="5" height="5" fill="#000"/>
<rect x="482.67" y="43.44" width="5" height="5" fill="#000"/>
<rect x="483.72" y="41.98" width="5" height="5" fill="#000"/>
<rect x="484.89" y="40.62" width="5" height="5" fill="#000"/>
<rect x="486.22" y="39.4" width="5" height="5" fill="#000"/>
<rect x="487.82" y="38.61" width="5" height="5" fill="#000"/>
<rect x="489.61" y="38.49" width="5" height="5" fill="#000"/>
<rect x="491.41" y="38.41" width="5" height="5" fill="#000"/>
<rect x="493.19" y="38.62" width="5" height="5" fill="#000"/>
<rect x="494.93" y="39.09" width="5" height="5" fill="#000"/>
<rect x="496.5" y="39.95" width="5" height="5" fill="#000"/>
<rect x="497.84" y="41.15" width="5" height="5" fill="#000"/>
<rect x="498.88" y="42.61" width="5" height="5" fill="#000"/>
<rect x="499.68" y="44.23" width="5" height="5" fill="#000"/>
<rect x="500.31" y="45.91" width="5" height="5" fill="#000"/>
<rect x="500.83" y="47.63" width="5" height="5" fill="#000"/>
<rect x="501.26" y="49.38" width="5" height="5" fill="#000"/>
<rect x="501.64" y="51.14" width="5" height="5" fill="#000"/>
<rect x="501.99" y="52.91" width="5" height="5" fill="#000"/>
<rect x="502.31" y="54.68" width="5" height="5" fill="#000"/>
<rect x="502.61" y="56.45" width="5" height="5" fill="#000"/>
<rect x="502.88" y="58.23" width="5" height="5" fill="#000"/>
<rect x="503.14" y="60.01" width="5" height="5" fill="#000"/>
<rect x="503.41" y="61.79" width="5" height="5" fill="#000"/>
<rect x="503.65" y="63.58" width="5" height="5" fill="#000"/>
<rect x="503.86" y="65.36" width="5" height="5" fill="#000"/>
<rect x="504.07" y="67.15" width="5" height="5" fill="#000"/>
<rect x="504.34" y="68.93" width="5" height="5" fill="#000"/>
<rect x="505.09" y="69.81" width="5" height="5" fill="#000"/>
<rect x="505.64" y="68.1" width="5" height="5" fill="#000"/>
<rect x="506.09" y="66.36" width="5" height="5" fill="#000"/>
<rect x="506.63" y="64.64" width="5" height="5" fill="#000"/>
<rect x="507.19" y="62.93" width="5" height="5" fill="#000"/>
<rect x="507.76" y="61.22" width="5" height="5" fill="#000"/>
<rect x="508.47" y="59.57" width="5" height="5" fill="#000"/>
<rect x="509.47" y="58.07" width="5" height="5" fill="#000"/>
<rect x="510.65" y="56.72" width="5" height="5" fill="#000"/>
<rect x="665.4" y="120.3" width="5" height="5" fill="#000"/>
<rect x="663.65" y="120" width="5" height="5" fill="#000"/>
<rect x="661.95" y="120.58" width="5" height="5" fill="#000"/>
<rect x="660.34" y="121.4" width="5" height="5" fill="#000"/>
<rect x="658.84" y="122.39" width="5" height="5" fill="#000"/>
<rect x="657.52" y="123.61" width="5" height="5" fill="#000"/>
<rect x="656.32" y="124.94" width="5" height="5" fill="#000"/>
<rect x="655.13" y="126.3" width="5" height="5" fill="#000"/>
<rect x="653.9" y="127.61" width="5" height="5" fill="#000"/>
<rect x="652.64" y="128.9" width="5" height="5" fill="#000"/>
<rect x="651.37" y="130.17" width="5" height="5" fill="#000"/>
<rect x="649.98" y="131.31" width="5" height="5" fill="#000"/>
<rect x="648.43" y="132.23" width="5" height="5" fill="#000"/>
<rect x="646.74" y="132.83" width="5" height="5" fill="#000"/>
<rect x="644.95" y="133" width="5" height="5" fill="#000"/>
<rect x="643.15" y="132.89" width="5" height="5" fill="#000"/>
<rect x="641.38" y="132.58" width="5" height="5" fill="#000"/>
<rect x="639.66" y="132.05" width="5" height="5" fill="#000"/>
<rect x="638.09" y="131.19" width="5" height="5" fill="#000"/>
<rect x="636.76" y="129.98" width="5" height="5" fill="#000"/>
<rect x="635.62" y="128.59" width="5" height="5" fill="#000"/>
<rect x="634.58" y="127.12" width="5" height="5" fill="#000"/>
<rect x="633.59" y="125.62" width="5" height="5" fill="#000"/>
<rect x="632.66" y="124.07" width="5" height="5" fill="#000"/>
<rect x="631.79" y="122.5" width="5" height="5" fill="#000"/>
<rect x="630.97" y="120.9" width="5" height="5" fill="#000"/>
<rect x="630.2" y="119.27" width="5" height="5" fill="#000"/>
<rect x="629.49" y="117.62" width="5" height="5" fill="#000"/>
<rect x="628.83" y="115.94" width="5" height="5" fill="#000"/>
<rect x="628.2" y="114.26" width="5" height="5" fill="#000"/>
<rect x="627.57" y="112.57" width="5" height="5" fill="#000"/>
<rect x="626.94" y="110.88" width="5" height="5" fill="#000"/>
<rect x="626.28" y="109.21" width="5" height="5" fill="#000"/>
<rect x="625.59" y="107.55" width="5" height="5" fill="#000"/>
<rect x="624.89" y="105.89" width="5" height="5" fill="#000"/>
<rect x="624.17" y="104.24" width="5" height="5" fill="#000"/>
<rect x="623.45" y="102.59" width="5" height="5" fill="#000"/>
<rect x="622.74" y="100.94" width="5" height="5" fill="#000"/>
<rect x="622.04" y="99.28" width="5" height="5" fill="#000"/>
<rect x="621.36" y="97.61" width="5" height="5" fill="#000"/>
<rect x="620.68" y="95.94" width="5" height="5" fill="#000"/>
<rect x="620.02" y="94.27" width="5" height="5" fill="#000"/>
<rect x="619.36" y="92.59" width="5" height="5" fill="#000"/>
<rect x="618.71" y="90.91" width="5" height="5" fill="#000"/>
<rect x="618.08" y="89.23" width="5" height="5" fill="#000"/>
<rect x="617.45" y="87.55" width="5" height="5" fill="#000"/>
<rect x="616.83" y="85.86" width="5" height="5" fill="#000"/>
<rect x="616.22" y="84.16" width="5" height="5" fill="#000"/>
<rect x="615.61" y="82.47" width="5" height="5" fill="#000"/>
<rect x="615.02" y="80.77" width="5" height="5" fill="#000"/>
<rect x="614.43" y="79.07" width="5" height="5" fill="#000"/>
<rect x="613.85" y="77.36" width="5" height="5" fill="#000"/>
<rect x="613.27" y="75.66" width="5" height="5" fill="#000"/>
<rect x="612.71" y="73.95" width="5" height="5" fill="#000"/>
<rect x="612.15" y="72.24" width="5" height="5" fill="#000"/>
<rect x="611.59" y="70.52" width="5" height="5" fill="#000"/>
<rect x="611.05" y="68.81" width="5" height="5" fill="#000"/>
<rect x="610.53" y="67.09" width="5" height="5" fill="#000"/>
<rect x="610.03" y="65.36" width="5" height="5" fill="#000"/>
<rect x="609.56" y="63.62" width="5" height="5" fill="#000"/>
<rect x="609.08" y="61.88" width="5" height="5" fill="#000"/>
<rect x="608.57" y="60.16" width="5" height="5" fill="#000"/>
<rect x="608.01" y="58.45" width="5" height="5" fill="#000"/>
<rect x="607.38" y="56.76" width="5" height="5" fill="#000"/>
<rect x="606.69" y="55.1" width="5" height="5" fill="#000"/>
<rect x="605.95" y="53.46" width="5" height="5" fill="#000"/>
<rect x="605.17" y="51.84" width="5" height="5" fill="#000"/>
<rect x="604.29" y="50.27" width="5" height="5" fill="#000"/>
<rect x="603.38" y="48.72" width="5" height="5" fill="#000"/>
<rect x="602.55" y="47.12" width="5" height="5" fill="#000"/>
<rect x="601.99" y="45.41" width="5" height="5" fill="#000"/>
<rect x="601.6" y="43.65" width="5" height="5" fill="#000"/>
<rect x="600.98" y="41.97" width="5" height="5" fill="#000"/>
<rect x="599.87" y="40.55" width="5" height="5" fill="#000"/>
<rect x="598.5" y="39.39" width="5" height="5" fill="#000"/>
<rect x="596.9" y="38.61" width="5" height="5" fill="#000"/>
<rect x="595.1" y="38.49" width="5" height="5" fill="#000"/>
<rect x="593.31" y="38.37" width="5" height="5" fill="#000"/>
<rect x="591.54" y="38.68" width="5" height="5" fill="#000"/>
<rect x="589.87" y="39.35" width="5" height="5" fill="#000"/>
<rect x="588.31" y="40.25" width="5" height="5" fill="#000"/>
<rect x="586.91" y="41.37" width="5" height="5" fill="#000"/>
<rect x="585.81" y="42.79" width="5" height="5" fill="#000"/>
<rect x="584.93" y="44.36" width="5" height="5" fill="#000"/>
<rect x="584.17" y="45.99" width="5" height="5" fill="#000"/>
<rect x="583.52" y="47.67" width="5" height="5" fill="#000"/>
<rect x="582.99" y="49.39" width="5" height="5" fill="#000"/>
<rect x="582.58" y="51.14" width="5" height="5" fill="#000"/>
<rect x="582.22" y="52.9" width="5" height="5" fill="#000"/>
<rect x="581.87" y="54.67" width="5" height="5" fill="#000"/>
<rect x="581.51" y="56.43" width="5" height="5" fill="#000"/>
<rect x="581.16" y="58.2" width="5" height="5" fill="#000"/>
<rect x="580.82" y="59.97" width="5" height="5" fill="#000"/>
<rect x="580.48" y="61.73" width="5" height="5" fill="#000"/>
<rect x="580.15" y="63.5" width="5" height="5" fill="#000"/>
<rect x="579.83" y="65.27" width="5" height="5" fill="#000"/>
<rect x="579.56" y="67.05" width="5" height="5" fill="#000"/>
<rect x="579.3" y="68.83" width="5" height="5" fill="#000"/>
<rect x="579.04" y="70.62" width="5" height="5" fill="#000"/>
<rect x="578.74" y="72.39" width="5" height="5" fill="#000"/>
<rect x="578.28" y="74.13" width="5" height="5" fill="#000"/>
<rect x="577.33" y="73.26" width="5" height="5" fill="#000"/>
<rect x="576.85" y="71.52" width="5" height="5" fill="#000"/>
<rect x="576.5" y="69.76" width="5" height="5" fill="#000"/>
<rect x="576.29" y="67.97" width="5" height="5" fill="#000"/>
<rect x="576.25" y="66.17" width="5" height="5" fill="#000"/>
<rect x="576.26" y="64.37" width="5" height="5" fill="#000"/>
<rect x="576.24" y="62.57" width="5" height="5" fill="#000"/>
<rect x="576.06" y="60.79" width="5" height="5" fill="#000"/>
<rect x="575.37" y="59.14" width="5" height="5" fill="#000"/>
<rect x="574.15" y="57.83" width="5" height="5" fill="#000"/>
<rect x="416.3" y="206.3" width="5" height="5" fill="#000"/>
<rect x="416.3" y="185.3" width="5" height="5" fill="#000"/>
<rect x="416.9" y="165.1" width="5" height="5" fill="#000"/>
<rect x="417.3" y="143.5" width="5" height="5" fill="#000"/>
<rect x="417.9" y="125.4" width="5" height="5" fill="#000"/>
<rect x="664.3" y="125.4" width="5" height="5" fill="#000"/>
<rect x="664.5" y="132.7" width="5" height="5" fill="#000"/>
<rect x="664.7" y="139.5" width="5" height="5" fill="#000"/>
<rect x="664.9" y="147" width="5" height="5" fill="#000"/>
<rect x="665.1" y="154.3" width="5" height="5" fill="#000"/>
<rect x="665.5" y="164.1" width="5" height="5" fill="#000"/>
<rect x="666.1" y="183.7" width="5" height="5" fill="#000"/>
<rect x="666.5" y="205.3" width="5" height="5" fill="#000"/>
<circle cx="420.8" cy="121.8" r="2.75" fill="#f00"/>
<circle cx="422.55" cy="121.5" r="2.75" fill="#f00"/>
<circle cx="424.25" cy="122.08" r="2.75" fill="#f00"/>
<circle cx="425.86" cy="122.9" r="2.75" fill="#f00"/>
<circle cx="427.36" cy="123.89" r="2.75" fill="#f00"/>
<circle cx="428.68" cy="125.11" r="2.75" fill="#f00"/>
<circle cx="429.88" cy="126.44" r="2.75" fill="#f00"/>
<circle cx="431.07" cy="127.8" r="2.75" fill="#f00"/>
<circle cx="432.3" cy="129.11" r="2.75" fill="#f00"/>
<circle cx="433.56" cy="130.4" r="2.75" fill="#f00"/>
<circle cx="434.83" cy="131.67" r="2.75" fill="#f00"/>
<circle cx="436.22" cy="132.81" r="2.75" fill="#f00"/>
<circle cx="437.78" cy="133.72" r="2.75" fill="#f00"/>
<circle cx="439.47" cy="134.32" r="2.75" fill="#f00"/>
<circle cx="441.25" cy="134.5" r="2.75" fill="#f00"/>
<circle cx="443.05" cy="134.35" r="2.75" fill="#f00"/>
<circle cx="444.8" cy="133.96" r="2.75" fill="#f00"/>
<circle cx="446.46" cy="133.27" r="2.75" fill="#f00"/>
<circle cx="447.94" cy="132.25" r="2.75" fill="#f00"/>
<circle cx="449.23" cy="130.99" r="2.75" fill="#f00"/>
<circle cx="450.38" cy="129.61" r="2.75" fill="#f00"/>
<circle cx="451.46" cy="128.17" r="2.75" fill="#f00"/>
<circle cx="452.47" cy="126.68" r="2.75" fill="#f00"/>
<circle cx="453.42" cy="125.15" r="2.75" fill="#f00"/>
<circle cx="454.31" cy="123.59" r="2.75" fill="#f00"/>
<circle cx="455.15" cy="122" r="2.75" fill="#f00"/>
<circle cx="455.93" cy="120.38" r="2.75" fill="#f00"/>
<circle cx="456.66" cy="118.73" r="2.75" fill="#f00"/>
<circle cx="457.35" cy="117.07" r="2.75" fill="#f00"/>
<circle cx="458.02" cy="115.4" r="2.75" fill="#f00"/>
<circle cx="458.68" cy="113.73" r="2.75" fill="#f00"/>
<circle cx="459.37" cy="112.06" r="2.75" fill="#f00"/>
<circle cx="460.07" cy="110.4" r="2.75" fill="#f00"/>
<circle cx="460.78" cy="108.75" r="2.75" fill="#f00"/>
<circle cx="461.49" cy="107.1" r="2.75" fill="#f00"/>
<circle cx="462.21" cy="105.44" r="2.75" fill="#f00"/>
<circle cx="462.92" cy="103.79" r="2.75" fill="#f00"/>
<circle cx="463.62" cy="102.13" r="2.75" fill="#f00"/>
<circle cx="464.3" cy="100.47" r="2.75" fill="#f00"/>
<circle cx="464.97" cy="98.8" r="2.75" fill="#f00"/>
<circle cx="465.64" cy="97.13" r="2.75" fill="#f00"/>
<circle cx="466.3" cy="95.45" r="2.75" fill="#f00"/>
<circle cx="466.95" cy="93.77" r="2.75" fill="#f00"/>
<circle cx="467.59" cy="92.09" r="2.75" fill="#f00"/>
<circle cx="468.22" cy="90.4" r="2.75" fill="#f00"/>
<circle cx="468.84" cy="88.71" r="2.75" fill="#f00"/>
<circle cx="469.46" cy="87.02" r="2.75" fill="#f00"/>
<circle cx="470.06" cy="85.33" r="2.75" fill="#f00"/>
<circle cx="470.66" cy="83.63" r="2.75" fill="#f00"/>
<circle cx="471.24" cy="81.93" r="2.75" fill="#f00"/>
<circle cx="471.83" cy="80.22" r="2.75" fill="#f00"/>
<circle cx="472.41" cy="78.52" r="2.75" fill="#f00"/>
<circle cx="472.98" cy="76.81" r="2.75" fill="#f00"/>
<circle cx="473.55" cy="75.1" r="2.75" fill="#f00"/>
<circle cx="474.1" cy="73.39" r="2.75" fill="#f00"/>
<circle cx="474.64" cy="71.67" r="2.75" fill="#f00"/>
<circle cx="475.16" cy="69.95" r="2.75" fill="#f00"/>
<circle cx="475.64" cy="68.22" r="2.75" fill="#f00"/>
<circle cx="476.1" cy="66.48" r="2.75" fill="#f00"/>
<circle cx="476.55" cy="64.73" r="2.75" fill="#f00"/>
<circle cx="477.01" cy="62.99" r="2.75" fill="#f00"/>
<circle cx="477.52" cy="61.27" r="2.75" fill="#f00"/>
<circle cx="478.09" cy="59.56" r="2.75" fill="#f00"/>
<circle cx="478.72" cy="57.87" r="2.75" fill="#f00"/>
<circle cx="479.39" cy="56.2" r="2.75" fill="#f00"/>
<circle cx="480.08" cy="54.54" r="2.75" fill="#f00"/>
<circle cx="480.76" cy="52.87" r="2.75" fill="#f00"/>
<circle cx="481.45" cy="51.21" r="2.75" fill="#f00"/>
<circle cx="482.16" cy="49.56" r="2.75" fill="#f00"/>
<circle cx="482.9" cy="47.92" r="2.75" fill="#f00"/>
<circle cx="483.67" cy="46.29" r="2.75" fill="#f00"/>
<circle cx="484.45" cy="44.67" r="2.75" fill="#f00"/>
<circle cx="485.28" cy="43.07" r="2.75" fill="#f00"/>
<circle cx="486.19" cy="41.52" r="2.75" fill="#f00"/>
<circle cx="487.25" cy="40.06" r="2.75" fill="#f00"/>
<circle cx="488.46" cy="38.73" r="2.75" fill="#f00"/>
<circle cx="489.87" cy="37.62" r="2.75" fill="#f00"/>
<circle cx="491.58" cy="37.08" r="2.75" fill="#f00"/>
<circle cx="493.36" cy="36.83" r="2.75" fill="#f00"/>
<circle cx="495.15" cy="36.92" r="2.75" fill="#f00"/>
<circle cx="496.9" cy="37.33" r="2.75" fill="#f00"/>
<circle cx="498.5" cy="38.14" r="2.75" fill="#f00"/>
<circle cx="499.83" cy="39.34" r="2.75" fill="#f00"/>
<circle cx="500.88" cy="40.8" r="2.75" fill="#f00"/>
<circle cx="501.67" cy="42.42" r="2.75" fill="#f00"/>
<circle cx="502.29" cy="44.11" r="2.75" fill="#f00"/>
<circle cx="502.81" cy="45.83" r="2.75" fill="#f00"/>
<circle cx="503.28" cy="47.57" r="2.75" fill="#f00"/>
<circle cx="503.68" cy="49.32" r="2.75" fill="#f00"/>
<circle cx="504.04" cy="51.09" r="2.75" fill="#f00"/>
<circle cx="504.38" cy="52.85" r="2.75" fill="#f00"/>
<circle cx="504.71" cy="54.62" r="2.75" fill="#f00"/>
<circle cx="505.02" cy="56.4" r="2.75" fill="#f00"/>
<circle cx="505.3" cy="58.17" r="2.75" fill="#f00"/>
<circle cx="505.58" cy="59.95" r="2.75" fill="#f00"/>
<circle cx="505.86" cy="61.73" r="2.75" fill="#f00"/>
<circle cx="506.11" cy="63.51" r="2.75" fill="#f00"/>
<circle cx="506.34" cy="65.3" r="2.75" fill="#f00"/>
<circle cx="506.56" cy="67.08" r="2.75" fill="#f00"/>
<circle cx="506.84" cy="68.86" r="2.75" fill="#f00"/>
<circle cx="507.62" cy="69.73" r="2.75" fill="#f00"/>
<circle cx="508.21" cy="68.03" r="2.75" fill="#f00"/>
<circle cx="508.72" cy="66.3" r="2.75" fill="#f00"/>
<circle cx="509.33" cy="64.61" r="2.75" fill="#f00"/>
<circle cx="509.94" cy="62.91" r="2.75" fill="#f00"/>
<circle cx="510.61" cy="61.25" r="2.75" fill="#f00"/>
<circle cx="511.56" cy="59.72" r="2.75" fill="#f00"/>
<circle cx="512.8" cy="58.42" r="2.75" fill="#f00"/>
<circle cx="667.9" cy="121.8" r="2.75" fill="#f00"/>
<circle cx="666.15" cy="121.5" r="2.75" fill="#f00"/>
<circle cx="664.45" cy="122.08" r="2.75" fill="#f00"/>
<circle cx="662.84" cy="122.9" r="2.75" fill="#f00"/>
<circle cx="661.34" cy="123.89" r="2.75" fill="#f00"/>
<circle cx="660.02" cy="125.11" r="2.75" fill="#f00"/>
<circle cx="658.82" cy="126.44" r="2.75" fill="#f00"/>
<circle cx="657.63" cy="127.8" r="2.75" fill="#f00"/>
<circle cx="656.4" cy="129.11" r="2.75" fill="#f00"/>
<circle cx="655.14" cy="130.4" r="2.75" fill="#f00"/>
<circle cx="653.87" cy="131.67" r="2.75" fill="#f00"/>
<circle cx="652.48" cy="132.81" r="2.75" fill="#f00"/>
<circle cx="650.93" cy="133.73" r="2.75" fill="#f00"/>
<circle cx="649.24" cy="134.33" r="2.75" fill="#f00"/>
<circle cx="647.45" cy="134.5" r="2.75" fill="#f00"/>
<circle cx="645.65" cy="134.38" r="2.75" fill="#f00"/>
<circle cx="643.88" cy="134.08" r="2.75" fill="#f00"/>
<circle cx="642.16" cy="133.55" r="2.75" fill="#f00"/>
<circle cx="640.58" cy="132.69" r="2.75" fill="#f00"/>
<circle cx="639.22" cy="131.52" r="2.75" fill="#f00"/>
<circle cx="638.05" cy="130.16" r="2.75" fill="#f00"/>
<circle cx="636.95" cy="128.73" r="2.75" fill="#f00"/>
<circle cx="635.91" cy="127.26" r="2.75" fill="#f00"/>
<circle cx="634.94" cy="125.75" r="2.75" fill="#f00"/>
<circle cx="634.03" cy="124.2" r="2.75" fill="#f00"/>
<circle cx="633.17" cy="122.61" r="2.75" fill="#f00"/>
<circle cx="632.36" cy="121.01" r="2.75" fill="#f00"/>
<circle cx="631.62" cy="119.37" r="2.75" fill="#f00"/>
<circle cx="630.92" cy="117.71" r="2.75" fill="#f00"/>
<circle cx="630.24" cy="116.04" r="2.75" fill="#f00"/>
<circle cx="629.57" cy="114.37" r="2.75" fill="#f00"/>
<circle cx="628.9" cy="112.7" r="2.75" fill="#f00"/>
<circle cx="628.2" cy="111.04" r="2.75" fill="#f00"/>
<circle cx="627.5" cy="109.39" r="2.75" fill="#f00"/>
<circle cx="626.78" cy="107.73" r="2.75" fill="#f00"/>
<circle cx="626.07" cy="106.08" r="2.75" fill="#f00"/>
<circle cx="625.35" cy="104.43" r="2.75" fill="#f00"/>
<circle cx="624.65" cy="102.77" r="2.75" fill="#f00"/>
<circle cx="623.96" cy="101.11" r="2.75" fill="#f00"/>
<circle cx="623.28" cy="99.44" r="2.75" fill="#f00"/>
<circle cx="622.61" cy="97.77" r="2.75" fill="#f00"/>
<circle cx="621.95" cy="96.1" r="2.75" fill="#f00"/>
<circle cx="621.3" cy="94.42" r="2.75" fill="#f00"/>
<circle cx="620.66" cy="92.74" r="2.75" fill="#f00"/>
<circle cx="620.02" cy="91.05" r="2.75" fill="#f00"/>
<circle cx="619.4" cy="89.37" r="2.75" fill="#f00"/>
<circle cx="618.78" cy="87.67" r="2.75" fill="#f00"/>
<circle cx="618.17" cy="85.98" r="2.75" fill="#f00"/>
<circle cx="617.57" cy="84.28" r="2.75" fill="#f00"/>
<circle cx="616.98" cy="82.58" r="2.75" fill="#f00"/>
<circle cx="616.4" cy="80.88" r="2.75" fill="#f00"/>
<circle cx="615.82" cy="79.18" r="2.75" fill="#f00"/>
<circle cx="615.24" cy="77.47" r="2.75" fill="#f00"/>
<circle cx="614.67" cy="75.76" r="2.75" fill="#f00"/>
<circle cx="614.11" cy="74.05" r="2.75" fill="#f00"/>
<circle cx="613.57" cy="72.34" r="2.75" fill="#f00"/>
<circle cx="613.04" cy="70.62" r="2.75" fill="#f00"/>
<circle cx="612.54" cy="68.89" r="2.75" fill="#f00"/>
<circle cx="612.07" cy="67.15" r="2.75" fill="#f00"/>
<circle cx="611.62" cy="65.4" r="2.75" fill="#f00"/>
<circle cx="611.17" cy="63.66" r="2.75" fill="#f00"/>
<circle cx="610.68" cy="61.93" r="2.75" fill="#f00"/>
<circle cx="610.14" cy="60.21" r="2.75" fill="#f00"/>
<circle cx="609.53" cy="58.52" r="2.75" fill="#f00"/>
<circle cx="608.87" cy="56.85" r="2.75" fill="#f00"/>
<circle cx="608.19" cy="55.18" r="2.75" fill="#f00"/>
<circle cx="607.5" cy="53.52" r="2.75" fill="#f00"/>
<circle cx="606.77" cy="51.87" r="2.75" fill="#f00"/>
<circle cx="606.01" cy="50.24" r="2.75" fill="#f00"/>
<circle cx="605.3" cy="48.58" r="2.75" fill="#f00"/>
<circle cx="604.72" cy="46.88" r="2.75" fill="#f00"/>
<circle cx="604.35" cy="45.12" r="2.75" fill="#f00"/>
<circle cx="604.05" cy="43.35" r="2.75" fill="#f00"/>
<circle cx="603.55" cy="41.62" r="2.75" fill="#f00"/>
<circle cx="602.61" cy="40.1" r="2.75" fill="#f00"/>
<circle cx="601.36" cy="38.8" r="2.75" fill="#f00"/>
<circle cx="599.95" cy="37.69" r="2.75" fill="#f00"/>
<circle cx="598.26" cy="37.1" r="2.75" fill="#f00"/>
<circle cx="596.48" cy="36.81" r="2.75" fill="#f00"/>
<circle cx="594.69" cy="36.9" r="2.75" fill="#f00"/>
<circle cx="592.99" cy="37.48" r="2.75" fill="#f00"/>
<circle cx="591.42" cy="38.35" r="2.75" fill="#f00"/>
<circle cx="590.02" cy="39.47" r="2.75" fill="#f00"/>
<circle cx="588.88" cy="40.87" r="2.75" fill="#f00"/>
<circle cx="588.02" cy="42.44" r="2.75" fill="#f00"/>
<circle cx="587.29" cy="44.09" r="2.75" fill="#f00"/>
<circle cx="586.64" cy="45.77" r="2.75" fill="#f00"/>
<circle cx="586.06" cy="47.47" r="2.75" fill="#f00"/>
<circle cx="585.57" cy="49.2" r="2.75" fill="#f00"/>
<circle cx="585.18" cy="50.96" r="2.75" fill="#f00"/>
<circle cx="584.83" cy="52.73" r="2.75" fill="#f00"/>
<circle cx="584.5" cy="54.5" r="2.75" fill="#f00"/>
<circle cx="584.14" cy="56.26" r="2.75" fill="#f00"/>
<circle cx="583.79" cy="58.02" r="2.75" fill="#f00"/>
<circle cx="583.44" cy="59.79" r="2.75" fill="#f00"/>
<circle cx="583.09" cy="61.56" r="2.75" fill="#f00"/>
<circle cx="582.75" cy="63.32" r="2.75" fill="#f00"/>
<circle cx="582.41" cy="65.09" r="2.75" fill="#f00"/>
<circle cx="582.12" cy="66.87" r="2.75" fill="#f00"/>
<circle cx="581.85" cy="68.65" r="2.75" fill="#f00"/>
<circle cx="581.57" cy="70.43" r="2.75" fill="#f00"/>
<circle cx="581.27" cy="72.2" r="2.75" fill="#f00"/>
<circle cx="580.82" cy="73.94" r="2.75" fill="#f00"/>
<circle cx="579.81" cy="73.33" r="2.75" fill="#f00"/>
<circle cx="579.3" cy="71.6" r="2.75" fill="#f00"/>
<circle cx="578.93" cy="69.84" r="2.75" fill="#f00"/>
<circle cx="578.77" cy="68.05" r="2.75" fill="#f00"/>
<circle cx="578.76" cy="66.25" r="2.75" fill="#f00"/>
<circle cx="578.76" cy="64.45" r="2.75" fill="#f00"/>
<circle cx="578.69" cy="62.65" r="2.75" fill="#f00"/>
<circle cx="578.27" cy="60.91" r="2.75" fill="#f00"/>
<circle cx="577.13" cy="59.54" r="2.75" fill="#f00"/>
<circle cx="418.8" cy="208.7" r="2.75" fill="#f00"/>
<circle cx="418.8" cy="187.7" r="2.75" fill="#f00"/>
<circle cx="419.4" cy="167.5" r="2.75" fill="#f00"/>
<circle cx="419.8" cy="145.9" r="2.75" fill="#f00"/>
<circle cx="420.4" cy="127.8" r="2.75" fill="#f00"/>
<circle cx="666.8" cy="127.8" r="2.75" fill="#f00"/>
<circle cx="667" cy="135.1" r="2.75" fill="#f00"/>
<circle cx="667.2" cy="141.9" r="2.75" fill="#f00"/>
<circle cx="667.4" cy="149.4" r="2.75" fill="#f00"/>
<circle cx="667.6" cy="156.7" r="2.75" fill="#f00"/>
<circle cx="668" cy="166.5" r="2.75" fill="#f00"/>
<circle cx="668.6" cy="186.1" r="2.75" fill="#f00"/>
<circle cx="669" cy="207.7" r="2.75" fill="#f00"/>
<path d="M417.45 122.97L424.15 122.97L420.8 117.37Z" fill="#00f"/>
<path d="M419.13 122.39L425.83 122.39L422.48 116.79Z" fill="#00f"/>
<path d="M420.85 122.9L427.55 122.9L424.2 117.3Z" fill="#00f"/>
<path d="M422.45 123.72L429.15 123.72L425.8 118.12Z" fill="#00f"/>
<path d="M423.95 124.71L430.65 124.71L427.3 119.11Z" fill="#00f"/>
<path d="M425.28 125.92L431.98 125.92L428.63 120.32Z" fill="#00f"/>
<path d="M426.48 127.26L433.18 127.26L429.83 121.66Z" fill="#00f"/>
<path d="M427.66 128.62L434.36 128.62L431.01 123.02Z" fill="#00f"/>
<path d="M428.91 129.92L435.61 129.92L432.26 124.32Z" fill="#00f"/>
<path d="M430.19 131.19L436.89 131.19L433.54 125.59Z" fill="#00f"/>
<path d="M431.5 132.42L438.2 132.42L434.85 126.82Z" fill="#00f"/>
<path d="M432.92 133.52L439.62 133.52L436.27 127.92Z" fill="#00f"/>
<path d="M434.49 134.4L441.19 134.4L437.84 128.8Z" fill="#00f"/>
<path d="M436.18 135.01L442.88 135.01L439.53 129.41Z" fill="#00f"/>
<path d="M437.97 135.16L444.67 135.16L441.32 129.56Z" fill="#00f"/>
<path d="M439.76 134.97L446.46 134.97L443.11 129.37Z" fill="#00f"/>
<path d="M441.49 134.49L448.19 134.49L444.84 128.89Z" fill="#00f"/>
<path d="M443.12 133.74L449.82 133.74L446.47 128.14Z" fill="#00f"/>
<path d="M444.61 132.73L451.31 132.73L447.96 127.13Z" fill="#00f"/>
<path d="M445.99 131.58L452.69 131.58L449.34 125.98Z" fill="#00f"/>
<path d="M447.29 130.33L453.99 130.33L450.64 124.73Z" fill="#00f"/>
<path d="M448.54 129.03L455.24 129.03L451.89 123.43Z" fill="#00f"/>
<path d="M449.73 127.69L456.43 127.69L453.08 122.09Z" fill="#00f"/>
<path d="M450.87 126.29L457.57 126.29L454.22 120.69Z" fill="#00f"/>
<path d="M451.95 124.85L458.65 124.85L455.3 119.25Z" fill="#00f"/>
<path d="M452.98 123.38L459.68 123.38L456.33 117.78Z" fill="#00f"/>
<path d="M453.96 121.87L460.66 121.87L457.31 116.27Z" fill="#00f"/>
<path d="M454.89 120.32L461.59 120.32L458.24 114.72Z" fill="#00f"/>
<path d="M455.75 118.74L462.45 118.74L459.1 113.14Z" fill="#00f"/>
<path d="M456.57 117.14L463.27 117.14L459.92 111.54Z" fill="#00f"/>
<path d="M457.35 115.52L464.05 115.52L460.7 109.92Z" fill="#00f"/>
<path d="M458.11 113.89L464.81 113.89L461.46 108.29Z" fill="#00f"/>
<path d="M458.85 112.25L465.55 112.25L462.2 106.65Z" fill="#00f"/>
<path d="M459.57 110.6L466.27 110.6L462.92 105Z" fill="#00f"/>
<path d="M460.27 108.94L466.97 108.94L463.62 103.34Z" fill="#00f"/>
<path d="M460.96 107.28L467.66 107.28L464.31 101.68Z" fill="#00f"/>
<path d="M461.64 105.61L468.34 105.61L464.99 100.01Z" fill="#00f"/>
<path d="M462.3 103.94L469 103.94L465.65 98.34Z" fill="#00f"/>
<path d="M462.97 102.26L469.67 102.26L466.32 96.66Z" fill="#00f"/>
<path d="M463.62 100.59L470.32 100.59L466.97 94.99Z" fill="#00f"/>
<path d="M464.26 98.9L470.96 98.9L467.61 93.3Z" fill="#00f"/>
<path d="M464.89 97.22L471.59 97.22L468.24 91.62Z" fill="#00f"/>
<path d="M465.5 95.53L472.2 95.53L468.85 89.93Z" fill="#00f"/>
<path d="M466.11 93.83L472.81 93.83L469.46 88.23Z" fill="#00f"/>
<path d="M466.71 92.13L473.41 92.13L470.06 86.53Z" fill="#00f"/>
<path d="M467.29 90.43L473.99 90.43L470.64 84.83Z" fill="#00f"/>
<path d="M467.86 88.72L474.56 88.72L471.21 83.12Z" fill="#00f"/>
<path d="M468.42 87.01L475.12 87.01L471.77 81.41Z" fill="#00f"/>
<path d="M468.97 85.3L475.67 85.3L472.32 79.7Z" fill="#00f"/>
<path d="M469.51 83.58L476.21 83.58L472.86 77.98Z" fill="#00f"/>
<path d="M470.03 81.86L476.73 81.86L473.38 76.26Z" fill="#00f"/>
<path d="M470.55 80.13L477.25 80.13L473.9 74.53Z" fill="#00f"/>
<path d="M471.05 78.41L477.75 78.41L474.4 72.81Z" fill="#00f"/>
<path d="M471.54 76.67L478.24 76.67L474.89 71.07Z" fill="#00f"/>
<path d="M472.02 74.94L478.72 74.94L475.37 69.34Z" fill="#00f"/>
<path d="M472.49 73.2L479.19 73.2L475.84 67.6Z" fill="#00f"/>
<path d="M472.95 71.46L479.65 71.46L476.3 65.86Z" fill="#00f"/>
<path d="M473.39 69.72L480.09 69.72L476.74 64.12Z" fill="#00f"/>
<path d="M473.81 67.96L480.51 67.96L477.16 62.36Z" fill="#00f"/>
<path d="M474.21 66.21L480.91 66.21L477.56 60.61Z" fill="#00f"/>
<path d="M474.63 64.46L481.33 64.46L477.98 58.86Z" fill="#00f"/>
<path d="M475.06 62.71L481.76 62.71L478.41 57.11Z" fill="#00f"/>
<path d="M475.53 60.97L482.23 60.97L478.88 55.37Z" fill="#00f"/>
<path d="M476.02 59.24L482.72 59.24L479.37 53.64Z" fill="#00f"/>
<path d="M476.54 57.52L483.24 57.52L479.89 51.92Z" fill="#00f"/>
<path d="M477.07 55.8L483.77 55.8L480.42 50.2Z" fill="#00f"/>
<path d="M477.6 54.08L484.3 54.08L480.95 48.48Z" fill="#00f"/>
<path d="M478.14 52.36L484.84 52.36L481.49 46.76Z" fill="#00f"/>
<path d="M478.7 50.65L485.4 50.65L482.05 45.05Z" fill="#00f"/>
<path d="M479.27 48.95L485.97 48.95L482.62 43.35Z" fill="#00f"/>
<path d="M479.88 47.25L486.58 47.25L483.23 41.65Z" fill="#00f"/>
<path d="M480.51 45.57L487.21 45.57L483.86 39.97Z" fill="#00f"/>
<path d="M481.16 43.89L487.86 43.89L484.51 38.29Z" fill="#00f"/>
<path d="M481.85 42.22L488.55 42.22L485.2 36.62Z" fill="#00f"/>
<path d="M482.62 40.6L489.32 40.6L485.97 35Z" fill="#00f"/>
<path d="M483.54 39.05L490.24 39.05L486.89 33.45Z" fill="#00f"/>
<path d="M484.62 37.61L491.32 37.61L487.97 32.01Z" fill="#00f"/>
<path d="M485.88 36.33L492.58 36.33L489.23 30.73Z" fill="#00f"/>
<path d="M487.4 35.38L494.1 35.38L490.75 29.78Z" fill="#00f"/>
<path d="M489.15 34.99L495.85 34.99L492.5 29.39Z" fill="#00f"/>
<path d="M490.95 35.04L497.65 35.04L494.3 29.44Z" fill="#00f"/>
<path d="M492.7 35.42L499.4 35.42L496.05 29.82Z" fill="#00f"/>
<path d="M494.37 36.08L501.07 36.08L497.72 30.48Z" fill="#00f"/>
<path d="M495.78 37.2L502.48 37.2L499.13 31.6Z" fill="#00f"/>
<path d="M496.91 38.59L503.61 38.59L500.26 32.99Z" fill="#00f"/>
<path d="M497.79 40.16L504.49 40.16L501.14 34.56Z" fill="#00f"/>
<path d="M498.46 41.83L505.16 41.83L501.81 36.23Z" fill="#00f"/>
<path d="M499.01 43.55L505.71 43.55L502.36 37.95Z" fill="#00f"/>
<path d="M499.49 45.28L506.19 45.28L502.84 39.68Z" fill="#00f"/>
<path d="M499.94 47.03L506.64 47.03L503.29 41.43Z" fill="#00f"/>
<path d="M500.32 48.78L507.02 48.78L503.67 43.18Z" fill="#00f"/>
<path d="M500.68 50.55L507.38 50.55L504.03 44.95Z" fill="#00f"/>
<path d="M501.02 52.32L507.72 52.32L504.37 46.72Z" fill="#00f"/>
<path d="M501.35 54.09L508.05 54.09L504.7 48.49Z" fill="#00f"/>
<path d="M501.66 55.86L508.36 55.86L505.01 50.26Z" fill="#00f"/>
<path d="M501.95 57.63L508.65 57.63L505.3 52.03Z" fill="#00f"/>
<path d="M502.24 59.41L508.94 59.41L505.59 53.81Z" fill="#00f"/>
<path d="M502.54 61.19L509.24 61.19L505.89 55.59Z" fill="#00f"/>
<path d="M502.8 62.97L509.5 62.97L506.15 57.37Z" fill="#00f"/>
<path d="M503.04 64.75L509.74 64.75L506.39 59.15Z" fill="#00f"/>
<path d="M503.29 66.53L509.99 66.53L506.64 60.93Z" fill="#00f"/>
<path d="M503.67 68.29L510.37 68.29L507.02 62.69Z" fill="#00f"/>
<path d="M504.56 67.65L511.26 67.65L507.91 62.05Z" fill="#00f"/>
<path d="M505.1 65.93L511.8 65.93L508.45 60.33Z" fill="#00f"/>
<path d="M505.71 64.24L512.41 64.24L509.06 58.64Z" fill="#00f"/>
<path d="M506.46 62.6L513.16 62.6L509.81 57Z" fill="#00f"/>
<path d="M507.32 61.02L514.02 61.02L510.67 55.42Z" fill="#00f"/>
<path d="M508.57 59.74L515.27 59.74L511.92 54.14Z" fill="#00f"/>
<path d="M510.09 58.79L516.79 58.79L513.44 53.19Z" fill="#00f"/>
<path d="M664.55 122.97L671.25 122.97L667.9 117.37Z" fill="#00f"/>
<path d="M662.87 122.39L669.57 122.39L666.22 116.79Z" fill="#00f"/>
<path d="M661.15 122.9L667.85 122.9L664.5 117.3Z" fill="#00f"/>
<path d="M659.55 123.72L666.25 123.72L662.9 118.12Z" fill="#00f"/>
<path d="M658.05 124.71L664.75 124.71L661.4 119.11Z" fill="#00f"/>
<path d="M656.72 125.92L663.42 125.92L660.07 120.32Z" fill="#00f"/>
<path d="M655.52 127.26L662.22 127.26L658.87 121.66Z" fill="#00f"/>
<path d="M654.34 128.62L661.04 128.62L657.69 123.02Z" fill="#00f"/>
<path d="M653.09 129.92L659.79 129.92L656.44 124.32Z" fill="#00f"/>
<path d="M651.81 131.19L658.51 131.19L655.16 125.59Z" fill="#00f"/>
<path d="M650.5 132.42L657.2 132.42L653.85 126.82Z" fill="#00f"/>
<path d="M649.08 133.52L655.78 133.52L652.43 127.92Z" fill="#00f"/>
<path d="M647.51 134.41L654.21 134.41L650.86 128.81Z" fill="#00f"/>
<path d="M645.82 135.01L652.52 135.01L649.17 129.41Z" fill="#00f"/>
<path d="M644.03 135.16L650.73 135.16L647.38 129.56Z" fill="#00f"/>
<path d="M642.24 134.98L648.94 134.98L645.59 129.38Z" fill="#00f"/>
<path d="M640.5 134.54L647.2 134.54L643.85 128.94Z" fill="#00f"/>
<path d="M638.85 133.83L645.55 133.83L642.2 128.23Z" fill="#00f"/>
<path d="M637.34 132.86L644.04 132.86L640.69 127.26Z" fill="#00f"/>
<path d="M635.95 131.71L642.65 131.71L639.3 126.11Z" fill="#00f"/>
<path d="M634.64 130.47L641.34 130.47L637.99 124.87Z" fill="#00f"/>
<path d="M633.4 129.17L640.1 129.17L636.75 123.57Z" fill="#00f"/>
<path d="M632.19 127.84L638.89 127.84L635.54 122.24Z" fill="#00f"/>
<path d="M631.05 126.45L637.75 126.45L634.4 120.85Z" fill="#00f"/>
<path d="M629.96 125.01L636.66 125.01L633.31 119.41Z" fill="#00f"/>
<path d="M628.93 123.54L635.63 123.54L632.28 117.94Z" fill="#00f"/>
<path d="M627.94 122.03L634.64 122.03L631.29 116.43Z" fill="#00f"/>
<path d="M627.01 120.49L633.71 120.49L630.36 114.89Z" fill="#00f"/>
<path d="M626.14 118.92L632.84 118.92L629.49 113.32Z" fill="#00f"/>
<path d="M625.32 117.32L632.02 117.32L628.67 111.72Z" fill="#00f"/>
<path d="M624.53 115.7L631.23 115.7L627.88 110.1Z" fill="#00f"/>
<path d="M623.77 114.07L630.47 114.07L627.12 108.47Z" fill="#00f"/>
<path d="M623.02 112.43L629.72 112.43L626.37 106.83Z" fill="#00f"/>
<path d="M622.3 110.78L629 110.78L625.65 105.18Z" fill="#00f"/>
<path d="M621.6 109.12L628.3 109.12L624.95 103.52Z" fill="#00f"/>
<path d="M620.91 107.46L627.61 107.46L624.26 101.86Z" fill="#00f"/>
<path d="M620.24 105.79L626.94 105.79L623.59 100.19Z" fill="#00f"/>
<path d="M619.57 104.12L626.27 104.12L622.92 98.52Z" fill="#00f"/>
<path d="M618.91 102.45L625.61 102.45L622.26 96.85Z" fill="#00f"/>
<path d="M618.25 100.77L624.95 100.77L621.6 95.17Z" fill="#00f"/>
<path d="M617.61 99.09L624.31 99.09L620.96 93.49Z" fill="#00f"/>
<path d="M616.98 97.4L623.68 97.4L620.33 91.8Z" fill="#00f"/>
<path d="M616.36 95.71L623.06 95.71L619.71 90.11Z" fill="#00f"/>
<path d="M615.75 94.02L622.45 94.02L619.1 88.42Z" fill="#00f"/>
<path d="M615.16 92.32L621.86 92.32L618.51 86.72Z" fill="#00f"/>
<path d="M614.57 90.61L621.27 90.61L617.92 85.01Z" fill="#00f"/>
<path d="M614 88.91L620.7 88.91L617.35 83.31Z" fill="#00f"/>
<path d="M613.44 87.2L620.14 87.2L616.79 81.6Z" fill="#00f"/>
<path d="M612.89 85.48L619.59 85.48L616.24 79.88Z" fill="#00f"/>
<path d="M612.35 83.77L619.05 83.77L615.7 78.17Z" fill="#00f"/>
<path d="M611.82 82.05L618.52 82.05L615.17 76.45Z" fill="#00f"/>
<path d="M611.31 80.32L618.01 80.32L614.66 74.72Z" fill="#00f"/>
<path d="M610.8 78.59L617.5 78.59L614.15 72.99Z" fill="#00f"/>
<path d="M610.31 76.86L617.01 76.86L613.66 71.26Z" fill="#00f"/>
<path d="M609.83 75.13L616.53 75.13L613.18 69.53Z" fill="#00f"/>
<path d="M609.36 73.39L616.06 73.39L612.71 67.79Z" fill="#00f"/>
<path d="M608.89 71.65L615.59 71.65L612.24 66.05Z" fill="#00f"/>
<path d="M608.45 69.91L615.15 69.91L611.8 64.31Z" fill="#00f"/>
<path d="M608.04 68.15L614.74 68.15L611.39 62.55Z" fill="#00f"/>
<path d="M607.63 66.4L614.33 66.4L610.98 60.8Z" fill="#00f"/>
<path d="M607.22 64.65L613.92 64.65L610.57 59.05Z" fill="#00f"/>
<path d="M606.79 62.9L613.49 62.9L610.14 57.3Z" fill="#00f"/>
<path d="M606.32 61.16L613.02 61.16L609.67 55.56Z" fill="#00f"/>
<path d="M605.83 59.43L612.53 59.43L609.18 53.83Z" fill="#00f"/>
<path d="M605.32 57.7L612.02 57.7L608.67 52.1Z" fill="#00f"/>
<path d="M604.79 55.98L611.49 55.98L608.14 50.38Z" fill="#00f"/>
<path d="M604.25 54.27L610.95 54.27L607.6 48.67Z" fill="#00f"/>
<path d="M603.69 52.56L610.39 52.56L607.04 46.96Z" fill="#00f"/>
<path d="M603.1 50.86L609.8 50.86L606.45 45.26Z" fill="#00f"/>
<path d="M602.51 49.16L609.21 49.16L605.86 43.56Z" fill="#00f"/>
<path d="M601.96 47.44L608.66 47.44L605.31 41.84Z" fill="#00f"/>
<path d="M601.5 45.7L608.2 45.7L604.85 40.1Z" fill="#00f"/>
<path d="M601.14 43.94L607.84 43.94L604.49 38.34Z" fill="#00f"/>
<path d="M600.78 42.18L607.48 42.18L604.13 36.58Z" fill="#00f"/>
<path d="M600.26 40.45L606.96 40.45L603.61 34.85Z" fill="#00f"/>
<path d="M599.42 38.86L606.12 38.86L602.77 33.26Z" fill="#00f"/>
<path d="M598.3 37.46L605 37.46L601.65 31.86Z" fill="#00f"/>
<path d="M597 36.22L603.7 36.22L600.35 30.62Z" fill="#00f"/>
<path d="M595.45 35.33L602.15 35.33L598.8 29.73Z" fill="#00f"/>
<path d="M593.69 34.97L600.39 34.97L597.04 29.37Z" fill="#00f"/>
<path d="M591.9 35.04L598.6 35.04L595.25 29.44Z" fill="#00f"/>
<path d="M590.19 35.59L596.89 35.59L593.54 29.99Z" fill="#00f"/>
<path d="M588.59 36.42L595.29 36.42L591.94 30.82Z" fill="#00f"/>
<path d="M587.19 37.55L593.89 37.55L590.54 31.95Z" fill="#00f"/>
<path d="M586.02 38.91L592.72 38.91L589.37 33.31Z" fill="#00f"/>
<path d="M585.11 40.46L591.81 40.46L588.46 34.86Z" fill="#00f"/>
<path d="M584.37 42.1L591.07 42.1L587.72 36.5Z" fill="#00f"/>
<path d="M583.72 43.78L590.42 43.78L587.07 38.18Z" fill="#00f"/>
<path d="M583.13 45.48L589.83 45.48L586.48 39.88Z" fill="#00f"/>
<path d="M582.6 47.2L589.3 47.2L585.95 41.6Z" fill="#00f"/>
<path d="M582.15 48.94L588.85 48.94L585.5 43.34Z" fill="#00f"/>
<path d="M581.78 50.7L588.48 50.7L585.13 45.1Z" fill="#00f"/>
<path d="M581.45 52.47L588.15 52.47L584.8 46.87Z" fill="#00f"/>
<path d="M581.12 54.24L587.82 54.24L584.47 48.64Z" fill="#00f"/>
<path d="M580.76 56L587.46 56L584.11 50.4Z" fill="#00f"/>
<path d="M580.4 57.77L587.1 57.77L583.75 52.17Z" fill="#00f"/>
<path d="M580.04 59.53L586.74 59.53L583.39 53.93Z" fill="#00f"/>
<path d="M579.68 61.3L586.38 61.3L583.03 55.7Z" fill="#00f"/>
<path d="M579.32 63.06L586.02 63.06L582.67 57.46Z" fill="#00f"/>
<path d="M578.96 64.82L585.66 64.82L582.31 59.22Z" fill="#00f"/>
<path d="M578.64 66.59L585.34 66.59L581.99 60.99Z" fill="#00f"/>
<path d="M578.33 68.37L585.03 68.37L581.68 62.77Z" fill="#00f"/>
<path d="M577.98 70.13L584.68 70.13L581.33 64.53Z" fill="#00f"/>
<path d="M577.47 71.85L584.17 71.85L580.82 66.25Z" fill="#00f"/>
<path d="M576.45 71.05L583.15 71.05L579.8 65.45Z" fill="#00f"/>
<path d="M575.92 69.33L582.62 69.33L579.27 63.73Z" fill="#00f"/>
<path d="M575.52 67.57L582.22 67.57L578.87 61.97Z" fill="#00f"/>
<path d="M575.4 65.78L582.1 65.78L578.75 60.18Z" fill="#00f"/>
<path d="M575.41 63.98L582.11 63.98L578.76 58.38Z" fill="#00f"/>
<path d="M575.3 62.19L582 62.19L578.65 56.59Z" fill="#00f"/>
<path d="M574.46 60.65L581.16 60.65L577.81 55.05Z" fill="#00f"/>
<path d="M572.87 59.81L579.57 59.81L576.22 54.21Z" fill="#00f"/>
<path d="M415.45 210.07L422.15 210.07L418.8 204.47Z" fill="#00f"/>
<path d="M415.45 189.07L422.15 189.07L418.8 183.47Z" fill="#00f"/>
<path d="M416.05 168.87L422.75 168.87L419.4 163.27Z" fill="#00f"/>
<path d="M416.45 147.27L423.15 147.27L419.8 141.67Z" fill="#00f"/>
<path d="M417.05 129.17L423.75 129.17L420.4 123.57Z" fill="#00f"/>
<path d="M663.45 129.17L670.15 129.17L666.8 123.57Z" fill="#00f"/>
<path d="M663.65 136.47L670.35 136.47L667 130.87Z" fill="#00f"/>
<path d="M663.85 143.27L670.55 143.27L667.2 137.67Z" fill="#00f"/>
<path d="M664.05 150.77L670.75 150.77L667.4 145.17Z" fill="#00f"/>
<path d="M664.25 158.07L670.95 158.07L667.6 152.47Z" fill="#00f"/>
<path d="M664.65 167.87L671.35 167.87L668 162.27Z" fill="#00f"/>
<path d="M665.25 187.47L671.95 187.47L668.6 181.87Z" fill="#00f"/>
<path d="M665.65 209.07L672.35 209.07L669 203.47Z" fill="#00f"/>
<path d="M417.45 118.43L424.15 118.43L420.8 124.03Z" fill="#008080"/>
<path d="M419.08 117.72L425.78 117.72L422.43 123.32Z" fill="#008080"/>
<path d="M420.84 118.04L427.54 118.04L424.19 123.64Z" fill="#008080"/>
<path d="M422.51 118.7L429.21 118.7L425.86 124.3Z" fill="#008080"/>
<path d="M424.08 119.59L430.78 119.59L427.43 125.19Z" fill="#008080"/>
<path d="M425.47 120.73L432.17 120.73L428.82 126.33Z" fill="#008080"/>
<path d="M426.74 122L433.44 122L430.09 127.6Z" fill="#008080"/>
<path d="M427.99 123.3L434.69 123.3L431.34 128.9Z" fill="#008080"/>
<path d="M429.29 124.54L435.99 124.54L432.64 130.14Z" fill="#008080"/>
<path d="M430.58 125.79L437.28 125.79L433.93 131.39Z" fill="#008080"/>
<path d="M431.91 127.01L438.61 127.01L435.26 132.61Z" fill="#008080"/>
<path d="M433.36 128.07L440.06 128.07L436.71 133.67Z" fill="#008080"/>
<path d="M434.94 128.94L441.64 128.94L438.29 134.54Z" fill="#008080"/>
<path d="M436.64 129.51L443.34 129.51L439.99 135.11Z" fill="#008080"/>
<path d="M438.43 129.62L445.13 129.62L441.78 135.22Z" fill="#008080"/>
<path d="M440.21 129.38L446.91 129.38L443.56 134.98Z" fill="#008080"/>
<path d="M441.94 128.88L448.64 128.88L445.29 134.48Z" fill="#008080"/>
<path d="M443.59 128.16L450.29 128.16L446.94 133.76Z" fill="#008080"/>
<path d="M445.11 127.21L451.81 127.21L448.46 132.81Z" fill="#008080"/>
<path d="M446.52 126.09L453.22 126.09L449.87 131.69Z" fill="#008080"/>
<path d="M447.83 124.86L454.53 124.86L451.18 130.46Z" fill="#008080"/>
<path d="M449.07 123.55L455.77 123.55L452.42 129.15Z" fill="#008080"/>
<path d="M450.23 122.17L456.93 122.17L453.58 127.77Z" fill="#008080"/>
<path d="M451.32 120.74L458.02 120.74L454.67 126.34Z" fill="#008080"/>
<path d="M452.34 119.26L459.04 119.26L455.69 124.86Z" fill="#008080"/>
<path d="M453.29 117.73L459.99 117.73L456.64 123.33Z" fill="#008080"/>
<path d="M454.16 116.15L460.86 116.15L457.51 121.75Z" fill="#008080"/>
<path d="M454.97 114.55L461.67 114.55L458.32 120.15Z" fill="#008080"/>
<path d="M455.75 112.92L462.45 112.92L459.1 118.52Z" fill="#008080"/>
<path d="M456.5 111.29L463.2 111.29L459.85 116.89Z" fill="#008080"/>
<path d="M457.24 109.65L463.94 109.65L460.59 115.25Z" fill="#008080"/>
<path d="M457.98 108.01L464.68 108.01L461.33 113.61Z" fill="#008080"/>
<path d="M458.7 106.36L465.4 106.36L462.05 111.96Z" fill="#008080"/>
<path d="M459.41 104.7L466.11 104.7L462.76 110.3Z" fill="#008080"/>
<path d="M460.11 103.05L466.81 103.05L463.46 108.65Z" fill="#008080"/>
<path d="M460.81 101.38L467.51 101.38L464.16 106.98Z" fill="#008080"/>
<path d="M461.49 99.72L468.19 99.72L464.84 105.32Z" fill="#008080"/>
<path d="M462.17 98.05L468.87 98.05L465.52 103.65Z" fill="#008080"/>
<path d="M462.84 96.38L469.54 96.38L466.19 101.98Z" fill="#008080"/>
<path d="M463.51 94.71L470.21 94.71L466.86 100.31Z" fill="#008080"/>
<path d="M464.16 93.03L470.86 93.03L467.51 98.63Z" fill="#008080"/>
<path d="M464.81 91.35L471.51 91.35L468.16 96.95Z" fill="#008080"/>
<path d="M465.45 89.67L472.15 89.67L468.8 95.27Z" fill="#008080"/>
<path d="M466.08 87.98L472.78 87.98L469.43 93.58Z" fill="#008080"/>
<path d="M466.7 86.3L473.4 86.3L470.05 91.9Z" fill="#008080"/>
<path d="M467.31 84.6L474.01 84.6L470.66 90.2Z" fill="#008080"/>
<path d="M467.92 82.91L474.62 82.91L471.27 88.51Z" fill="#008080"/>
<path d="M468.51 81.21L475.21 81.21L471.86 86.81Z" fill="#008080"/>
<path d="M469.09 79.5L475.79 79.5L472.44 85.1Z" fill="#008080"/>
<path d="M469.66 77.8L476.36 77.8L473.01 83.4Z" fill="#008080"/>
<path d="M470.22 76.09L476.92 76.09L473.57 81.69Z" fill="#008080"/>
<path d="M470.77 74.37L477.47 74.37L474.12 79.97Z" fill="#008080"/>
<path d="M471.31 72.65L478.01 72.65L474.66 78.25Z" fill="#008080"/>
<path d="M471.83 70.93L478.53 70.93L475.18 76.53Z" fill="#008080"/>
<path d="M472.34 69.21L479.04 69.21L475.69 74.81Z" fill="#008080"/>
<path d="M472.83 67.47L479.53 67.47L476.18 73.07Z" fill="#008080"/>
<path d="M473.29 65.73L479.99 65.73L476.64 71.33Z" fill="#008080"/>
<path d="M473.72 63.99L480.42 63.99L477.07 69.59Z" fill="#008080"/>
<path d="M474.15 62.24L480.85 62.24L477.5 67.84Z" fill="#008080"/>
<path d="M474.56 60.49L481.26 60.49L477.91 66.09Z" fill="#008080"/>
<path d="M475 58.74L481.7 58.74L478.35 64.34Z" fill="#008080"/>
<path d="M475.45 57L482.15 57L478.8 62.6Z" fill="#008080"/>
<path d="M475.91 55.26L482.61 55.26L479.26 60.86Z" fill="#008080"/>
<path d="M476.37 53.52L483.07 53.52L479.72 59.12Z" fill="#008080"/>
<path d="M476.85 51.78L483.55 51.78L480.2 57.38Z" fill="#008080"/>
<path d="M477.33 50.05L484.03 50.05L480.68 55.65Z" fill="#008080"/>
<path d="M477.82 48.32L484.52 48.32L481.17 53.92Z" fill="#008080"/>
<path d="M478.31 46.58L485.01 46.58L481.66 52.18Z" fill="#008080"/>
<path d="M478.81 44.85L485.51 44.85L482.16 50.45Z" fill="#008080"/>
<path d="M479.32 43.13L486.02 43.13L482.67 48.73Z" fill="#008080"/>
<path d="M479.86 41.41L486.56 41.41L483.21 47.01Z" fill="#008080"/>
<path d="M480.42 39.7L487.12 39.7L483.77 45.3Z" fill="#008080"/>
<path d="M480.98 37.99L487.68 37.99L484.33 43.59Z" fill="#008080"/>
<path d="M481.57 36.29L488.27 36.29L484.92 41.89Z" fill="#008080"/>
<path d="M482.21 34.61L488.91 34.61L485.56 40.21Z" fill="#008080"/>
<path d="M482.94 32.96L489.64 32.96L486.29 38.56Z" fill="#008080"/>
<path d="M483.81 31.39L490.51 31.39L487.16 36.99Z" fill="#008080"/>
<path d="M484.84 29.91L491.54 29.91L488.19 35.51Z" fill="#008080"/>
<path d="M486.03 28.56L492.73 28.56L489.38 34.16Z" fill="#008080"/>
<path d="M487.47 27.51L494.17 27.51L490.82 33.11Z" fill="#008080"/>
<path d="M489.21 27.06L495.91 27.06L492.56 32.66Z" fill="#008080"/>
<path d="M490.99 27.25L497.69 27.25L494.34 32.85Z" fill="#008080"/>
<path d="M492.7 27.79L499.4 27.79L496.05 33.39Z" fill="#008080"/>
<path d="M494.3 28.61L501 28.61L497.65 34.21Z" fill="#008080"/>
<path d="M495.61 29.83L502.31 29.83L498.96 35.43Z" fill="#008080"/>
<path d="M496.68 31.29L503.38 31.29L500.03 36.89Z" fill="#008080"/>
<path d="M497.53 32.87L504.23 32.87L500.88 38.47Z" fill="#008080"/>
<path d="M498.2 34.54L504.9 34.54L501.55 40.14Z" fill="#008080"/>
<path d="M498.75 36.25L505.45 36.25L502.1 41.85Z" fill="#008080"/>
<path d="M499.23 37.99L505.93 37.99L502.58 43.59Z" fill="#008080"/>
<path d="M499.67 39.73L506.37 39.73L503.02 45.33Z" fill="#008080"/>
<path d="M500.07 41.49L506.77 41.49L503.42 47.09Z" fill="#008080"/>
<path d="M500.43 43.25L507.13 43.25L503.78 48.85Z" fill="#008080"/>
<path d="M500.77 45.02L507.47 45.02L504.12 50.62Z" fill="#008080"/>
<path d="M501.09 46.79L507.79 46.79L504.44 52.39Z" fill="#008080"/>
<path d="M501.42 48.56L508.12 48.56L504.77 54.16Z" fill="#008080"/>
<path d="M501.72 50.33L508.42 50.33L505.07 55.93Z" fill="#008080"/>
<path d="M502.02 52.11L508.72 52.11L505.37 57.71Z" fill="#008080"/>
<path d="M502.31 53.89L509.01 53.89L505.66 59.49Z" fill="#008080"/>
<path d="M502.6 55.66L509.3 55.66L505.95 61.26Z" fill="#008080"/>
<path d="M502.85 57.44L509.55 57.44L506.2 63.04Z" fill="#008080"/>
<path d="M503.07 59.23L509.77 59.23L506.42 64.83Z" fill="#008080"/>
<path d="M503.32 61.01L510.02 61.01L506.67 66.61Z" fill="#008080"/>
<path d="M503.68 62.77L510.38 62.77L507.03 68.37Z" fill="#008080"/>
<path d="M504.6 62.16L511.3 62.16L507.95 67.76Z" fill="#008080"/>
<path d="M505.15 60.45L511.85 60.45L508.5 66.05Z" fill="#008080"/>
<path d="M505.83 58.78L512.53 58.78L509.18 64.38Z" fill="#008080"/>
<path d="M506.64 57.17L513.34 57.17L509.99 62.77Z" fill="#008080"/>
<path d="M507.62 55.67L514.32 55.67L510.97 61.27Z" fill="#008080"/>
<path d="M509 54.53L515.7 54.53L512.35 60.13Z" fill="#008080"/>
<path d="M664.55 118.43L671.25 118.43L667.9 124.03Z" fill="#008080"/>
<path d="M662.92 117.72L669.62 117.72L666.27 123.32Z" fill="#008080"/>
<path d="M661.16 118.04L667.86 118.04L664.51 123.64Z" fill="#008080"/>
<path d="M659.49 118.7L666.19 118.7L662.84 124.3Z" fill="#008080"/>
<path d="M657.92 119.59L664.62 119.59L661.27 125.19Z" fill="#008080"/>
<path d="M656.53 120.73L663.23 120.73L659.88 126.33Z" fill="#008080"/>
<path d="M655.26 122L661.96 122L658.61 127.6Z" fill="#008080"/>
<path d="M654.01 123.3L660.71 123.3L657.36 128.9Z" fill="#008080"/>
<path d="M652.71 124.54L659.41 124.54L656.06 130.14Z" fill="#008080"/>
<path d="M651.42 125.79L658.12 125.79L654.77 131.39Z" fill="#008080"/>
<path d="M650.09 127.01L656.79 127.01L653.44 132.61Z" fill="#008080"/>
<path d="M648.64 128.07L655.34 128.07L651.99 133.67Z" fill="#008080"/>
<path d="M647.07 128.95L653.77 128.95L650.42 134.55Z" fill="#008080"/>
<path d="M645.37 129.52L652.07 129.52L648.72 135.12Z" fill="#008080"/>
<path d="M643.57 129.63L650.27 129.63L646.92 135.23Z" fill="#008080"/>
<path d="M641.79 129.43L648.49 129.43L645.14 135.03Z" fill="#008080"/>
<path d="M640.03 129.04L646.73 129.04L643.38 134.64Z" fill="#008080"/>
<path d="M638.33 128.45L645.03 128.45L641.68 134.05Z" fill="#008080"/>
<path d="M636.74 127.62L643.44 127.62L640.09 133.22Z" fill="#008080"/>
<path d="M635.29 126.56L641.99 126.56L638.64 132.16Z" fill="#008080"/>
<path d="M633.95 125.35L640.65 125.35L637.3 130.95Z" fill="#008080"/>
<path d="M632.7 124.06L639.4 124.06L636.05 129.66Z" fill="#008080"/>
<path d="M631.51 122.71L638.21 122.71L634.86 128.31Z" fill="#008080"/>
<path d="M630.39 121.3L637.09 121.3L633.74 126.9Z" fill="#008080"/>
<path d="M629.35 119.83L636.05 119.83L632.7 125.43Z" fill="#008080"/>
<path d="M628.37 118.32L635.07 118.32L631.72 123.92Z" fill="#008080"/>
<path d="M627.46 116.76L634.16 116.76L630.81 122.36Z" fill="#008080"/>
<path d="M626.63 115.17L633.33 115.17L629.98 120.77Z" fill="#008080"/>
<path d="M625.85 113.55L632.55 113.55L629.2 119.15Z" fill="#008080"/>
<path d="M625.09 111.92L631.79 111.92L628.44 117.52Z" fill="#008080"/>
<path d="M624.34 110.28L631.04 110.28L627.69 115.88Z" fill="#008080"/>
<path d="M623.6 108.64L630.3 108.64L626.95 114.24Z" fill="#008080"/>
<path d="M622.87 106.99L629.57 106.99L626.22 112.59Z" fill="#008080"/>
<path d="M622.16 105.34L628.86 105.34L625.51 110.94Z" fill="#008080"/>
<path d="M621.45 103.68L628.15 103.68L624.8 109.28Z" fill="#008080"/>
<path d="M620.76 102.02L627.46 102.02L624.11 107.62Z" fill="#008080"/>
<path d="M620.07 100.36L626.77 100.36L623.42 105.96Z" fill="#008080"/>
<path d="M619.39 98.69L626.09 98.69L622.74 104.29Z" fill="#008080"/>
<path d="M618.71 97.03L625.41 97.03L622.06 102.63Z" fill="#008080"/>
<path d="M618.05 95.35L624.75 95.35L621.4 100.95Z" fill="#008080"/>
<path d="M617.39 93.68L624.09 93.68L620.74 99.28Z" fill="#008080"/>
<path d="M616.74 92L623.44 92L620.09 97.6Z" fill="#008080"/>
<path d="M616.1 90.32L622.8 90.32L619.45 95.92Z" fill="#008080"/>
<path d="M615.46 88.63L622.16 88.63L618.81 94.23Z" fill="#008080"/>
<path d="M614.84 86.94L621.54 86.94L618.19 92.54Z" fill="#008080"/>
<path d="M614.22 85.25L620.92 85.25L617.57 90.85Z" fill="#008080"/>
<path d="M613.61 83.56L620.31 83.56L616.96 89.16Z" fill="#008080"/>
<path d="M613.02 81.86L619.72 81.86L616.37 87.46Z" fill="#008080"/>
<path d="M612.43 80.16L619.13 80.16L615.78 85.76Z" fill="#008080"/>
<path d="M611.86 78.45L618.56 78.45L615.21 84.05Z" fill="#008080"/>
<path d="M611.29 76.74L617.99 76.74L614.64 82.34Z" fill="#008080"/>
<path d="M610.74 75.03L617.44 75.03L614.09 80.63Z" fill="#008080"/>
<path d="M610.2 73.32L616.9 73.32L613.55 78.92Z" fill="#008080"/>
<path d="M609.67 71.6L616.37 71.6L613.02 77.2Z" fill="#008080"/>
<path d="M609.15 69.87L615.85 69.87L612.5 75.47Z" fill="#008080"/>
<path d="M608.65 68.14L615.35 68.14L612 73.74Z" fill="#008080"/>
<path d="M608.18 66.4L614.88 66.4L611.53 72Z" fill="#008080"/>
<path d="M607.74 64.66L614.44 64.66L611.09 70.26Z" fill="#008080"/>
<path d="M607.32 62.91L614.02 62.91L610.67 68.51Z" fill="#008080"/>
<path d="M606.9 61.16L613.6 61.16L610.25 66.76Z" fill="#008080"/>
<path d="M606.47 59.41L613.17 59.41L609.82 65.01Z" fill="#008080"/>
<path d="M606.03 57.67L612.73 57.67L609.38 63.27Z" fill="#008080"/>
<path d="M605.57 55.92L612.27 55.92L608.92 61.52Z" fill="#008080"/>
<path d="M605.11 54.19L611.81 54.19L608.46 59.79Z" fill="#008080"/>
<path d="M604.63 52.45L611.33 52.45L607.98 58.05Z" fill="#008080"/>
<path d="M604.15 50.71L610.85 50.71L607.5 56.31Z" fill="#008080"/>
<path d="M603.66 48.98L610.36 48.98L607.01 54.58Z" fill="#008080"/>
<path d="M603.13 47.26L609.83 47.26L606.48 52.86Z" fill="#008080"/>
<path d="M602.59 45.54L609.29 45.54L605.94 51.14Z" fill="#008080"/>
<path d="M602.06 43.82L608.76 43.82L605.41 49.42Z" fill="#008080"/>
<path d="M601.58 42.09L608.28 42.09L604.93 47.69Z" fill="#008080"/>
<path d="M601.19 40.33L607.89 40.33L604.54 45.93Z" fill="#008080"/>
<path d="M600.95 38.55L607.65 38.55L604.3 44.15Z" fill="#008080"/>
<path d="M600.77 36.76L607.47 36.76L604.12 42.36Z" fill="#008080"/>
<path d="M600.56 34.97L607.26 34.97L603.91 40.57Z" fill="#008080"/>
<path d="M600.17 33.22L606.87 33.22L603.52 38.82Z" fill="#008080"/>
<path d="M599.43 31.58L606.13 31.58L602.78 37.18Z" fill="#008080"/>
<path d="M598.4 30.11L605.1 30.11L601.75 35.71Z" fill="#008080"/>
<path d="M597.19 28.78L603.89 28.78L600.54 34.38Z" fill="#008080"/>
<path d="M595.8 27.64L602.5 27.64L599.15 33.24Z" fill="#008080"/>
<path d="M594.1 27.09L600.8 27.09L597.45 32.69Z" fill="#008080"/>
<path d="M592.31 27.14L599.01 27.14L595.66 32.74Z" fill="#008080"/>
<path d="M590.62 27.75L597.32 27.75L593.97 33.35Z" fill="#008080"/>
<path d="M589.06 28.64L595.76 28.64L592.41 34.24Z" fill="#008080"/>
<path d="M587.69 29.8L594.39 29.8L591.04 35.4Z" fill="#008080"/>
<path d="M586.53 31.18L593.23 31.18L589.88 36.78Z" fill="#008080"/>
<path d="M585.6 32.72L592.3 32.72L588.95 38.32Z" fill="#008080"/>
<path d="M584.84 34.35L591.54 34.35L588.19 39.95Z" fill="#008080"/>
<path d="M584.18 36.02L590.88 36.02L587.53 41.62Z" fill="#008080"/>
<path d="M583.58 37.72L590.28 37.72L586.93 43.32Z" fill="#008080"/>
<path d="M583.04 39.44L589.74 39.44L586.39 45.04Z" fill="#008080"/>
<path d="M582.54 41.17L589.24 41.17L585.89 46.77Z" fill="#008080"/>
<path d="M582.12 42.92L588.82 42.92L585.47 48.52Z" fill="#008080"/>
<path d="M581.77 44.68L588.47 44.68L585.12 50.28Z" fill="#008080"/>
<path d="M581.45 46.45L588.15 46.45L584.8 52.05Z" fill="#008080"/>
<path d="M581.13 48.23L587.83 48.23L584.48 53.83Z" fill="#008080"/>
<path d="M580.78 49.99L587.48 49.99L584.13 55.59Z" fill="#008080"/>
<path d="M580.42 51.75L587.12 51.75L583.77 57.35Z" fill="#008080"/>
<path d="M580.06 53.52L586.76 53.52L583.41 59.12Z" fill="#008080"/>
<path d="M579.7 55.28L586.4 55.28L583.05 60.88Z" fill="#008080"/>
<path d="M579.33 57.04L586.03 57.04L582.68 62.64Z" fill="#008080"/>
<path d="M578.98 58.81L585.68 58.81L582.33 64.41Z" fill="#008080"/>
<path d="M578.67 60.58L585.37 60.58L582.02 66.18Z" fill="#008080"/>
<path d="M578.37 62.36L585.07 62.36L581.72 67.96Z" fill="#008080"/>
<path d="M578.05 64.13L584.75 64.13L581.4 69.73Z" fill="#008080"/>
<path d="M577.63 65.88L584.33 65.88L580.98 71.48Z" fill="#008080"/>
<path d="M576.61 66.03L583.31 66.03L579.96 71.63Z" fill="#008080"/>
<path d="M576.01 64.33L582.71 64.33L579.36 69.93Z" fill="#008080"/>
<path d="M575.56 62.59L582.26 62.59L578.91 68.19Z" fill="#008080"/>
<path d="M575.4 60.8L582.1 60.8L578.75 66.4Z" fill="#008080"/>
<path d="M575.41 59L582.11 59L578.76 64.6Z" fill="#008080"/>
<path d="M575.3 57.21L582 57.21L578.65 62.81Z" fill="#008080"/>
<path d="M574.41 55.7L581.11 55.7L577.76 61.3Z" fill="#008080"/>
<path d="M572.82 54.86L579.52 54.86L576.17 60.46Z" fill="#008080"/>
<path d="M415.45 206.33L422.15 206.33L418.8 211.93Z" fill="#008080"/>
<path d="M415.45 185.33L422.15 185.33L418.8 190.93Z" fill="#008080"/>
<path d="M416.05 165.13L422.75 165.13L419.4 170.73Z" fill="#008080"/>
<path d="M416.45 143.53L423.15 143.53L419.8 149.13Z" fill="#008080"/>
<path d="M417.05 125.43L423.75 125.43L420.4 131.03Z" fill="#008080"/>
<path d="M663.45 125.43L670.15 125.43L666.8 131.03Z" fill="#008080"/>
<path d="M663.65 132.73L670.35 132.73L667 138.33Z" fill="#008080"/>
<path d="M663.85 139.53L670.55 139.53L667.2 145.13Z" fill="#008080"/>
<path d="M664.05 147.03L670.75 147.03L667.4 152.63Z" fill="#008080"/>
<path d="M664.25 154.33L670.95 154.33L667.6 159.93Z" fill="#008080"/>
<path d="M664.65 164.13L671.35 164.13L668 169.73Z" fill="#008080"/>
<path d="M665.25 183.73L671.95 183.73L668.6 189.33Z" fill="#008080"/>
<path d="M665.65 205.33L672.35 205.33L669 210.93Z" fill="#008080"/>
<rect x="80.7" y="474.1" width="5" height="5" fill="#000"/>
<rect x="81.9" y="473.9" width="5" height="5" fill="#000"/>
<rect x="82.7" y="465" width="5" height="5" fill="#000"/>
<rect x="84" y="418" width="5" height="5" fill="#000"/>
<rect x="86.2" y="319.8" width="5" height="5" fill="#000"/>
<rect x="89.5" y="306.7" width="5" height="5" fill="#000"/>
<rect x="95.3" y="354.3" width="5" height="5" fill="#000"/>
<rect x="104" y="407.1" width="5" height="5" fill="#000"/>
<rect x="119.7" y="441.7" width="5" height="5" fill="#000"/>
<rect x="140.2" y="460.7" width="5" height="5" fill="#000"/>
<rect x="175" y="469.8" width="5" height="5" fill="#000"/>
<rect x="230.8" y="473.2" width="5" height="5" fill="#000"/>
<rect x="318.9" y="474" width="5" height="5" fill="#000"/>
<circle cx="83.2" cy="476.4" r="2.75" fill="#f00"/>
<circle cx="84.4" cy="476.3" r="2.75" fill="#f00"/>
<circle cx="85.2" cy="467.3" r="2.75" fill="#f00"/>
<circle cx="86.5" cy="420.3" r="2.75" fill="#f00"/>
<circle cx="88.7" cy="321.4" r="2.75" fill="#f00"/>
<circle cx="92" cy="307.8" r="2.75" fill="#f00"/>
<circle cx="97.8" cy="356.6" r="2.75" fill="#f00"/>
<circle cx="106.5" cy="410.8" r="2.75" fill="#f00"/>
<circle cx="122.2" cy="445.5" r="2.75" fill="#f00"/>
<circle cx="142.7" cy="464.3" r="2.75" fill="#f00"/>
<circle cx="177.5" cy="472.8" r="2.75" fill="#f00"/>
<circle cx="233.3" cy="475.8" r="2.75" fill="#f00"/>
<circle cx="321.4" cy="476.5" r="2.75" fill="#f00"/>
<path d="M79.85 478.27L86.55 478.27L83.2 472.67Z" fill="#00f"/>
<path d="M81.05 478.07L87.75 478.07L84.4 472.47Z" fill="#00f"/>
<path d="M81.85 468.97L88.55 468.97L85.2 463.37Z" fill="#00f"/>
<path d="M83.15 422.67L89.85 422.67L86.5 417.07Z" fill="#00f"/>
<path d="M85.35 321.37L92.05 321.37L88.7 315.77Z" fill="#00f"/>
<path d="M88.65 307.27L95.35 307.27L92 301.67Z" fill="#00f"/>
<path d="M94.45 358.07L101.15 358.07L97.8 352.47Z" fill="#00f"/>
<path d="M103.15 413.67L109.85 413.67L106.5 408.07Z" fill="#00f"/>
<path d="M118.85 448.87L125.55 448.87L122.2 443.27Z" fill="#00f"/>
<path d="M139.35 467.37L146.05 467.37L142.7 461.77Z" fill="#00f"/>
<path d="M174.15 475.17L180.85 475.17L177.5 469.57Z" fill="#00f"/>
<path d="M229.95 477.87L236.65 477.87L233.3 472.27Z" fill="#00f"/>
<path d="M318.05 478.37L324.75 478.37L321.4 472.77Z" fill="#00f"/>
<path d="M79.85 474.53L86.55 474.53L83.2 480.13Z" fill="#008080"/>
<path d="M81.05 474.33L87.75 474.33L84.4 479.93Z" fill="#008080"/>
<path d="M81.85 465.23L88.55 465.23L85.2 470.83Z" fill="#008080"/>
<path d="M83.15 419.93L89.85 419.93L86.5 425.53Z" fill="#008080"/>
<path d="M85.35 316.73L92.05 316.73L88.7 322.33Z" fill="#008080"/>
<path d="M88.65 300.63L95.35 300.63L92 306.23Z" fill="#008080"/>
<path d="M94.45 354.13L101.15 354.13L97.8 359.73Z" fill="#008080"/>
<path d="M103.15 410.73L109.85 410.73L106.5 416.33Z" fill="#008080"/>
<path d="M118.85 446.33L125.55 446.33L122.2 451.93Z" fill="#008080"/>
<path d="M139.35 464.63L146.05 464.63L142.7 470.23Z" fill="#008080"/>
<path d="M174.15 471.73L180.85 471.73L177.5 477.33Z" fill="#008080"/>
<path d="M229.95 474.13L236.65 474.13L233.3 479.73Z" fill="#008080"/>
<path d="M318.05 474.63L324.75 474.63L321.4 480.23Z" fill="#008080"/>
<rect x="431" y="473.8" width="5" height="5" fill="#000"/>
<rect x="432.1" y="469.5" width="5" height="5" fill="#000"/>
<rect x="432.9" y="443.3" width="5" height="5" fill="#000"/>
<rect x="434.4" y="393.3" width="5" height="5" fill="#000"/>
<rect x="436.3" y="321" width="5" height="5" fill="#000"/>
<rect x="440" y="294.7" width="5" height="5" fill="#000"/>
<rect x="445.4" y="319.3" width="5" height="5" fill="#000"/>
<rect x="454.1" y="365.1" width="5" height="5" fill="#000"/>
<rect x="469.9" y="411.5" width="5" height="5" fill="#000"/>
<rect x="490.5" y="444.6" width="5" height="5" fill="#000"/>
<rect x="525.2" y="463.1" width="5" height="5" fill="#000"/>
<rect x="580.9" y="470.8" width="5" height="5" fill="#000"/>
<rect x="669.5" y="473.2" width="5" height="5" fill="#000"/>
<circle cx="433.5" cy="476.2" r="2.75" fill="#f00"/>
<circle cx="434.6" cy="471.6" r="2.75" fill="#f00"/>
<circle cx="435.4" cy="443.5" r="2.75" fill="#f00"/>
<circle cx="436.9" cy="395.6" r="2.75" fill="#f00"/>
<circle cx="438.8" cy="323.5" r="2.75" fill="#f00"/>
<circle cx="442.5" cy="296.1" r="2.75" fill="#f00"/>
<circle cx="447.9" cy="321.6" r="2.75" fill="#f00"/>
<circle cx="456.6" cy="369" r="2.75" fill="#f00"/>
<circle cx="472.4" cy="416" r="2.75" fill="#f00"/>
<circle cx="493" cy="448.8" r="2.75" fill="#f00"/>
<circle cx="527.7" cy="466.2" r="2.75" fill="#f00"/>
<circle cx="583.4" cy="473.4" r="2.75" fill="#f00"/>
<circle cx="672" cy="475.7" r="2.75" fill="#f00"/>
<path d="M430.15 477.97L436.85 477.97L433.5 472.37Z" fill="#00f"/>
<path d="M431.25 472.47L437.95 472.47L434.6 466.87Z" fill="#00f"/>
<path d="M432.05 442.87L438.75 442.87L435.4 437.27Z" fill="#00f"/>
<path d="M433.55 397.17L440.25 397.17L436.9 391.57Z" fill="#00f"/>
<path d="M435.45 324.17L442.15 324.17L438.8 318.57Z" fill="#00f"/>
<path d="M439.15 295.47L445.85 295.47L442.5 289.87Z" fill="#00f"/>
<path d="M444.55 322.87L451.25 322.87L447.9 317.27Z" fill="#00f"/>
<path d="M453.25 372.87L459.95 372.87L456.6 367.27Z" fill="#00f"/>
<path d="M469.05 420.37L475.75 420.37L472.4 414.77Z" fill="#00f"/>
<path d="M489.65 452.37L496.35 452.37L493 446.77Z" fill="#00f"/>
<path d="M524.35 468.87L531.05 468.87L527.7 463.27Z" fill="#00f"/>
<path d="M580.05 475.47L586.75 475.47L583.4 469.87Z" fill="#00f"/>
<path d="M668.65 477.57L675.35 477.57L672 471.97Z" fill="#00f"/>
<path d="M430.15 474.23L436.85 474.23L433.5 479.83Z" fill="#008080"/>
<path d="M431.25 468.23L437.95 468.23L434.6 473.83Z" fill="#008080"/>
<path d="M432.05 438.33L438.75 438.33L435.4 443.93Z" fill="#008080"/>
<path d="M433.55 393.33L440.25 393.33L436.9 398.93Z" fill="#008080"/>
<path d="M435.45 319.13L442.15 319.13L438.8 324.73Z" fill="#008080"/>
<path d="M439.15 289.63L445.85 289.63L442.5 295.23Z" fill="#008080"/>
<path d="M444.55 319.13L451.25 319.13L447.9 324.73Z" fill="#008080"/>
<path d="M453.25 370.23L459.95 370.23L456.6 375.83Z" fill="#008080"/>
<path d="M469.05 418.13L475.75 418.13L472.4 423.73Z" fill="#008080"/>
<path d="M489.65 449.93L496.35 449.93L493 455.53Z" fill="#008080"/>
<path d="M524.35 465.73L531.05 465.73L527.7 471.33Z" fill="#008080"/>
<path d="M580.05 471.83L586.75 471.83L583.4 477.43Z" fill="#008080"/>
<path d="M668.65 473.83L675.35 473.83L672 479.43Z" fill="#008080"/>
<rect x="163.9" y="22.6" width="5" height="5" fill="#000"/>
<text x="181.7" y="29.1" class="lg">N=1052968</text>
<circle cx="166.4" cy="39.6" r="2.75" fill="#f00"/>
<text x="181.7" y="43.6" class="lg">N=1789814</text>
<path d="M163.05 55.97L169.75 55.97L166.4 50.37Z" fill="#00f"/>
<text x="181.7" y="58.1" class="lg">N=2664451</text>
<path d="M163.05 66.73L169.75 66.73L166.4 72.33Z" fill="#008080"/>
<text x="181.7" y="72.6" class="lg">N=3265367</text>
<rect x="512.2" y="104.6" width="5" height="5" fill="#000"/>
<text x="530.3" y="111.1" class="lg">N=1052968</text>
<circle cx="514.7" cy="121.7" r="2.75" fill="#f00"/>
<text x="530.3" y="125.7" class="lg">N=1789814</text>
<path d="M511.35 138.17L518.05 138.17L514.7 132.57Z" fill="#00f"/>
<text x="530.3" y="140.3" class="lg">N=2664451</text>
<path d="M511.35 149.03L518.05 149.03L514.7 154.63Z" fill="#008080"/>
<text x="530.3" y="154.9" class="lg">N=3265367</text>
<rect x="233.1" y="296.6" width="4.6" height="4.6" fill="#000"/>
<text x="251.2" y="302.9" class="lg">N=1052968</text>
<circle cx="235.4" cy="313.5" r="2.53" fill="#f00"/>
<text x="251.2" y="317.5" class="lg">N=1789814</text>
<path d="M232.32 329.82L238.48 329.82L235.4 324.67Z" fill="#00f"/>
<text x="251.2" y="332.1" class="lg">N=2664451</text>
<path d="M232.32 340.98L238.48 340.98L235.4 346.13Z" fill="#008080"/>
<text x="251.2" y="346.7" class="lg">N=3265367</text>
<rect x="564.9" y="288.1" width="4.6" height="4.6" fill="#000"/>
<text x="582.8" y="294.4" class="lg">N=1052968</text>
<circle cx="567.2" cy="304.9" r="2.53" fill="#f00"/>
<text x="582.8" y="308.9" class="lg">N=1789814</text>
<path d="M564.12 321.12L570.28 321.12L567.2 315.97Z" fill="#00f"/>
<text x="582.8" y="323.4" class="lg">N=2664451</text>
<path d="M564.12 332.18L570.28 332.18L567.2 337.33Z" fill="#008080"/>
<text x="582.8" y="337.9" class="lg">N=3265367</text>
<text x="51.5" y="22.2" class="pt">(A)</text>
<text x="403.2" y="21.6" class="pt">(B)</text>
<text x="52.6" y="288.2" class="pt">(C)</text>
<text x="404.3" y="287.7" class="pt">(D)</text>
<text x="15.9" y="124.6" class="al" style="font-size:13.9px" text-anchor="middle" transform="rotate(-90 15.9 124.6)">Velocity(m/s)</text>
<text x="366.3" y="125.7" class="al" style="font-size:13.9px" text-anchor="middle" transform="rotate(-90 366.3 125.7)">Velocity(m/s)</text>
<text x="9.4" y="391" class="al" text-anchor="middle" transform="rotate(-90 9.4 391)">Bin fraction(-)</text>
<text x="360.1" y="391" class="al" text-anchor="middle" transform="rotate(-90 360.1 391)">Bin fraction(-)</text>
<text x="194.4" y="260.8" class="al" text-anchor="middle">x(m)</text>
<text x="544.6" y="260.8" class="al" text-anchor="middle">x(m)</text>
<text x="194.4" y="529.3" class="al" text-anchor="middle">d(m)</text>
<text x="544.3" y="529.3" class="al" text-anchor="middle">d(m)</text>
</svg>
</body></html>
